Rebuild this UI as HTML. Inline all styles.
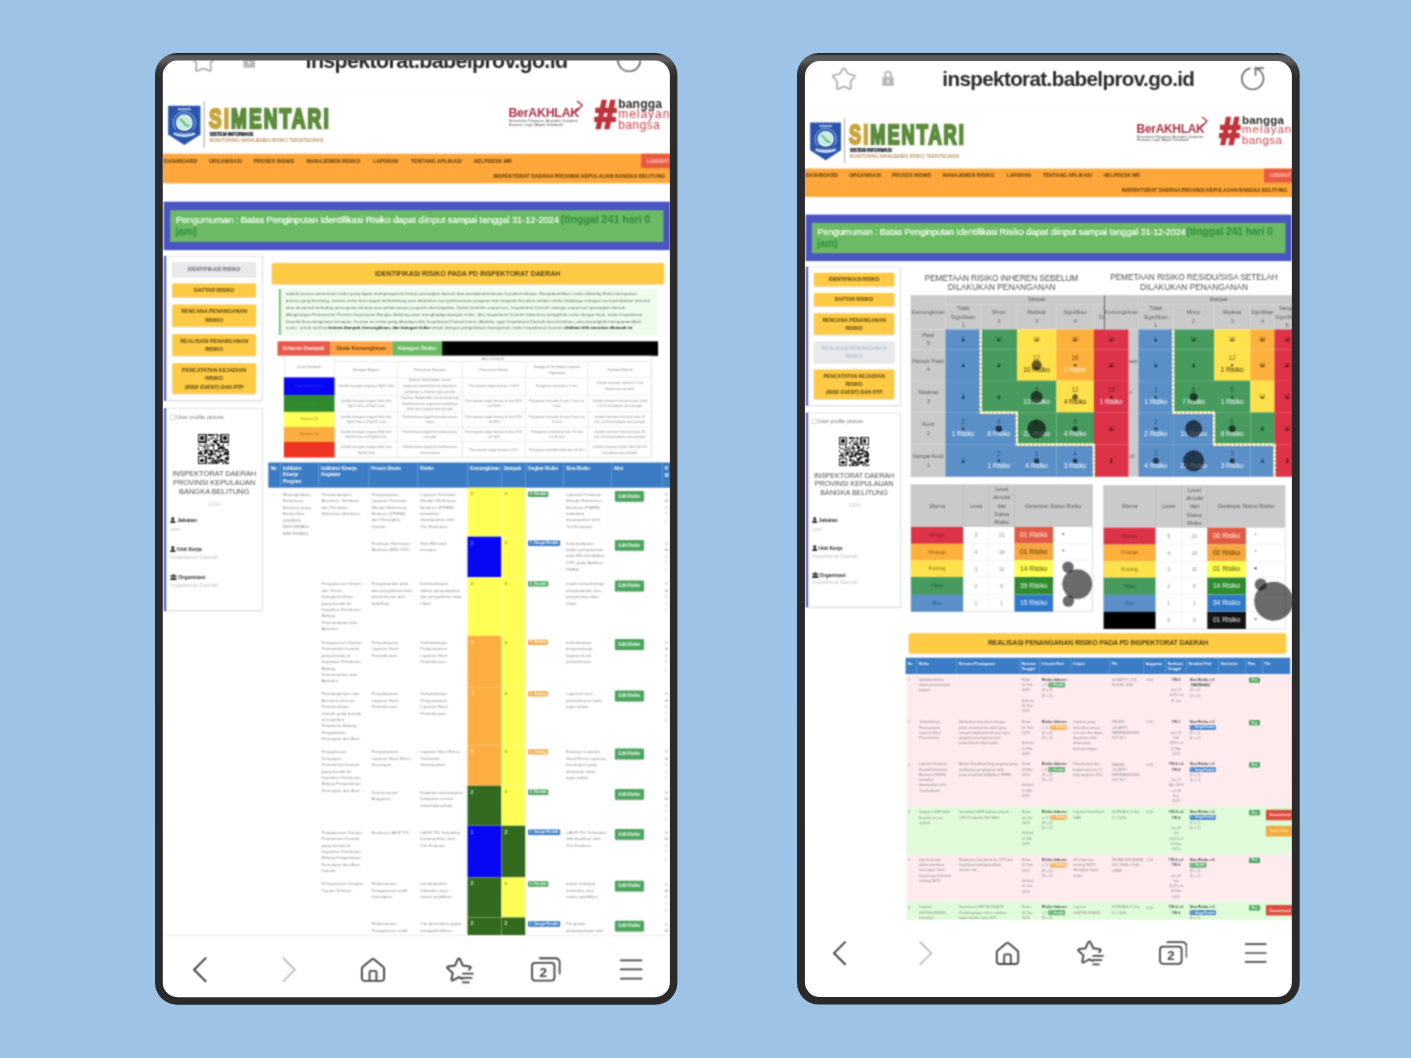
<!DOCTYPE html>
<html lang="id"><head><meta charset="utf-8"><title>SIMENTARI - Inspektorat Daerah Provinsi Kepulauan Bangka Belitung</title>
<style>
html,body{margin:0;padding:0;}
body{width:1411px;height:1058px;overflow:hidden;background:#9dc3e6;position:relative;font-family:"Liberation Sans",sans-serif;}
div,svg{position:absolute;box-sizing:content-box;}
.sc{background:#fff;overflow:hidden;}
.web{overflow:hidden;}
.fx{filter:url(#soft);background:#fff;overflow:hidden;}
</style></head>
<body>
<svg width="0" height="0" style="left:0;top:0"><filter id="soft" x="0" y="0" width="100%" height="100%" color-interpolation-filters="sRGB"><feConvolveMatrix order="3" kernelMatrix="1 2 1 2 4 2 1 2 1" divisor="16" edgeMode="duplicate" preserveAlpha="true"/></filter></svg>
<div class="sc" style="left:163px;top:60px;width:508px;height:938px;"><div class="fx" style="left:0;top:0;width:508px;height:938px;"><div class="web" style="left:0;top:0;width:508px;height:875.2px;"><svg style="left:4.97px;top:45.34px;width:32.71px;height:39.93px;" viewBox="0 0 31.4 38.3" preserveAspectRatio="none"><path d="M0.1 0.6 H31.2 V28.2 L15.7 38.3 L0.1 28.2 Z" fill="#2b55ad"/><circle cx="15.7" cy="17" r="10.6" fill="none" stroke="#9cc3ea" stroke-width="0.9"/><circle cx="15.7" cy="17" r="7.4" fill="#c3eedd" stroke="#e9f6ff" stroke-width="1.4"/><path d="M11.6 13.6 q3 1.4 4 4.2 q1.6 2.2 4.4 2.4" fill="none" stroke="#4fae7c" stroke-width="1.5" stroke-linecap="round"/><rect x="9.4" y="3.4" width="12.6" height="1.2" fill="#e6eefb"/><path d="M5.6 27.4 q10 4.4 20.2 0" fill="none" stroke="#e6eefb" stroke-width="2.2"/><path d="M8 24 q7.6 3 15.4 0" fill="none" stroke="#16306e" stroke-width="1.2"/></svg>
<svg style="left:39px;top:40px;width:4px;height:49px;" viewBox="39 40 4 49"><rect x="40.8" y="41.38" width="0.63" height="46.29" fill="#6a6e78"/></svg>
<div style="left:45.95px;top:42.95px;height:31.25px;line-height:31.25px;font-size:28.3px;font-weight:bold;white-space:nowrap;transform-origin:0 50%;transform:scaleX(0.67);-webkit-text-stroke:2.6px currentColor;color:#5e8c3c;letter-spacing:3.13px"><span style="color:#c9a53c">SI</span>MENTARI</div>
<div style="left:46.53px;top:71px;width:47.75px;height:7px;line-height:7px;font-size:4.79px;color:#22262e;white-space:nowrap;text-align:left;font-weight:bold;letter-spacing:-0.14px;text-shadow:0 0 0.4px #22262e;">SISTEM INFORMASI</div>
<div style="left:46.53px;top:77px;width:118.17px;height:7px;line-height:7px;font-size:4.69px;color:#a8702f;white-space:nowrap;text-align:left;">MONITORING MANAJEMEN RISIKO TERINTEGRASI</div>
<div style="left:345.39px;top:46px;width:74.63px;height:15px;line-height:15px;font-size:12.4px;color:#a93248;white-space:nowrap;text-align:left;font-weight:bold;letter-spacing:-0.26px;">BerAKHLAK</div>
<svg style="left:411.75px;top:39.71px;width:8.65px;height:12.51px;" viewBox="0 0 9 13" preserveAspectRatio="none"><path d="M1.4 12 L7.6 5.4 L2.6 1.4" fill="none" stroke="#a93248" stroke-width="1.5" stroke-linecap="round" stroke-linejoin="round"/></svg>
<div style="left:345.81px;top:59px;width:74.21px;height:5px;line-height:5px;font-size:3.13px;color:#444;white-space:nowrap;text-align:left;letter-spacing:0.13px;">Berorientasi Pelayanan, Akuntabel, Kompeten,</div>
<div style="left:345.81px;top:63px;width:58.17px;height:5px;line-height:5px;font-size:3.13px;color:#444;white-space:nowrap;text-align:left;letter-spacing:0.1px;">Harmonis, Loyal, Adaptif, Kolaboratif</div>
<div style="left:431.23px;top:32px;width:25.44px;height:46px;line-height:46px;font-size:38.54px;color:#bf343c;white-space:nowrap;text-align:left;font-weight:bold;font-style:italic;-webkit-text-stroke:2.4px #bf343c;">#</div>
<div style="left:455.19px;top:37px;width:47.96px;height:15px;line-height:15px;font-size:12.08px;color:#2b2b2b;white-space:nowrap;text-align:left;font-weight:bold;letter-spacing:0.17px;">bangga</div>
<div style="left:455.19px;top:47px;width:59.84px;height:15px;line-height:15px;font-size:12.08px;color:#c9454c;white-space:nowrap;text-align:left;letter-spacing:0.93px;">melayani</div>
<div style="left:455.19px;top:58px;width:45.88px;height:15px;line-height:15px;font-size:12.08px;color:#c9454c;white-space:nowrap;text-align:left;letter-spacing:0.37px;">bangsa</div>
<svg style="left:-7px;top:92px;width:522px;height:33px;" viewBox="-7 92 522 33"><rect x="-5.24" y="93.71" width="518.77" height="29.61" fill="#ffa73a"/></svg>
<div style="left:0.8px;top:98px;width:37.33px;height:7px;line-height:7px;font-size:5.21px;color:#5c3b0d;white-space:nowrap;text-align:left;font-weight:bold;letter-spacing:-0.06px;">DASHBOARD</div>
<div style="left:46.01px;top:98px;width:37.02px;height:7px;line-height:7px;font-size:5.21px;color:#5c3b0d;white-space:nowrap;text-align:left;font-weight:bold;">ORGANISASI</div>
<div style="left:90.59px;top:98px;width:44.63px;height:7px;line-height:7px;font-size:5.21px;color:#5c3b0d;white-space:nowrap;text-align:left;font-weight:bold;letter-spacing:0.01px;">PROSES BISNIS</div>
<div style="left:143.41px;top:98px;width:57.86px;height:7px;line-height:7px;font-size:5.21px;color:#5c3b0d;white-space:nowrap;text-align:left;font-weight:bold;letter-spacing:0.06px;">MANAJEMEN RISIKO</div>
<div style="left:210.18px;top:98px;width:29.1px;height:7px;line-height:7px;font-size:5.21px;color:#5c3b0d;white-space:nowrap;text-align:left;font-weight:bold;letter-spacing:-0.09px;">LAPORAN</div>
<div style="left:247.79px;top:98px;width:54.94px;height:7px;line-height:7px;font-size:5.21px;color:#5c3b0d;white-space:nowrap;text-align:left;font-weight:bold;letter-spacing:0.04px;">TENTANG APLIKASI</div>
<div style="left:310.81px;top:98px;width:42.13px;height:7px;line-height:7px;font-size:5.21px;color:#5c3b0d;white-space:nowrap;text-align:left;font-weight:bold;letter-spacing:0.02px;">HELPDESK MR</div>
<svg style="left:477px;top:92px;width:38px;height:18px;" viewBox="477 92 38 18"><rect x="478.11" y="93.71" width="35.42" height="14.49" fill="#ea5a41"/></svg>
<div style="left:482.05px;top:98px;width:25.88px;height:7px;line-height:7px;font-size:5.1px;color:#ffd9cf;white-space:nowrap;text-align:center;font-weight:bold;letter-spacing:0.01px;">LOGOUT</div>
<div style="left:330.19px;top:113px;width:176.4px;height:7px;line-height:7px;font-size:5.21px;color:#5c3b0d;white-space:nowrap;text-align:left;font-weight:bold;letter-spacing:-0.02px;">INSPEKTORAT DAERAH PROVINSI KEPULAUAN BANGKA BELITUNG</div>
<svg style="left:-1px;top:140px;width:509px;height:52px;" viewBox="-1 140 509 52"><rect x="0.7" y="141.67" width="506.16" height="48.48" fill="#4b55c1"/><rect x="7.15" y="150.22" width="493.24" height="31.69" fill="#6cb966"/></svg>
<div style="left:13.09px;top:154px;width:386.93px;height:13px;line-height:13px;font-size:9.38px;color:#f3fdee;white-space:nowrap;text-align:left;letter-spacing:-0.12px;text-shadow:0 0 0.5px #f3fdee;">Pengumuman : Batas Penginputan Identifikasi Risiko dapat diinput sampai tanggal 31-12-2024</div>
<div style="left:397.48px;top:153px;width:93.9px;height:13px;line-height:13px;font-size:10.63px;color:#2f9038;white-space:nowrap;text-align:left;font-weight:bold;letter-spacing:-0.02px;">(tinggal 241 hari 0</div>
<div style="left:12.47px;top:165px;width:25.25px;height:13px;line-height:13px;font-size:10.63px;color:#2f9038;white-space:nowrap;text-align:left;font-weight:bold;letter-spacing:-0.15px;">jam)</div>
<svg style="left:-1px;top:194px;width:103px;height:149px;" viewBox="-1 194 103 149"><rect x="0.46" y="195.96" width="99.64" height="145.9" fill="rgba(0,0,0,.10)" rx="0.55" opacity="0.7"/><rect x="1.01" y="195.98" width="98.54" height="144.8" fill="#d6d6de"/><rect x="1.01" y="195.98" width="2.29" height="144.8" fill="#5256c4"/><rect x="3.3" y="196.61" width="95.63" height="143.55" fill="#fff"/><rect x="8.9" y="202.53" width="84.42" height="14.95" fill="rgba(0,0,0,.18)" rx="1.48" opacity="0.7"/><rect x="9.34" y="202.34" width="83.54" height="14.07" fill="#e9e9ec" rx="1.04"/></svg>
<div style="left:22.79px;top:206px;width:56.61px;height:7px;line-height:7px;font-size:5.21px;color:#6b6e74;white-space:nowrap;text-align:center;font-weight:bold;letter-spacing:-0.05px;">IDENTIFIKASI RISIKO</div>
<svg style="left:7px;top:222px;width:88px;height:18px;" viewBox="7 222 88 18"><rect x="8.9" y="223.59" width="84.42" height="14.74" fill="rgba(0,0,0,.18)" rx="1.48" opacity="0.7"/><rect x="9.34" y="223.4" width="83.54" height="13.87" fill="#ffcb45" rx="1.04"/></svg>
<div style="left:29px;top:227px;width:44.21px;height:7px;line-height:7px;font-size:5.21px;color:#57440f;white-space:nowrap;text-align:center;font-weight:bold;letter-spacing:-0.02px;">DAFTAR RISIKO</div>
<svg style="left:7px;top:243px;width:88px;height:26px;" viewBox="7 243 88 26"><rect x="8.9" y="244.65" width="84.42" height="22.98" fill="rgba(0,0,0,.18)" rx="1.48" opacity="0.7"/><rect x="9.34" y="244.46" width="83.54" height="22.1" fill="#ffcb45" rx="1.04"/></svg>
<div style="left:16.08px;top:248px;width:70.15px;height:7px;line-height:7px;font-size:5.21px;color:#57440f;white-space:nowrap;text-align:center;font-weight:bold;letter-spacing:0.08px;">RENCANA PENANGANAN</div>
<div style="left:40.15px;top:257px;width:21.92px;height:7px;line-height:7px;font-size:5.21px;color:#57440f;white-space:nowrap;text-align:center;font-weight:bold;">RISIKO</div>
<svg style="left:7px;top:272px;width:88px;height:26px;" viewBox="7 272 88 26"><rect x="8.9" y="274.15" width="84.42" height="22.66" fill="rgba(0,0,0,.18)" rx="1.48" opacity="0.7"/><rect x="9.34" y="273.96" width="83.54" height="21.79" fill="#ffcb45" rx="1.04"/></svg>
<div style="left:15.29px;top:278px;width:71.71px;height:7px;line-height:7px;font-size:5.21px;color:#57440f;white-space:nowrap;text-align:center;font-weight:bold;letter-spacing:0.06px;">REALISASI PENANGANAN</div>
<div style="left:40.15px;top:286px;width:21.92px;height:7px;line-height:7px;font-size:5.21px;color:#57440f;white-space:nowrap;text-align:center;font-weight:bold;">RISIKO</div>
<svg style="left:7px;top:302px;width:88px;height:34px;" viewBox="7 302 88 34"><rect x="8.9" y="303.34" width="84.42" height="31.52" fill="rgba(0,0,0,.18)" rx="1.48" opacity="0.7"/><rect x="9.34" y="303.15" width="83.54" height="30.65" fill="#ffcb45" rx="1.04"/></svg>
<div style="left:17.13px;top:307px;width:68.06px;height:7px;line-height:7px;font-size:5.21px;color:#57440f;white-space:nowrap;text-align:center;font-weight:bold;letter-spacing:0.09px;">PENCATATAN KEJADIAN</div>
<div style="left:40.15px;top:315px;width:21.92px;height:7px;line-height:7px;font-size:5.21px;color:#57440f;white-space:nowrap;text-align:center;font-weight:bold;">RISIKO</div>
<div style="left:19.68px;top:324px;width:62.86px;height:7px;line-height:7px;font-size:5.21px;color:#57440f;white-space:nowrap;text-align:center;font-weight:bold;font-style:italic;letter-spacing:-0.02px;">(RISK EVENT) DAN RTP</div>
<svg style="left:-1px;top:347px;width:103px;height:207px;" viewBox="-1 347 103 207"><rect x="0.46" y="348.16" width="99.64" height="203.86" fill="rgba(0,0,0,.10)" rx="0.55" opacity="0.7"/><rect x="1.01" y="348.19" width="98.54" height="202.77" fill="#d6d6de"/><rect x="1.01" y="348.19" width="2.29" height="202.77" fill="#5256c4"/><rect x="3.3" y="348.81" width="95.63" height="201.52" fill="#fff"/><rect x="7.26" y="354.55" width="4.79" height="5.21" fill="#b9b9b9"/><rect x="7.78" y="355.07" width="3.75" height="4.17" fill="#fff"/></svg>
<div style="left:12.88px;top:353px;width:51.92px;height:8px;line-height:8px;font-size:5.83px;color:#7c7c7c;white-space:nowrap;text-align:left;letter-spacing:-0.05px;">User profile picture</div>
<svg style="left:35.28px;top:373.73px;width:31.04px;height:30.65px;shape-rendering:crispEdges;" viewBox="0 0 25 25" preserveAspectRatio="none"><path d="M0 0h7v1h-7zM8 0h5v1h-5zM14 0h2v1h-2zM18 0h7v1h-7zM0 1h1v1h-1zM6 1h1v1h-1zM8 1h3v1h-3zM12 1h2v1h-2zM15 1h2v1h-2zM18 1h1v1h-1zM24 1h1v1h-1zM0 2h1v1h-1zM2 2h3v1h-3zM6 2h1v1h-1zM11 2h1v1h-1zM15 2h1v1h-1zM18 2h1v1h-1zM20 2h3v1h-3zM24 2h1v1h-1zM0 3h1v1h-1zM2 3h3v1h-3zM6 3h1v1h-1zM9 3h3v1h-3zM13 3h2v1h-2zM18 3h1v1h-1zM20 3h3v1h-3zM24 3h1v1h-1zM0 4h1v1h-1zM2 4h3v1h-3zM6 4h1v1h-1zM8 4h1v1h-1zM15 4h1v1h-1zM18 4h1v1h-1zM20 4h3v1h-3zM24 4h1v1h-1zM0 5h1v1h-1zM6 5h1v1h-1zM8 5h2v1h-2zM12 5h5v1h-5zM18 5h1v1h-1zM24 5h1v1h-1zM0 6h7v1h-7zM12 6h3v1h-3zM18 6h7v1h-7zM10 7h1v1h-1zM14 7h3v1h-3zM0 8h1v1h-1zM5 8h2v1h-2zM8 8h1v1h-1zM11 8h2v1h-2zM15 8h3v1h-3zM20 8h1v1h-1zM24 8h1v1h-1zM1 9h2v1h-2zM7 9h1v1h-1zM10 9h4v1h-4zM15 9h3v1h-3zM19 9h2v1h-2zM23 9h1v1h-1zM3 10h4v1h-4zM8 10h2v1h-2zM12 10h1v1h-1zM16 10h1v1h-1zM18 10h2v1h-2zM0 11h1v1h-1zM5 11h1v1h-1zM7 11h1v1h-1zM12 11h1v1h-1zM16 11h6v1h-6zM0 12h1v1h-1zM3 12h1v1h-1zM6 12h1v1h-1zM8 12h2v1h-2zM12 12h2v1h-2zM15 12h3v1h-3zM19 12h1v1h-1zM21 12h3v1h-3zM1 13h1v1h-1zM5 13h3v1h-3zM9 13h3v1h-3zM14 13h2v1h-2zM19 13h2v1h-2zM22 13h2v1h-2zM2 14h1v1h-1zM4 14h1v1h-1zM6 14h2v1h-2zM10 14h2v1h-2zM13 14h7v1h-7zM21 14h1v1h-1zM23 14h2v1h-2zM0 15h3v1h-3zM5 15h2v1h-2zM8 15h1v1h-1zM10 15h2v1h-2zM13 15h1v1h-1zM17 15h1v1h-1zM21 15h4v1h-4zM0 16h1v1h-1zM2 16h3v1h-3zM8 16h7v1h-7zM18 16h1v1h-1zM20 16h5v1h-5zM8 17h3v1h-3zM17 17h2v1h-2zM20 17h1v1h-1zM23 17h1v1h-1zM0 18h7v1h-7zM14 18h5v1h-5zM24 18h1v1h-1zM0 19h1v1h-1zM6 19h1v1h-1zM8 19h3v1h-3zM12 19h1v1h-1zM15 19h3v1h-3zM22 19h3v1h-3zM0 20h1v1h-1zM2 20h3v1h-3zM6 20h1v1h-1zM9 20h1v1h-1zM11 20h3v1h-3zM15 20h1v1h-1zM18 20h2v1h-2zM22 20h3v1h-3zM0 21h1v1h-1zM2 21h3v1h-3zM6 21h1v1h-1zM11 21h1v1h-1zM13 21h9v1h-9zM23 21h1v1h-1zM0 22h1v1h-1zM2 22h3v1h-3zM6 22h1v1h-1zM10 22h5v1h-5zM16 22h1v1h-1zM18 22h2v1h-2zM21 22h2v1h-2zM0 23h1v1h-1zM6 23h1v1h-1zM8 23h1v1h-1zM11 23h2v1h-2zM14 23h4v1h-4zM20 23h1v1h-1zM22 23h1v1h-1zM24 23h1v1h-1zM0 24h7v1h-7zM8 24h8v1h-8zM19 24h2v1h-2zM22 24h3v1h-3z" fill="#1c1c1c"/></svg>
<div style="left:7.19px;top:409px;width:87.75px;height:10px;line-height:10px;font-size:7.5px;color:#505050;white-space:nowrap;text-align:center;letter-spacing:-0.09px;">INSPEKTORAT DAERAH</div>
<div style="left:8.04px;top:418px;width:86.09px;height:10px;line-height:10px;font-size:7.5px;color:#505050;white-space:nowrap;text-align:center;letter-spacing:-0.07px;">PROVINSI KEPULAUAN</div>
<div style="left:13.9px;top:427px;width:74.42px;height:10px;line-height:10px;font-size:7.5px;color:#505050;white-space:nowrap;text-align:center;">BANGKA BELITUNG</div>
<div style="left:43.34px;top:441px;width:16.08px;height:7px;line-height:7px;font-size:5.21px;color:#c4c4c4;white-space:nowrap;text-align:center;letter-spacing:0.12px;">1234</div>
<svg style="left:7.26px;top:457.02px;width:5.63px;height:6.25px;" viewBox="0 0 10 11" preserveAspectRatio="none"><circle cx="5" cy="3" r="2.8" fill="#333"/><path d="M0.2 11 a4.8 5.2 0 0 1 9.6 0 Z" fill="#333"/></svg>
<div style="left:14.13px;top:456px;width:23.79px;height:8px;line-height:8px;font-size:5.42px;color:#2f2f2f;white-space:nowrap;text-align:left;font-weight:bold;letter-spacing:-0.1px;">Jabatan</div>
<div style="left:7.26px;top:465px;width:14.83px;height:8px;line-height:8px;font-size:5.42px;color:#c2c2c2;white-space:nowrap;text-align:left;letter-spacing:0.07px;">user</div>
<svg style="left:7.26px;top:486.11px;width:5.63px;height:6.25px;" viewBox="0 0 10 11" preserveAspectRatio="none"><circle cx="5" cy="3" r="2.8" fill="#333"/><path d="M0.2 11 a4.8 5.2 0 0 1 9.6 0 Z" fill="#333"/></svg>
<div style="left:13.72px;top:485px;width:29px;height:8px;line-height:8px;font-size:5.42px;color:#2f2f2f;white-space:nowrap;text-align:left;font-weight:bold;letter-spacing:-0.06px;">Unit Kerja</div>
<div style="left:7.26px;top:493px;width:51.71px;height:8px;line-height:8px;font-size:5.42px;color:#c2c2c2;white-space:nowrap;text-align:left;letter-spacing:0.09px;">Inspektorat Daerah</div>
<svg style="left:7.26px;top:514.15px;width:6.88px;height:6.25px;" viewBox="0 0 12 11" preserveAspectRatio="none"><circle cx="6" cy="3" r="2.6" fill="#333"/><circle cx="2.2" cy="4" r="1.8" fill="#333"/><circle cx="9.8" cy="4" r="1.8" fill="#333"/><path d="M0 11 a6 5 0 0 1 12 0 Z" fill="#333"/></svg>
<div style="left:15.18px;top:513px;width:31.29px;height:8px;line-height:8px;font-size:5.42px;color:#2f2f2f;white-space:nowrap;text-align:left;font-weight:bold;letter-spacing:-0.07px;">Organisasi</div>
<div style="left:7.26px;top:521px;width:51.71px;height:8px;line-height:8px;font-size:5.42px;color:#c2c2c2;white-space:nowrap;text-align:left;letter-spacing:0.09px;">Inspektorat Daerah</div>
<svg style="left:107px;top:201px;width:396px;height:26px;" viewBox="107 201 396 26"><rect x="108.38" y="203.08" width="393.14" height="22.14" fill="rgba(0,0,0,.15)" rx="2.42" opacity="0.7"/><rect x="108.8" y="202.9" width="392.3" height="21.3" fill="#ffcb45" rx="2"/></svg>
<div style="left:212px;top:209px;width:189.2px;height:10px;line-height:10px;font-size:7px;color:#5b4a12;white-space:nowrap;text-align:left;font-weight:bold;letter-spacing:-0.06px;">IDENTIFIKASI RISIKO PADA PD INSPEKTORAT DAERAH</div>
<svg style="left:115px;top:228px;width:381px;height:48px;" viewBox="115 228 381 48"><rect x="116" y="229" width="378.4" height="46" fill="#eefcec"/><rect x="116" y="229" width="1.6" height="46" fill="#5fb561"/></svg>
<div style="left:122.7px;top:231px;width:355.8px;height:6px;line-height:6px;font-size:4.4px;color:#5d6660;white-space:nowrap;text-align:left;letter-spacing:0.07px;">adalah proses penentuan risiko yang dapat mempengaruhi kinerja perangkat daerah dan pendokumentasian karakteristiknya. Mengidentifikasi risiko (Identify Risk) merupakan</div>
<div style="left:122.7px;top:238px;width:368.3px;height:6px;line-height:6px;font-size:4.4px;color:#5d6660;white-space:nowrap;text-align:left;letter-spacing:0.06px;">proses yang berulang, karena risiko baru dapat berkembang atau diketahui saat pelaksanaan program dan kegiatan berjalan melalui siklus hidupnya sebagai hasil perubahan internal</div>
<div style="left:122.7px;top:245px;width:343.7px;height:6px;line-height:6px;font-size:4.4px;color:#5d6660;white-space:nowrap;text-align:left;letter-spacing:0.06px;">atau eksternal terhadap pencapaian kinerja atas pelaksanaan program dan kegiatan. Dalam konteks organisasi, Inspektorat Daerah sebagai organisasi perangkat daerah</div>
<div style="left:122.7px;top:252px;width:361.5px;height:6px;line-height:6px;font-size:4.4px;color:#5d6660;white-space:nowrap;text-align:left;letter-spacing:0.06px;">dilingkungan Pemerintah Provinsi Kepulauan Bangka Belitung akan menghadapi banyak risiko. Jika Inspektorat Daerah tidak bisa mengelola risiko dengan baik, maka Inspektorat</div>
<div style="left:122.7px;top:259px;width:360.5px;height:6px;line-height:6px;font-size:4.4px;color:#5d6660;white-space:nowrap;text-align:left;letter-spacing:0.05px;">Daerah bisa mengalami kerugian. Karena itu risiko yang dihadapi oleh Inspektorat Daerah harus dikelola, agar Inspektorat Daerah bisa bertahan, atau barangkali mengoptimalkan</div>
<div style="left:122.7px;top:265px;width:46.4px;height:6px;line-height:6px;font-size:4.4px;color:#5d6660;white-space:nowrap;text-align:left;letter-spacing:0.17px;">risiko. untuk melihat</div>
<div style="left:165.6px;top:265px;width:105.4px;height:6px;line-height:6px;font-size:4.4px;color:#1d2420;white-space:nowrap;text-align:left;font-weight:bold;letter-spacing:-0.07px;">kriteria dampak, kemungkinan, dan kategori risiko</div>
<div style="left:268.2px;top:265px;width:135.6px;height:6px;line-height:6px;font-size:4.4px;color:#5d6660;white-space:nowrap;text-align:left;letter-spacing:0.07px;">terkait dengan pengelolaan manajemen risiko Inspektorat Daerah</div>
<div style="left:400.8px;top:265px;width:72.8px;height:6px;line-height:6px;font-size:4.4px;color:#1d2420;white-space:nowrap;text-align:left;font-weight:bold;letter-spacing:-0.07px;">silahkan klik menubar dibawah ini</div>
<svg style="left:113px;top:280px;width:384px;height:18px;" viewBox="113 280 384 18"><rect x="278.58" y="281.48" width="216.84" height="15.24" fill="rgba(0,0,0,.25)" rx="0.42" opacity="0.7"/><rect x="279" y="281.3" width="216" height="14.4" fill="#000"/><rect x="114.5" y="281.3" width="52.8" height="14.4" fill="#e8584b"/><rect x="167.2" y="281.3" width="62.2" height="14.4" fill="#ffa440"/><rect x="229.3" y="281.3" width="49.9" height="14.4" fill="#6cb966"/></svg>
<div style="left:118.01px;top:284px;width:45.6px;height:8px;line-height:8px;font-size:5.4px;color:#fff1ee;white-space:nowrap;text-align:center;font-weight:bold;letter-spacing:0.01px;">Kriteria Dampak</div>
<div style="left:171.26px;top:284px;width:54px;height:8px;line-height:8px;font-size:5.4px;color:#6b4713;white-space:nowrap;text-align:center;font-weight:bold;letter-spacing:-0.08px;">Skala Kemungkinan</div>
<div style="left:232.87px;top:284px;width:42.6px;height:8px;line-height:8px;font-size:5.4px;color:#f0fbe9;white-space:nowrap;text-align:center;font-weight:bold;letter-spacing:-0.07px;">Kategori Risiko</div>
<svg style="left:119px;top:294px;width:371px;height:105px;" viewBox="119 294 371 105"><rect x="120.9" y="295.7" width="367.8" height="101.8" fill="#d2d2d2"/><rect x="121.5" y="296.3" width="366.6" height="100.6" fill="#fff"/><rect x="171.2" y="295.7" width="0.6" height="101.8" fill="#dcdcdc"/><rect x="234.4" y="301.8" width="0.6" height="95.7" fill="#dcdcdc"/><rect x="298.9" y="301.8" width="0.6" height="95.7" fill="#dcdcdc"/><rect x="362.2" y="301.8" width="0.6" height="95.7" fill="#dcdcdc"/><rect x="424.6" y="301.8" width="0.6" height="95.7" fill="#dcdcdc"/><rect x="171.5" y="301.5" width="317.2" height="0.6" fill="#e2e2e2"/><rect x="120.9" y="317.1" width="367.8" height="0.6" fill="#e2e2e2"/><rect x="120.9" y="334.8" width="367.8" height="0.6" fill="#e2e2e2"/><rect x="120.9" y="351.6" width="367.8" height="0.6" fill="#e2e2e2"/><rect x="120.9" y="366.7" width="367.8" height="0.6" fill="#e2e2e2"/><rect x="120.9" y="381.6" width="367.8" height="0.6" fill="#e2e2e2"/><rect x="120.9" y="317.4" width="50.6" height="17.7" fill="#0707f3"/></svg>
<div style="left:129.71px;top:324px;width:32.98px;height:5px;line-height:5px;font-size:3.4px;color:#3030ff;white-space:nowrap;text-align:center;">Tidak Signifikan (1)</div>
<svg style="left:119px;top:334px;width:54px;height:19px;" viewBox="119 334 54 19"><rect x="120.9" y="335.1" width="50.6" height="16.8" fill="#2e8a2c"/></svg>
<div style="left:137.4px;top:342px;width:17.6px;height:5px;line-height:5px;font-size:3.4px;color:#3f9a3f;white-space:nowrap;text-align:center;">Minor (2)</div>
<svg style="left:119px;top:350px;width:54px;height:18px;" viewBox="119 350 54 18"><rect x="120.9" y="351.9" width="50.6" height="15.1" fill="#ffff55"/></svg>
<div style="left:135.41px;top:357px;width:21.57px;height:5px;line-height:5px;font-size:3.4px;color:#9a9a20;white-space:nowrap;text-align:center;">Moderat (3)</div>
<svg style="left:119px;top:366px;width:54px;height:17px;" viewBox="119 366 54 17"><rect x="120.9" y="367" width="50.6" height="14.9" fill="#fdae41"/></svg>
<div style="left:134.28px;top:372px;width:23.84px;height:5px;line-height:5px;font-size:3.4px;color:#b07420;white-space:nowrap;text-align:center;">Signifikan (4)</div>
<svg style="left:119px;top:380px;width:54px;height:19px;" viewBox="119 380 54 19"><rect x="120.9" y="381.9" width="50.6" height="15.6" fill="#f2331f"/></svg>
<div style="left:128.42px;top:388px;width:35.56px;height:5px;line-height:5px;font-size:3.4px;color:#c84a30;white-space:nowrap;text-align:center;">Sangat Signifikan (5)</div>
<div style="left:132.27px;top:305px;width:28px;height:5px;line-height:5px;font-size:3.5px;color:#8a8a8a;white-space:nowrap;text-align:center;letter-spacing:0.14px;">Level Dampak</div>
<div style="left:316.8px;top:297px;width:26.5px;height:5px;line-height:5px;font-size:3.5px;color:#8a8a8a;white-space:nowrap;text-align:center;letter-spacing:0.1px;">Area Dampak</div>
<div style="left:187.87px;top:308px;width:30.46px;height:5px;line-height:5px;font-size:3.5px;color:#8a8a8a;white-space:nowrap;text-align:center;">Kerugian Negara</div>
<div style="left:248.99px;top:308px;width:35.91px;height:5px;line-height:5px;font-size:3.5px;color:#8a8a8a;white-space:nowrap;text-align:center;">Penurunan Reputasi</div>
<div style="left:314.35px;top:308px;width:32.99px;height:5px;line-height:5px;font-size:3.5px;color:#8a8a8a;white-space:nowrap;text-align:center;">Penurunan Kinerja</div>
<div style="left:368.57px;top:305px;width:50.25px;height:5px;line-height:5px;font-size:3.5px;color:#8a8a8a;white-space:nowrap;text-align:center;">Gangguan Terhadap Layanan</div>
<div style="left:383.34px;top:311px;width:20.73px;height:5px;line-height:5px;font-size:3.5px;color:#8a8a8a;white-space:nowrap;text-align:center;">Organisasi</div>
<div style="left:441.93px;top:308px;width:29.74px;height:5px;line-height:5px;font-size:3.5px;color:#8a8a8a;white-space:nowrap;text-align:center;">Tuntutan Hukum</div>
<div style="left:173.23px;top:324px;width:59.73px;height:5px;line-height:5px;font-size:3.4px;color:#8f8f8f;white-space:nowrap;text-align:center;">Jumlah kerugian negara ≤ Rp10 Juta</div>
<div style="left:243.59px;top:318px;width:46.72px;height:5px;line-height:5px;font-size:3.4px;color:#8f8f8f;white-space:nowrap;text-align:center;">Keluhan Stakeholder secara</div>
<div style="left:238.11px;top:324px;width:57.68px;height:5px;line-height:5px;font-size:3.4px;color:#8f8f8f;white-space:nowrap;text-align:center;">langsung lisan/tertulis ke organisasi</div>
<div style="left:239.45px;top:330px;width:55.01px;height:5px;line-height:5px;font-size:3.4px;color:#8f8f8f;white-space:nowrap;text-align:center;">jumlahnya ≤ 3 dalam satu periode</div>
<div style="left:303.34px;top:324px;width:55.01px;height:5px;line-height:5px;font-size:3.4px;color:#8f8f8f;white-space:nowrap;text-align:center;">Pencapaian target kinerja ≥ 100%</div>
<div style="left:370.82px;top:324px;width:45.75px;height:5px;line-height:5px;font-size:3.4px;color:#8f8f8f;white-space:nowrap;text-align:center;">Pelayanan tertunda ≤ 1 hari</div>
<div style="left:431.28px;top:321px;width:51.04px;height:5px;line-height:5px;font-size:3.4px;color:#8f8f8f;white-space:nowrap;text-align:center;">Jumlah tuntutan hukum ≤ 5 kali</div>
<div style="left:440.34px;top:327px;width:32.92px;height:5px;line-height:5px;font-size:3.4px;color:#8f8f8f;white-space:nowrap;text-align:center;">dalam satu periode</div>
<div style="left:175.49px;top:339px;width:55.22px;height:5px;line-height:5px;font-size:3.4px;color:#8f8f8f;white-space:nowrap;text-align:center;">Jumlah kerugian negara lebih dari</div>
<div style="left:182.39px;top:344px;width:41.42px;height:5px;line-height:5px;font-size:3.4px;color:#8f8f8f;white-space:nowrap;text-align:center;">Rp10 Juta s.d Rp50 Juta</div>
<div style="left:236.22px;top:336px;width:61.46px;height:5px;line-height:5px;font-size:3.4px;color:#8f8f8f;white-space:nowrap;text-align:center;">Keluhan Stakeholder secara langsung</div>
<div style="left:237.26px;top:342px;width:59.37px;height:5px;line-height:5px;font-size:3.4px;color:#8f8f8f;white-space:nowrap;text-align:center;">lisan/tertulis ke organisasi jumlahnya</div>
<div style="left:241.7px;top:347px;width:50.5px;height:5px;line-height:5px;font-size:3.4px;color:#8f8f8f;white-space:nowrap;text-align:center;">lebih dari 3 dalam satu periode</div>
<div style="left:300.21px;top:339px;width:61.27px;height:5px;line-height:5px;font-size:3.4px;color:#8f8f8f;white-space:nowrap;text-align:center;">Pencapaian target kinerja di atas 80%</div>
<div style="left:321.76px;top:344px;width:18.18px;height:5px;line-height:5px;font-size:3.4px;color:#8f8f8f;white-space:nowrap;text-align:center;">s.d 100%</div>
<div style="left:364.01px;top:339px;width:59.38px;height:5px;line-height:5px;font-size:3.4px;color:#8f8f8f;white-space:nowrap;text-align:center;">Pelayanan tertunda di atas 1 hari s.d</div>
<div style="left:387.45px;top:344px;width:12.51px;height:5px;line-height:5px;font-size:3.4px;color:#8f8f8f;white-space:nowrap;text-align:center;">5 hari</div>
<div style="left:427.21px;top:339px;width:59.19px;height:5px;line-height:5px;font-size:3.4px;color:#8f8f8f;white-space:nowrap;text-align:center;">Jumlah tuntutan hukum di atas 5 kali</div>
<div style="left:432.21px;top:344px;width:49.17px;height:5px;line-height:5px;font-size:3.4px;color:#8f8f8f;white-space:nowrap;text-align:center;">s.d 15 kali dalam satu periode</div>
<div style="left:175.49px;top:355px;width:55.22px;height:5px;line-height:5px;font-size:3.4px;color:#8f8f8f;white-space:nowrap;text-align:center;">Jumlah kerugian negara lebih dari</div>
<div style="left:181.44px;top:360px;width:43.31px;height:5px;line-height:5px;font-size:3.4px;color:#8f8f8f;white-space:nowrap;text-align:center;">Rp50 Juta s.d Rp100 Juta</div>
<div style="left:237.36px;top:355px;width:59.19px;height:5px;line-height:5px;font-size:3.4px;color:#8f8f8f;white-space:nowrap;text-align:center;">Pemberitaan negatif di media massa</div>
<div style="left:261.45px;top:360px;width:10.99px;height:5px;line-height:5px;font-size:3.4px;color:#8f8f8f;white-space:nowrap;text-align:center;">lokal</div>
<div style="left:300.21px;top:355px;width:61.27px;height:5px;line-height:5px;font-size:3.4px;color:#8f8f8f;white-space:nowrap;text-align:center;">Pencapaian target kinerja di atas 50%</div>
<div style="left:322.71px;top:360px;width:16.29px;height:5px;line-height:5px;font-size:3.4px;color:#8f8f8f;white-space:nowrap;text-align:center;">s.d 80%</div>
<div style="left:364.01px;top:355px;width:59.38px;height:5px;line-height:5px;font-size:3.4px;color:#8f8f8f;white-space:nowrap;text-align:center;">Pelayanan tertunda di atas 5 hari s.d</div>
<div style="left:386.5px;top:360px;width:14.4px;height:5px;line-height:5px;font-size:3.4px;color:#8f8f8f;white-space:nowrap;text-align:center;">15 hari</div>
<div style="left:429.28px;top:355px;width:55.03px;height:5px;line-height:5px;font-size:3.4px;color:#8f8f8f;white-space:nowrap;text-align:center;">Jumlah tuntutan hukum di atas 15</div>
<div style="left:429.19px;top:360px;width:55.22px;height:5px;line-height:5px;font-size:3.4px;color:#8f8f8f;white-space:nowrap;text-align:center;">kali s.d 30 kali dalam satu periode</div>
<div style="left:175.49px;top:370px;width:55.22px;height:5px;line-height:5px;font-size:3.4px;color:#8f8f8f;white-space:nowrap;text-align:center;">Jumlah kerugian negara lebih dari</div>
<div style="left:180.5px;top:375px;width:45.21px;height:5px;line-height:5px;font-size:3.4px;color:#8f8f8f;white-space:nowrap;text-align:center;">Rp100 Juta s.d Rp500 Juta</div>
<div style="left:237.36px;top:370px;width:59.19px;height:5px;line-height:5px;font-size:3.4px;color:#8f8f8f;white-space:nowrap;text-align:center;">Pemberitaan negatif di media massa</div>
<div style="left:258.62px;top:375px;width:16.67px;height:5px;line-height:5px;font-size:3.4px;color:#8f8f8f;white-space:nowrap;text-align:center;">nasional</div>
<div style="left:300.21px;top:370px;width:61.27px;height:5px;line-height:5px;font-size:3.4px;color:#8f8f8f;white-space:nowrap;text-align:center;">Pencapaian target kinerja di atas 25%</div>
<div style="left:322.71px;top:375px;width:16.29px;height:5px;line-height:5px;font-size:3.4px;color:#8f8f8f;white-space:nowrap;text-align:center;">s.d 50%</div>
<div style="left:365.8px;top:370px;width:55.79px;height:5px;line-height:5px;font-size:3.4px;color:#8f8f8f;white-space:nowrap;text-align:center;">Pelayanan tertunda di atas 15 hari</div>
<div style="left:383.76px;top:375px;width:19.88px;height:5px;line-height:5px;font-size:3.4px;color:#8f8f8f;white-space:nowrap;text-align:center;">s.d 30 hari</div>
<div style="left:429.28px;top:370px;width:55.03px;height:5px;line-height:5px;font-size:3.4px;color:#8f8f8f;white-space:nowrap;text-align:center;">Jumlah tuntutan hukum di atas 30</div>
<div style="left:429.19px;top:375px;width:55.22px;height:5px;line-height:5px;font-size:3.4px;color:#8f8f8f;white-space:nowrap;text-align:center;">kali s.d 50 kali dalam satu periode</div>
<div style="left:175.49px;top:385px;width:55.22px;height:5px;line-height:5px;font-size:3.4px;color:#8f8f8f;white-space:nowrap;text-align:center;">Jumlah kerugian negara lebih dari</div>
<div style="left:192.4px;top:391px;width:21.39px;height:5px;line-height:5px;font-size:3.4px;color:#8f8f8f;white-space:nowrap;text-align:center;">Rp500 Juta</div>
<div style="left:237.36px;top:385px;width:59.19px;height:5px;line-height:5px;font-size:3.4px;color:#8f8f8f;white-space:nowrap;text-align:center;">Pemberitaan negatif di media massa</div>
<div style="left:255.31px;top:391px;width:23.28px;height:5px;line-height:5px;font-size:3.4px;color:#8f8f8f;white-space:nowrap;text-align:center;">internasional</div>
<div style="left:304.29px;top:388px;width:53.12px;height:5px;line-height:5px;font-size:3.4px;color:#8f8f8f;white-space:nowrap;text-align:center;">Pencapaian target kinerja ≤ 25%</div>
<div style="left:363.91px;top:388px;width:59.57px;height:5px;line-height:5px;font-size:3.4px;color:#8f8f8f;white-space:nowrap;text-align:center;">Pelayanan tertunda lebih dari 30 hari</div>
<div style="left:427.39px;top:385px;width:58.81px;height:5px;line-height:5px;font-size:3.4px;color:#8f8f8f;white-space:nowrap;text-align:center;">Jumlah tuntutan hukum lebih dari 50</div>
<div style="left:437.32px;top:391px;width:38.97px;height:5px;line-height:5px;font-size:3.4px;color:#8f8f8f;white-space:nowrap;text-align:center;">kali dalam satu periode</div>
<svg style="left:104px;top:401px;width:406px;height:28px;" viewBox="104 401 406 28"><rect x="105.3" y="402.5" width="403.7" height="25.2" fill="#3b7cc4"/><rect x="116.95" y="402.5" width="0.7" height="25.2" fill="#6aa3df"/><rect x="155.55" y="402.5" width="0.7" height="25.2" fill="#6aa3df"/><rect x="205.55" y="402.5" width="0.7" height="25.2" fill="#6aa3df"/><rect x="254.45" y="402.5" width="0.7" height="25.2" fill="#6aa3df"/><rect x="304.15" y="402.5" width="0.7" height="25.2" fill="#6aa3df"/><rect x="338.05" y="402.5" width="0.7" height="25.2" fill="#6aa3df"/><rect x="361.85" y="402.5" width="0.7" height="25.2" fill="#6aa3df"/><rect x="400.15" y="402.5" width="0.7" height="25.2" fill="#6aa3df"/><rect x="447.95" y="402.5" width="0.7" height="25.2" fill="#6aa3df"/><rect x="498.95" y="402.5" width="0.7" height="25.2" fill="#6aa3df"/></svg>
<div style="left:107.7px;top:406px;width:10px;height:6px;line-height:6px;font-size:4.5px;color:#ffffff;white-space:nowrap;text-align:left;font-weight:bold;">No</div>
<div style="left:119.7px;top:406px;width:23px;height:6px;line-height:6px;font-size:4.5px;color:#ffffff;white-space:nowrap;text-align:left;font-weight:bold;">Indikator</div>
<div style="left:119.7px;top:412px;width:19.26px;height:6px;line-height:6px;font-size:4.5px;color:#ffffff;white-space:nowrap;text-align:left;font-weight:bold;">Kinerja</div>
<div style="left:119.7px;top:419px;width:22.51px;height:6px;line-height:6px;font-size:4.5px;color:#ffffff;white-space:nowrap;text-align:left;font-weight:bold;">Program</div>
<div style="left:158.3px;top:406px;width:39.51px;height:6px;line-height:6px;font-size:4.5px;color:#ffffff;white-space:nowrap;text-align:left;font-weight:bold;">Indikator Kinerja</div>
<div style="left:158.3px;top:412px;width:23px;height:6px;line-height:6px;font-size:4.5px;color:#ffffff;white-space:nowrap;text-align:left;font-weight:bold;">Kegiatan</div>
<div style="left:208.3px;top:406px;width:33.76px;height:6px;line-height:6px;font-size:4.5px;color:#ffffff;white-space:nowrap;text-align:left;font-weight:bold;">Proses Bisnis</div>
<div style="left:257.2px;top:406px;width:17.5px;height:6px;line-height:6px;font-size:4.5px;color:#ffffff;white-space:nowrap;text-align:left;font-weight:bold;">Risiko</div>
<div style="left:306.9px;top:406px;width:33.75px;height:6px;line-height:6px;font-size:4.5px;color:#ffffff;white-space:nowrap;text-align:left;font-weight:bold;">Kemungkinan</div>
<div style="left:340.8px;top:406px;width:21.51px;height:6px;line-height:6px;font-size:4.5px;color:#ffffff;white-space:nowrap;text-align:left;font-weight:bold;">Dampak</div>
<div style="left:364.6px;top:406px;width:34.67px;height:6px;line-height:6px;font-size:4.5px;color:#ffffff;white-space:nowrap;text-align:left;font-weight:bold;">Tingkat Risiko</div>
<div style="left:402.9px;top:406px;width:28.01px;height:6px;line-height:6px;font-size:4.5px;color:#ffffff;white-space:nowrap;text-align:left;font-weight:bold;">Sisa Risiko</div>
<div style="left:450.7px;top:406px;width:13.51px;height:6px;line-height:6px;font-size:4.5px;color:#ffffff;white-space:nowrap;text-align:left;font-weight:bold;">Aksi</div>
<div style="left:501.7px;top:406px;width:7.25px;height:6px;line-height:6px;font-size:4.5px;color:#ffffff;white-space:nowrap;text-align:left;font-weight:bold;">R</div>
<div style="left:501.7px;top:413px;width:7.75px;height:6px;line-height:6px;font-size:4.5px;color:#ffffff;white-space:nowrap;text-align:left;font-weight:bold;">M</div>
<svg style="left:303px;top:426px;width:61px;height:52px;" viewBox="303 426 61 52"><rect x="304.5" y="427.7" width="33.9" height="48.9" fill="#ffff55"/><rect x="338.4" y="427.7" width="23.8" height="48.9" fill="#ffff55"/><rect x="304.5" y="427.4" width="57.7" height="0.6" fill="rgba(255,255,255,.16)"/><rect x="338.1" y="427.7" width="0.6" height="48.9" fill="rgba(255,255,255,.16)"/></svg>
<div style="left:307.5px;top:431px;width:6.45px;height:6px;line-height:6px;font-size:4.4px;color:#85850e;white-space:nowrap;text-align:left;font-weight:bold;">3</div>
<div style="left:341.4px;top:431px;width:6.45px;height:6px;line-height:6px;font-size:4.4px;color:#85850e;white-space:nowrap;text-align:left;font-weight:bold;">3</div>
<div style="left:108.9px;top:432px;width:6.34px;height:6px;line-height:6px;font-size:4.2px;color:#c5c5c5;white-space:nowrap;text-align:left;">1</div>
<div style="left:119.8px;top:432px;width:31.4px;height:6px;line-height:6px;font-size:4.4px;color:#8e8e8e;white-space:nowrap;text-align:left;">Meningkatkan</div>
<div style="left:119.8px;top:438px;width:24.05px;height:6px;line-height:6px;font-size:4.4px;color:#8e8e8e;white-space:nowrap;text-align:left;">Reformasi</div>
<div style="left:119.8px;top:445px;width:31.88px;height:6px;line-height:6px;font-size:4.4px;color:#8e8e8e;white-space:nowrap;text-align:left;">Birokrasi yang</div>
<div style="left:119.8px;top:451px;width:25.77px;height:6px;line-height:6px;font-size:4.4px;color:#8e8e8e;white-space:nowrap;text-align:left;">Berkualitas</div>
<div style="left:119.8px;top:458px;width:21.85px;height:6px;line-height:6px;font-size:4.4px;color:#8e8e8e;white-space:nowrap;text-align:left;">(INDEKS</div>
<div style="left:119.8px;top:464px;width:30.16px;height:6px;line-height:6px;font-size:4.4px;color:#8e8e8e;white-space:nowrap;text-align:left;">REFORMASI</div>
<div style="left:119.8px;top:471px;width:29.43px;height:6px;line-height:6px;font-size:4.4px;color:#8e8e8e;white-space:nowrap;text-align:left;">BIROKRASI)</div>
<div style="left:158.4px;top:432px;width:34.82px;height:6px;line-height:6px;font-size:4.4px;color:#8e8e8e;white-space:nowrap;text-align:left;">Pendampingan,</div>
<div style="left:158.4px;top:438px;width:41.66px;height:6px;line-height:6px;font-size:4.4px;color:#8e8e8e;white-space:nowrap;text-align:left;">Asistensi, Verifikasi</div>
<div style="left:158.4px;top:445px;width:30.67px;height:6px;line-height:6px;font-size:4.4px;color:#8e8e8e;white-space:nowrap;text-align:left;">dan Penilaian</div>
<div style="left:158.4px;top:451px;width:42.39px;height:6px;line-height:6px;font-size:4.4px;color:#8e8e8e;white-space:nowrap;text-align:left;">Reformasi Birokrasi</div>
<div style="left:208.4px;top:432px;width:30.91px;height:6px;line-height:6px;font-size:4.4px;color:#8e8e8e;white-space:nowrap;text-align:left;">Penyampaian</div>
<div style="left:208.4px;top:438px;width:39.47px;height:6px;line-height:6px;font-size:4.4px;color:#8e8e8e;white-space:nowrap;text-align:left;">Laporan Penilaian</div>
<div style="left:208.4px;top:445px;width:39.7px;height:6px;line-height:6px;font-size:4.4px;color:#8e8e8e;white-space:nowrap;text-align:left;">Mandiri Reformasi</div>
<div style="left:208.4px;top:451px;width:37.98px;height:6px;line-height:6px;font-size:4.4px;color:#8e8e8e;white-space:nowrap;text-align:left;">Birokrasi (PMRB)</div>
<div style="left:208.4px;top:457px;width:32.62px;height:6px;line-height:6px;font-size:4.4px;color:#8e8e8e;white-space:nowrap;text-align:left;">dari Perangkat</div>
<div style="left:208.4px;top:464px;width:18.43px;height:6px;line-height:6px;font-size:4.4px;color:#8e8e8e;white-space:nowrap;text-align:left;">Daerah</div>
<div style="left:257.3px;top:432px;width:39.47px;height:6px;line-height:6px;font-size:4.4px;color:#8e8e8e;white-space:nowrap;text-align:left;">Laporan Penilaian</div>
<div style="left:257.3px;top:438px;width:39.7px;height:6px;line-height:6px;font-size:4.4px;color:#8e8e8e;white-space:nowrap;text-align:left;">Mandiri Reformasi</div>
<div style="left:257.3px;top:445px;width:37.98px;height:6px;line-height:6px;font-size:4.4px;color:#8e8e8e;white-space:nowrap;text-align:left;">Birokrasi (PMRB)</div>
<div style="left:257.3px;top:451px;width:22.34px;height:6px;line-height:6px;font-size:4.4px;color:#8e8e8e;white-space:nowrap;text-align:left;">terlambat</div>
<div style="left:257.3px;top:457px;width:38.25px;height:6px;line-height:6px;font-size:4.4px;color:#8e8e8e;white-space:nowrap;text-align:left;">disampaikan oleh</div>
<div style="left:257.3px;top:464px;width:30.98px;height:6px;line-height:6px;font-size:4.4px;color:#8e8e8e;white-space:nowrap;text-align:left;">Tim Evaluator</div>
<div style="left:403px;top:432px;width:39.47px;height:6px;line-height:6px;font-size:4.4px;color:#8e8e8e;white-space:nowrap;text-align:left;">Laporan Penilaian</div>
<div style="left:403px;top:438px;width:39.7px;height:6px;line-height:6px;font-size:4.4px;color:#8e8e8e;white-space:nowrap;text-align:left;">Mandiri Reformasi</div>
<div style="left:403px;top:445px;width:37.98px;height:6px;line-height:6px;font-size:4.4px;color:#8e8e8e;white-space:nowrap;text-align:left;">Birokrasi (PMRB)</div>
<div style="left:403px;top:451px;width:22.34px;height:6px;line-height:6px;font-size:4.4px;color:#8e8e8e;white-space:nowrap;text-align:left;">terlambat</div>
<div style="left:403px;top:457px;width:38.25px;height:6px;line-height:6px;font-size:4.4px;color:#8e8e8e;white-space:nowrap;text-align:left;">disampaikan oleh</div>
<div style="left:403px;top:464px;width:30.98px;height:6px;line-height:6px;font-size:4.4px;color:#8e8e8e;white-space:nowrap;text-align:left;">Tim Evaluator</div>
<svg style="left:364px;top:430px;width:23px;height:8px;" viewBox="364 430 23 8"><rect x="365" y="431.6" width="20.4" height="5.4" fill="#4ea560" rx="1"/></svg>
<div style="left:364.75px;top:432px;width:20.8px;height:5px;line-height:5px;font-size:3.5px;color:#fff;white-space:nowrap;text-align:center;font-weight:bold;letter-spacing:-0.11px;">2 - Rendah</div>
<svg style="left:450px;top:430px;width:33px;height:14px;" viewBox="450 430 33 14"><rect x="451.62" y="431.12" width="29.66" height="11.36" fill="rgba(0,0,0,.15)" rx="1.48" opacity="0.7"/><rect x="451.9" y="431" width="29.1" height="10.8" fill="#4ea560" rx="1.2"/></svg>
<div style="left:453.62px;top:434px;width:25.6px;height:6px;line-height:6px;font-size:4.5px;color:#e9f8ea;white-space:nowrap;text-align:center;font-weight:bold;letter-spacing:-0.15px;">Edit Risiko</div>
<div style="left:501.8px;top:432px;width:7.03px;height:6px;line-height:6px;font-size:4.2px;color:#a5a5a5;white-space:nowrap;text-align:left;">N</div>
<div style="left:501.8px;top:438px;width:7.73px;height:6px;line-height:6px;font-size:4.2px;color:#a5a5a5;white-space:nowrap;text-align:left;">Ai</div>
<div style="left:501.8px;top:445px;width:6.34px;height:6px;line-height:6px;font-size:4.2px;color:#a5a5a5;white-space:nowrap;text-align:left;">3</div>
<div style="left:501.8px;top:451px;width:6.57px;height:6px;line-height:6px;font-size:4.2px;color:#a5a5a5;white-space:nowrap;text-align:left;">T</div>
<div style="left:501.8px;top:458px;width:6.57px;height:6px;line-height:6px;font-size:4.2px;color:#a5a5a5;white-space:nowrap;text-align:left;">(,</div>
<svg style="left:303px;top:475px;width:61px;height:44px;" viewBox="303 475 61 44"><rect x="304.5" y="476.6" width="33.9" height="40.7" fill="#0707f3"/><rect x="338.4" y="476.6" width="23.8" height="40.7" fill="#ffff55"/><rect x="304.5" y="476.3" width="57.7" height="0.6" fill="rgba(255,255,255,.16)"/><rect x="338.1" y="476.6" width="0.6" height="40.7" fill="rgba(255,255,255,.16)"/></svg>
<div style="left:307.5px;top:480px;width:6.78px;height:7px;line-height:7px;font-size:5px;color:#a9a9ff;white-space:nowrap;text-align:left;font-weight:bold;">1</div>
<div style="left:341.4px;top:480px;width:6.45px;height:6px;line-height:6px;font-size:4.4px;color:#85850e;white-space:nowrap;text-align:left;font-weight:bold;">3</div>
<div style="left:208.4px;top:481px;width:43.38px;height:6px;line-height:6px;font-size:4.4px;color:#8e8e8e;white-space:nowrap;text-align:left;">Penilaian Reformasi</div>
<div style="left:208.4px;top:487px;width:42.14px;height:6px;line-height:6px;font-size:4.4px;color:#8e8e8e;white-space:nowrap;text-align:left;">Birokrasi (RB) OPD</div>
<div style="left:257.3px;top:481px;width:30.41px;height:6px;line-height:6px;font-size:4.4px;color:#8e8e8e;white-space:nowrap;text-align:left;">Nilai RB tidak</div>
<div style="left:257.3px;top:487px;width:19.65px;height:6px;line-height:6px;font-size:4.4px;color:#8e8e8e;white-space:nowrap;text-align:left;">tercapai</div>
<div style="left:403px;top:481px;width:31.88px;height:6px;line-height:6px;font-size:4.4px;color:#8e8e8e;white-space:nowrap;text-align:left;">keterlambatan</div>
<div style="left:403px;top:487px;width:41.43px;height:6px;line-height:6px;font-size:4.4px;color:#8e8e8e;white-space:nowrap;text-align:left;">dalam penginputan</div>
<div style="left:403px;top:493px;width:42.89px;height:6px;line-height:6px;font-size:4.4px;color:#8e8e8e;white-space:nowrap;text-align:left;">data RB oleh Admin</div>
<div style="left:403px;top:500px;width:40.69px;height:6px;line-height:6px;font-size:4.4px;color:#8e8e8e;white-space:nowrap;text-align:left;">OPD pada Aplikasi</div>
<div style="left:403px;top:507px;width:16.71px;height:6px;line-height:6px;font-size:4.4px;color:#8e8e8e;white-space:nowrap;text-align:left;">PMRB</div>
<svg style="left:364px;top:479px;width:35px;height:8px;" viewBox="364 479 35 8"><rect x="365" y="480.5" width="32.2" height="5.4" fill="#3b7cc4" rx="1"/></svg>
<div style="left:364.74px;top:481px;width:32.6px;height:5px;line-height:5px;font-size:3.5px;color:#fff;white-space:nowrap;text-align:center;font-weight:bold;letter-spacing:-0.11px;">1 - Sangat Rendah</div>
<svg style="left:450px;top:478px;width:33px;height:15px;" viewBox="450 478 33 15"><rect x="451.62" y="480.02" width="29.66" height="11.36" fill="rgba(0,0,0,.15)" rx="1.48" opacity="0.7"/><rect x="451.9" y="479.9" width="29.1" height="10.8" fill="#4ea560" rx="1.2"/></svg>
<div style="left:453.62px;top:483px;width:25.6px;height:6px;line-height:6px;font-size:4.5px;color:#e9f8ea;white-space:nowrap;text-align:center;font-weight:bold;letter-spacing:-0.15px;">Edit Risiko</div>
<div style="left:501.8px;top:481px;width:7.03px;height:6px;line-height:6px;font-size:4.2px;color:#a5a5a5;white-space:nowrap;text-align:left;">N</div>
<div style="left:501.8px;top:487px;width:7.73px;height:6px;line-height:6px;font-size:4.2px;color:#a5a5a5;white-space:nowrap;text-align:left;">Ai</div>
<div style="left:501.8px;top:494px;width:6.34px;height:6px;line-height:6px;font-size:4.2px;color:#a5a5a5;white-space:nowrap;text-align:left;">3</div>
<div style="left:501.8px;top:500px;width:6.57px;height:6px;line-height:6px;font-size:4.2px;color:#a5a5a5;white-space:nowrap;text-align:left;">T</div>
<div style="left:501.8px;top:507px;width:6.57px;height:6px;line-height:6px;font-size:4.2px;color:#a5a5a5;white-space:nowrap;text-align:left;">(,</div>
<svg style="left:303px;top:516px;width:61px;height:61px;" viewBox="303 516 61 61"><rect x="304.5" y="517.3" width="33.9" height="58.5" fill="#ffff55"/><rect x="338.4" y="517.3" width="23.8" height="58.5" fill="#ffff55"/><rect x="304.5" y="517" width="57.7" height="0.6" fill="rgba(255,255,255,.16)"/><rect x="338.1" y="517.3" width="0.6" height="58.5" fill="rgba(255,255,255,.16)"/></svg>
<div style="left:307.5px;top:521px;width:6.45px;height:6px;line-height:6px;font-size:4.4px;color:#85850e;white-space:nowrap;text-align:left;font-weight:bold;">3</div>
<div style="left:341.4px;top:521px;width:6.45px;height:6px;line-height:6px;font-size:4.4px;color:#85850e;white-space:nowrap;text-align:left;font-weight:bold;">3</div>
<div style="left:158.4px;top:521px;width:43.62px;height:6px;line-height:6px;font-size:4.4px;color:#8e8e8e;white-space:nowrap;text-align:left;">Pengawasan Umum</div>
<div style="left:158.4px;top:528px;width:24.96px;height:6px;line-height:6px;font-size:4.4px;color:#8e8e8e;white-space:nowrap;text-align:left;">dan Teknis</div>
<div style="left:158.4px;top:534px;width:35.56px;height:6px;line-height:6px;font-size:4.4px;color:#8e8e8e;white-space:nowrap;text-align:left;">Kabupaten/Kota</div>
<div style="left:158.4px;top:541px;width:33.11px;height:6px;line-height:6px;font-size:4.4px;color:#8e8e8e;white-space:nowrap;text-align:left;">yang berada di</div>
<div style="left:158.4px;top:547px;width:43.38px;height:6px;line-height:6px;font-size:4.4px;color:#8e8e8e;white-space:nowrap;text-align:left;">Inspektur Pembantu</div>
<div style="left:158.4px;top:553px;width:17.7px;height:6px;line-height:6px;font-size:4.4px;color:#8e8e8e;white-space:nowrap;text-align:left;">Bidang</div>
<div style="left:158.4px;top:560px;width:39.96px;height:6px;line-height:6px;font-size:4.4px;color:#8e8e8e;white-space:nowrap;text-align:left;">Pemerintahan dan</div>
<div style="left:158.4px;top:566px;width:20.88px;height:6px;line-height:6px;font-size:4.4px;color:#8e8e8e;white-space:nowrap;text-align:left;">Aparatur</div>
<div style="left:208.4px;top:521px;width:40.94px;height:6px;line-height:6px;font-size:4.4px;color:#8e8e8e;white-space:nowrap;text-align:left;">Pengumpulan data</div>
<div style="left:208.4px;top:528px;width:45.35px;height:6px;line-height:6px;font-size:4.4px;color:#8e8e8e;white-space:nowrap;text-align:left;">dan pengolahan data</div>
<div style="left:208.4px;top:534px;width:37.75px;height:6px;line-height:6px;font-size:4.4px;color:#8e8e8e;white-space:nowrap;text-align:left;">pemeriksaan dari</div>
<div style="left:208.4px;top:541px;width:22.1px;height:6px;line-height:6px;font-size:4.4px;color:#8e8e8e;white-space:nowrap;text-align:left;">Kab/Kota</div>
<div style="left:257.3px;top:521px;width:31.88px;height:6px;line-height:6px;font-size:4.4px;color:#8e8e8e;white-space:nowrap;text-align:left;">keterlambatan</div>
<div style="left:257.3px;top:528px;width:43.87px;height:6px;line-height:6px;font-size:4.4px;color:#8e8e8e;white-space:nowrap;text-align:left;">dalam pengumpulan</div>
<div style="left:257.3px;top:534px;width:45.35px;height:6px;line-height:6px;font-size:4.4px;color:#8e8e8e;white-space:nowrap;text-align:left;">dan pengolahan data</div>
<div style="left:257.3px;top:541px;width:14.51px;height:6px;line-height:6px;font-size:4.4px;color:#8e8e8e;white-space:nowrap;text-align:left;">Obrik</div>
<div style="left:403px;top:521px;width:42.4px;height:6px;line-height:6px;font-size:4.4px;color:#8e8e8e;white-space:nowrap;text-align:left;">masih terlambatnya</div>
<div style="left:403px;top:528px;width:39.23px;height:6px;line-height:6px;font-size:4.4px;color:#8e8e8e;white-space:nowrap;text-align:left;">pengumpulan dan</div>
<div style="left:403px;top:534px;width:36.79px;height:6px;line-height:6px;font-size:4.4px;color:#8e8e8e;white-space:nowrap;text-align:left;">pengolahan data</div>
<div style="left:403px;top:541px;width:14.51px;height:6px;line-height:6px;font-size:4.4px;color:#8e8e8e;white-space:nowrap;text-align:left;">Obrik</div>
<svg style="left:364px;top:520px;width:23px;height:8px;" viewBox="364 520 23 8"><rect x="365" y="521.2" width="20.4" height="5.4" fill="#4ea560" rx="1"/></svg>
<div style="left:364.75px;top:522px;width:20.8px;height:5px;line-height:5px;font-size:3.5px;color:#fff;white-space:nowrap;text-align:center;font-weight:bold;letter-spacing:-0.11px;">2 - Rendah</div>
<svg style="left:450px;top:519px;width:33px;height:15px;" viewBox="450 519 33 15"><rect x="451.62" y="520.72" width="29.66" height="11.36" fill="rgba(0,0,0,.15)" rx="1.48" opacity="0.7"/><rect x="451.9" y="520.6" width="29.1" height="10.8" fill="#4ea560" rx="1.2"/></svg>
<div style="left:453.62px;top:523px;width:25.6px;height:6px;line-height:6px;font-size:4.5px;color:#e9f8ea;white-space:nowrap;text-align:center;font-weight:bold;letter-spacing:-0.15px;">Edit Risiko</div>
<div style="left:501.8px;top:521px;width:7.03px;height:6px;line-height:6px;font-size:4.2px;color:#a5a5a5;white-space:nowrap;text-align:left;">N</div>
<div style="left:501.8px;top:528px;width:7.73px;height:6px;line-height:6px;font-size:4.2px;color:#a5a5a5;white-space:nowrap;text-align:left;">Ai</div>
<div style="left:501.8px;top:534px;width:6.34px;height:6px;line-height:6px;font-size:4.2px;color:#a5a5a5;white-space:nowrap;text-align:left;">3</div>
<div style="left:501.8px;top:541px;width:6.57px;height:6px;line-height:6px;font-size:4.2px;color:#a5a5a5;white-space:nowrap;text-align:left;">T</div>
<div style="left:501.8px;top:547px;width:6.57px;height:6px;line-height:6px;font-size:4.2px;color:#a5a5a5;white-space:nowrap;text-align:left;">(,</div>
<svg style="left:303px;top:574px;width:61px;height:55px;" viewBox="303 574 61 55"><rect x="304.5" y="575.8" width="33.9" height="51.5" fill="#fdae41"/><rect x="338.4" y="575.8" width="23.8" height="51.5" fill="#ffff55"/><rect x="304.5" y="575.5" width="57.7" height="0.6" fill="rgba(255,255,255,.16)"/><rect x="338.1" y="575.8" width="0.6" height="51.5" fill="rgba(255,255,255,.16)"/></svg>
<div style="left:307.5px;top:579px;width:6.78px;height:7px;line-height:7px;font-size:5px;color:#ffe3b0;white-space:nowrap;text-align:left;font-weight:bold;">4</div>
<div style="left:341.4px;top:580px;width:6.45px;height:6px;line-height:6px;font-size:4.4px;color:#85850e;white-space:nowrap;text-align:left;font-weight:bold;">3</div>
<div style="left:158.4px;top:580px;width:44.36px;height:6px;line-height:6px;font-size:4.4px;color:#8e8e8e;white-space:nowrap;text-align:left;">Pengawasan Kinerja</div>
<div style="left:158.4px;top:586px;width:42.16px;height:6px;line-height:6px;font-size:4.4px;color:#8e8e8e;white-space:nowrap;text-align:left;">Pemerintah Daerah</div>
<div style="left:158.4px;top:593px;width:33.11px;height:6px;line-height:6px;font-size:4.4px;color:#8e8e8e;white-space:nowrap;text-align:left;">yang berada di</div>
<div style="left:158.4px;top:599px;width:43.38px;height:6px;line-height:6px;font-size:4.4px;color:#8e8e8e;white-space:nowrap;text-align:left;">Inspektur Pembantu</div>
<div style="left:158.4px;top:606px;width:17.7px;height:6px;line-height:6px;font-size:4.4px;color:#8e8e8e;white-space:nowrap;text-align:left;">Bidang</div>
<div style="left:158.4px;top:612px;width:39.96px;height:6px;line-height:6px;font-size:4.4px;color:#8e8e8e;white-space:nowrap;text-align:left;">Pemerintahan dan</div>
<div style="left:158.4px;top:618px;width:20.88px;height:6px;line-height:6px;font-size:4.4px;color:#8e8e8e;white-space:nowrap;text-align:left;">Aparatur</div>
<div style="left:208.4px;top:580px;width:30.91px;height:6px;line-height:6px;font-size:4.4px;color:#8e8e8e;white-space:nowrap;text-align:left;">Penyampaian</div>
<div style="left:208.4px;top:586px;width:31.15px;height:6px;line-height:6px;font-size:4.4px;color:#8e8e8e;white-space:nowrap;text-align:left;">Laporan Hasil</div>
<div style="left:208.4px;top:593px;width:29.68px;height:6px;line-height:6px;font-size:4.4px;color:#8e8e8e;white-space:nowrap;text-align:left;">Pemeriksaan</div>
<div style="left:257.3px;top:580px;width:30.41px;height:6px;line-height:6px;font-size:4.4px;color:#8e8e8e;white-space:nowrap;text-align:left;">Terlambatnya</div>
<div style="left:257.3px;top:586px;width:30.91px;height:6px;line-height:6px;font-size:4.4px;color:#8e8e8e;white-space:nowrap;text-align:left;">Penyampaian</div>
<div style="left:257.3px;top:593px;width:31.15px;height:6px;line-height:6px;font-size:4.4px;color:#8e8e8e;white-space:nowrap;text-align:left;">Laporan Hasil</div>
<div style="left:257.3px;top:599px;width:29.68px;height:6px;line-height:6px;font-size:4.4px;color:#8e8e8e;white-space:nowrap;text-align:left;">Pemeriksaan</div>
<div style="left:403px;top:580px;width:29.44px;height:6px;line-height:6px;font-size:4.4px;color:#8e8e8e;white-space:nowrap;text-align:left;">terlambatnya</div>
<div style="left:403px;top:586px;width:30.42px;height:6px;line-height:6px;font-size:4.4px;color:#8e8e8e;white-space:nowrap;text-align:left;">penyampaian</div>
<div style="left:403px;top:593px;width:28.95px;height:6px;line-height:6px;font-size:4.4px;color:#8e8e8e;white-space:nowrap;text-align:left;">laporan hasil</div>
<div style="left:403px;top:599px;width:29.19px;height:6px;line-height:6px;font-size:4.4px;color:#8e8e8e;white-space:nowrap;text-align:left;">pemeriksaan</div>
<svg style="left:364px;top:578px;width:22px;height:9px;" viewBox="364 578 22 9"><rect x="365" y="579.7" width="19.8" height="5.4" fill="#f6a843" rx="1"/></svg>
<div style="left:364.73px;top:580px;width:20.2px;height:5px;line-height:5px;font-size:3.5px;color:#fff;white-space:nowrap;text-align:center;font-weight:bold;letter-spacing:-0.15px;">3 - Sedang</div>
<svg style="left:450px;top:578px;width:33px;height:14px;" viewBox="450 578 33 14"><rect x="451.62" y="579.22" width="29.66" height="11.36" fill="rgba(0,0,0,.15)" rx="1.48" opacity="0.7"/><rect x="451.9" y="579.1" width="29.1" height="10.8" fill="#4ea560" rx="1.2"/></svg>
<div style="left:453.62px;top:582px;width:25.6px;height:6px;line-height:6px;font-size:4.5px;color:#e9f8ea;white-space:nowrap;text-align:center;font-weight:bold;letter-spacing:-0.15px;">Edit Risiko</div>
<div style="left:501.8px;top:580px;width:7.03px;height:6px;line-height:6px;font-size:4.2px;color:#a5a5a5;white-space:nowrap;text-align:left;">N</div>
<div style="left:501.8px;top:586px;width:7.73px;height:6px;line-height:6px;font-size:4.2px;color:#a5a5a5;white-space:nowrap;text-align:left;">Ai</div>
<div style="left:501.8px;top:593px;width:6.34px;height:6px;line-height:6px;font-size:4.2px;color:#a5a5a5;white-space:nowrap;text-align:left;">3</div>
<div style="left:501.8px;top:599px;width:6.57px;height:6px;line-height:6px;font-size:4.2px;color:#a5a5a5;white-space:nowrap;text-align:left;">T</div>
<div style="left:501.8px;top:606px;width:6.57px;height:6px;line-height:6px;font-size:4.2px;color:#a5a5a5;white-space:nowrap;text-align:left;">(,</div>
<svg style="left:303px;top:626px;width:61px;height:61px;" viewBox="303 626 61 61"><rect x="304.5" y="627.3" width="33.9" height="58" fill="#fdae41"/><rect x="338.4" y="627.3" width="23.8" height="58" fill="#ffff55"/><rect x="304.5" y="627" width="57.7" height="0.6" fill="rgba(255,255,255,.16)"/><rect x="338.1" y="627.3" width="0.6" height="58" fill="rgba(255,255,255,.16)"/></svg>
<div style="left:307.5px;top:630px;width:6.78px;height:7px;line-height:7px;font-size:5px;color:#ffe3b0;white-space:nowrap;text-align:left;font-weight:bold;">4</div>
<div style="left:341.4px;top:631px;width:6.45px;height:6px;line-height:6px;font-size:4.4px;color:#85850e;white-space:nowrap;text-align:left;font-weight:bold;">3</div>
<div style="left:158.4px;top:631px;width:42.17px;height:6px;line-height:6px;font-size:4.4px;color:#8e8e8e;white-space:nowrap;text-align:left;">Pendampingan dan</div>
<div style="left:158.4px;top:638px;width:37.01px;height:6px;line-height:6px;font-size:4.4px;color:#8e8e8e;white-space:nowrap;text-align:left;">Asistensi Urusan</div>
<div style="left:158.4px;top:644px;width:31.4px;height:6px;line-height:6px;font-size:4.4px;color:#8e8e8e;white-space:nowrap;text-align:left;">Pemerintahan</div>
<div style="left:158.4px;top:651px;width:44.12px;height:6px;line-height:6px;font-size:4.4px;color:#8e8e8e;white-space:nowrap;text-align:left;">Daerah yang berada</div>
<div style="left:158.4px;top:657px;width:26.75px;height:6px;line-height:6px;font-size:4.4px;color:#8e8e8e;white-space:nowrap;text-align:left;">di Inspektur</div>
<div style="left:158.4px;top:663px;width:38.98px;height:6px;line-height:6px;font-size:4.4px;color:#8e8e8e;white-space:nowrap;text-align:left;">Pembantu Bidang</div>
<div style="left:158.4px;top:670px;width:28.47px;height:6px;line-height:6px;font-size:4.4px;color:#8e8e8e;white-space:nowrap;text-align:left;">Pengelolaan</div>
<div style="left:158.4px;top:676px;width:42.41px;height:6px;line-height:6px;font-size:4.4px;color:#8e8e8e;white-space:nowrap;text-align:left;">Keuangan dan Aset</div>
<div style="left:208.4px;top:631px;width:30.91px;height:6px;line-height:6px;font-size:4.4px;color:#8e8e8e;white-space:nowrap;text-align:left;">Penyampaian</div>
<div style="left:208.4px;top:638px;width:31.15px;height:6px;line-height:6px;font-size:4.4px;color:#8e8e8e;white-space:nowrap;text-align:left;">Laporan Hasil</div>
<div style="left:208.4px;top:644px;width:29.68px;height:6px;line-height:6px;font-size:4.4px;color:#8e8e8e;white-space:nowrap;text-align:left;">Pemeriksaan</div>
<div style="left:257.3px;top:631px;width:30.41px;height:6px;line-height:6px;font-size:4.4px;color:#8e8e8e;white-space:nowrap;text-align:left;">Terlambatnya</div>
<div style="left:257.3px;top:638px;width:30.91px;height:6px;line-height:6px;font-size:4.4px;color:#8e8e8e;white-space:nowrap;text-align:left;">Penyampaian</div>
<div style="left:257.3px;top:644px;width:31.15px;height:6px;line-height:6px;font-size:4.4px;color:#8e8e8e;white-space:nowrap;text-align:left;">Laporan Hasil</div>
<div style="left:257.3px;top:651px;width:29.68px;height:6px;line-height:6px;font-size:4.4px;color:#8e8e8e;white-space:nowrap;text-align:left;">Pemeriksaan</div>
<div style="left:403px;top:631px;width:30.42px;height:6px;line-height:6px;font-size:4.4px;color:#8e8e8e;white-space:nowrap;text-align:left;">Laporan hasil</div>
<div style="left:403px;top:638px;width:39.71px;height:6px;line-height:6px;font-size:4.4px;color:#8e8e8e;white-space:nowrap;text-align:left;">pemeriksaan tidak</div>
<div style="left:403px;top:644px;width:26.5px;height:6px;line-height:6px;font-size:4.4px;color:#8e8e8e;white-space:nowrap;text-align:left;">tepat waktu</div>
<svg style="left:364px;top:630px;width:22px;height:8px;" viewBox="364 630 22 8"><rect x="365" y="631.2" width="19.8" height="5.4" fill="#f6a843" rx="1"/></svg>
<div style="left:364.73px;top:632px;width:20.2px;height:5px;line-height:5px;font-size:3.5px;color:#fff;white-space:nowrap;text-align:center;font-weight:bold;letter-spacing:-0.15px;">3 - Sedang</div>
<svg style="left:450px;top:629px;width:33px;height:15px;" viewBox="450 629 33 15"><rect x="451.62" y="630.72" width="29.66" height="11.36" fill="rgba(0,0,0,.15)" rx="1.48" opacity="0.7"/><rect x="451.9" y="630.6" width="29.1" height="10.8" fill="#4ea560" rx="1.2"/></svg>
<div style="left:453.62px;top:633px;width:25.6px;height:6px;line-height:6px;font-size:4.5px;color:#e9f8ea;white-space:nowrap;text-align:center;font-weight:bold;letter-spacing:-0.15px;">Edit Risiko</div>
<div style="left:501.8px;top:631px;width:7.03px;height:6px;line-height:6px;font-size:4.2px;color:#a5a5a5;white-space:nowrap;text-align:left;">N</div>
<div style="left:501.8px;top:638px;width:7.73px;height:6px;line-height:6px;font-size:4.2px;color:#a5a5a5;white-space:nowrap;text-align:left;">Ai</div>
<div style="left:501.8px;top:644px;width:6.34px;height:6px;line-height:6px;font-size:4.2px;color:#a5a5a5;white-space:nowrap;text-align:left;">3</div>
<div style="left:501.8px;top:651px;width:6.57px;height:6px;line-height:6px;font-size:4.2px;color:#a5a5a5;white-space:nowrap;text-align:left;">T</div>
<div style="left:501.8px;top:657px;width:6.57px;height:6px;line-height:6px;font-size:4.2px;color:#a5a5a5;white-space:nowrap;text-align:left;">(,</div>
<svg style="left:303px;top:684px;width:61px;height:43px;" viewBox="303 684 61 43"><rect x="304.5" y="685.3" width="33.9" height="40.4" fill="#fdae41"/><rect x="338.4" y="685.3" width="23.8" height="40.4" fill="#ffff55"/><rect x="304.5" y="685" width="57.7" height="0.6" fill="rgba(255,255,255,.16)"/><rect x="338.1" y="685.3" width="0.6" height="40.4" fill="rgba(255,255,255,.16)"/></svg>
<div style="left:307.5px;top:688px;width:6.78px;height:7px;line-height:7px;font-size:5px;color:#ffe3b0;white-space:nowrap;text-align:left;font-weight:bold;">4</div>
<div style="left:341.4px;top:689px;width:6.45px;height:6px;line-height:6px;font-size:4.4px;color:#85850e;white-space:nowrap;text-align:left;font-weight:bold;">3</div>
<div style="left:158.4px;top:689px;width:29.44px;height:6px;line-height:6px;font-size:4.4px;color:#8e8e8e;white-space:nowrap;text-align:left;">Pengawasan</div>
<div style="left:158.4px;top:696px;width:24.07px;height:6px;line-height:6px;font-size:4.4px;color:#8e8e8e;white-space:nowrap;text-align:left;">Keuangan</div>
<div style="left:158.4px;top:702px;width:42.16px;height:6px;line-height:6px;font-size:4.4px;color:#8e8e8e;white-space:nowrap;text-align:left;">Pemerintah Daerah</div>
<div style="left:158.4px;top:709px;width:33.11px;height:6px;line-height:6px;font-size:4.4px;color:#8e8e8e;white-space:nowrap;text-align:left;">yang berada di</div>
<div style="left:158.4px;top:715px;width:43.38px;height:6px;line-height:6px;font-size:4.4px;color:#8e8e8e;white-space:nowrap;text-align:left;">Inspektur Pembantu</div>
<div style="left:158.4px;top:721px;width:43.39px;height:6px;line-height:6px;font-size:4.4px;color:#8e8e8e;white-space:nowrap;text-align:left;">Bidang Pengelolaan</div>
<div style="left:158.4px;top:728px;width:42.41px;height:6px;line-height:6px;font-size:4.4px;color:#8e8e8e;white-space:nowrap;text-align:left;">Keuangan dan Aset</div>
<div style="left:208.4px;top:689px;width:30.91px;height:6px;line-height:6px;font-size:4.4px;color:#8e8e8e;white-space:nowrap;text-align:left;">Penyampaian</div>
<div style="left:208.4px;top:696px;width:43.62px;height:6px;line-height:6px;font-size:4.4px;color:#8e8e8e;white-space:nowrap;text-align:left;">Laporan Hasil Reviu</div>
<div style="left:208.4px;top:702px;width:24.07px;height:6px;line-height:6px;font-size:4.4px;color:#8e8e8e;white-space:nowrap;text-align:left;">Keuangan</div>
<div style="left:257.3px;top:689px;width:43.62px;height:6px;line-height:6px;font-size:4.4px;color:#8e8e8e;white-space:nowrap;text-align:left;">Laporan Hasil Reviu</div>
<div style="left:257.3px;top:696px;width:23.32px;height:6px;line-height:6px;font-size:4.4px;color:#8e8e8e;white-space:nowrap;text-align:left;">Terlambat</div>
<div style="left:257.3px;top:702px;width:28.7px;height:6px;line-height:6px;font-size:4.4px;color:#8e8e8e;white-space:nowrap;text-align:left;">disampaikan</div>
<div style="left:403px;top:689px;width:38px;height:6px;line-height:6px;font-size:4.4px;color:#8e8e8e;white-space:nowrap;text-align:left;">Evaluasi Laporan</div>
<div style="left:403px;top:696px;width:43.62px;height:6px;line-height:6px;font-size:4.4px;color:#8e8e8e;white-space:nowrap;text-align:left;">Hasil Reviu Laporan</div>
<div style="left:403px;top:702px;width:34.83px;height:6px;line-height:6px;font-size:4.4px;color:#8e8e8e;white-space:nowrap;text-align:left;">Keuangan yang</div>
<div style="left:403px;top:709px;width:33.11px;height:6px;line-height:6px;font-size:4.4px;color:#8e8e8e;white-space:nowrap;text-align:left;">dilakukan tidak</div>
<div style="left:403px;top:715px;width:26.5px;height:6px;line-height:6px;font-size:4.4px;color:#8e8e8e;white-space:nowrap;text-align:left;">tepat waktu</div>
<svg style="left:364px;top:688px;width:22px;height:8px;" viewBox="364 688 22 8"><rect x="365" y="689.2" width="19.8" height="5.4" fill="#f6a843" rx="1"/></svg>
<div style="left:364.73px;top:690px;width:20.2px;height:5px;line-height:5px;font-size:3.5px;color:#fff;white-space:nowrap;text-align:center;font-weight:bold;letter-spacing:-0.15px;">3 - Sedang</div>
<svg style="left:450px;top:687px;width:33px;height:15px;" viewBox="450 687 33 15"><rect x="451.62" y="688.72" width="29.66" height="11.36" fill="rgba(0,0,0,.15)" rx="1.48" opacity="0.7"/><rect x="451.9" y="688.6" width="29.1" height="10.8" fill="#4ea560" rx="1.2"/></svg>
<div style="left:453.62px;top:691px;width:25.6px;height:6px;line-height:6px;font-size:4.5px;color:#e9f8ea;white-space:nowrap;text-align:center;font-weight:bold;letter-spacing:-0.15px;">Edit Risiko</div>
<div style="left:501.8px;top:689px;width:7.03px;height:6px;line-height:6px;font-size:4.2px;color:#a5a5a5;white-space:nowrap;text-align:left;">N</div>
<div style="left:501.8px;top:696px;width:7.73px;height:6px;line-height:6px;font-size:4.2px;color:#a5a5a5;white-space:nowrap;text-align:left;">Ai</div>
<div style="left:501.8px;top:702px;width:6.34px;height:6px;line-height:6px;font-size:4.2px;color:#a5a5a5;white-space:nowrap;text-align:left;">3</div>
<div style="left:501.8px;top:709px;width:6.57px;height:6px;line-height:6px;font-size:4.2px;color:#a5a5a5;white-space:nowrap;text-align:left;">T</div>
<div style="left:501.8px;top:715px;width:6.57px;height:6px;line-height:6px;font-size:4.2px;color:#a5a5a5;white-space:nowrap;text-align:left;">(,</div>
<svg style="left:303px;top:724px;width:61px;height:43px;" viewBox="303 724 61 43"><rect x="304.5" y="725.7" width="33.9" height="40" fill="#326a1f"/><rect x="338.4" y="725.7" width="23.8" height="40" fill="#ffff55"/><rect x="304.5" y="725.4" width="57.7" height="0.6" fill="rgba(255,255,255,.16)"/><rect x="338.1" y="725.7" width="0.6" height="40" fill="rgba(255,255,255,.16)"/></svg>
<div style="left:307.5px;top:729px;width:6.78px;height:7px;line-height:7px;font-size:5px;color:#e0f5d2;white-space:nowrap;text-align:left;font-weight:bold;">2</div>
<div style="left:341.4px;top:729px;width:6.45px;height:6px;line-height:6px;font-size:4.4px;color:#85850e;white-space:nowrap;text-align:left;font-weight:bold;">3</div>
<div style="left:208.4px;top:730px;width:30.18px;height:6px;line-height:6px;font-size:4.4px;color:#8e8e8e;white-space:nowrap;text-align:left;">Perencanaan</div>
<div style="left:208.4px;top:736px;width:23.08px;height:6px;line-height:6px;font-size:4.4px;color:#8e8e8e;white-space:nowrap;text-align:left;">Anggaran</div>
<div style="left:257.3px;top:730px;width:46.81px;height:6px;line-height:6px;font-size:4.4px;color:#8e8e8e;white-space:nowrap;text-align:left;">Kegiatan menetapkan</div>
<div style="left:257.3px;top:736px;width:37.02px;height:6px;line-height:6px;font-size:4.4px;color:#8e8e8e;white-space:nowrap;text-align:left;">kebijakan secara</div>
<div style="left:257.3px;top:743px;width:36.04px;height:6px;line-height:6px;font-size:4.4px;color:#8e8e8e;white-space:nowrap;text-align:left;">terkendali pokok</div>
<svg style="left:364px;top:728px;width:23px;height:8px;" viewBox="364 728 23 8"><rect x="365" y="729.6" width="20.4" height="5.4" fill="#4ea560" rx="1"/></svg>
<div style="left:364.75px;top:730px;width:20.8px;height:5px;line-height:5px;font-size:3.5px;color:#fff;white-space:nowrap;text-align:center;font-weight:bold;letter-spacing:-0.11px;">2 - Rendah</div>
<svg style="left:450px;top:728px;width:33px;height:14px;" viewBox="450 728 33 14"><rect x="451.62" y="729.12" width="29.66" height="11.36" fill="rgba(0,0,0,.15)" rx="1.48" opacity="0.7"/><rect x="451.9" y="729" width="29.1" height="10.8" fill="#4ea560" rx="1.2"/></svg>
<div style="left:453.62px;top:732px;width:25.6px;height:6px;line-height:6px;font-size:4.5px;color:#e9f8ea;white-space:nowrap;text-align:center;font-weight:bold;letter-spacing:-0.15px;">Edit Risiko</div>
<div style="left:501.8px;top:730px;width:7.03px;height:6px;line-height:6px;font-size:4.2px;color:#a5a5a5;white-space:nowrap;text-align:left;">N</div>
<div style="left:501.8px;top:736px;width:7.73px;height:6px;line-height:6px;font-size:4.2px;color:#a5a5a5;white-space:nowrap;text-align:left;">Ai</div>
<div style="left:501.8px;top:743px;width:6.34px;height:6px;line-height:6px;font-size:4.2px;color:#a5a5a5;white-space:nowrap;text-align:left;">3</div>
<div style="left:501.8px;top:749px;width:6.57px;height:6px;line-height:6px;font-size:4.2px;color:#a5a5a5;white-space:nowrap;text-align:left;">T</div>
<div style="left:501.8px;top:756px;width:6.57px;height:6px;line-height:6px;font-size:4.2px;color:#a5a5a5;white-space:nowrap;text-align:left;">(,</div>
<svg style="left:303px;top:764px;width:61px;height:55px;" viewBox="303 764 61 55"><rect x="304.5" y="765.7" width="33.9" height="51.7" fill="#0707f3"/><rect x="338.4" y="765.7" width="23.8" height="51.7" fill="#326a1f"/><rect x="304.5" y="765.4" width="57.7" height="0.6" fill="rgba(255,255,255,.16)"/><rect x="338.1" y="765.7" width="0.6" height="51.7" fill="rgba(255,255,255,.16)"/></svg>
<div style="left:307.5px;top:769px;width:6.78px;height:7px;line-height:7px;font-size:5px;color:#a9a9ff;white-space:nowrap;text-align:left;font-weight:bold;">1</div>
<div style="left:341.4px;top:769px;width:6.78px;height:7px;line-height:7px;font-size:5px;color:#e0f5d2;white-space:nowrap;text-align:left;font-weight:bold;">2</div>
<div style="left:158.4px;top:770px;width:44.36px;height:6px;line-height:6px;font-size:4.4px;color:#8e8e8e;white-space:nowrap;text-align:left;">Pengawasan Kinerja</div>
<div style="left:158.4px;top:776px;width:42.16px;height:6px;line-height:6px;font-size:4.4px;color:#8e8e8e;white-space:nowrap;text-align:left;">Pemerintah Daerah</div>
<div style="left:158.4px;top:783px;width:33.11px;height:6px;line-height:6px;font-size:4.4px;color:#8e8e8e;white-space:nowrap;text-align:left;">yang berada di</div>
<div style="left:158.4px;top:789px;width:43.38px;height:6px;line-height:6px;font-size:4.4px;color:#8e8e8e;white-space:nowrap;text-align:left;">Inspektur Pembantu</div>
<div style="left:158.4px;top:795px;width:43.39px;height:6px;line-height:6px;font-size:4.4px;color:#8e8e8e;white-space:nowrap;text-align:left;">Bidang Pengelolaan</div>
<div style="left:158.4px;top:802px;width:42.41px;height:6px;line-height:6px;font-size:4.4px;color:#8e8e8e;white-space:nowrap;text-align:left;">Keuangan dan Aset</div>
<div style="left:158.4px;top:808px;width:18.43px;height:6px;line-height:6px;font-size:4.4px;color:#8e8e8e;white-space:nowrap;text-align:left;">Daerah</div>
<div style="left:208.4px;top:770px;width:41.58px;height:6px;line-height:6px;font-size:4.4px;color:#8e8e8e;white-space:nowrap;text-align:left;">Evaluasi LAKIP PD</div>
<div style="left:257.3px;top:770px;width:44.19px;height:6px;line-height:6px;font-size:4.4px;color:#8e8e8e;white-space:nowrap;text-align:left;">LAKIP PD Terlambat</div>
<div style="left:257.3px;top:776px;width:38.98px;height:6px;line-height:6px;font-size:4.4px;color:#8e8e8e;white-space:nowrap;text-align:left;">Dikumpulkan oleh</div>
<div style="left:257.3px;top:783px;width:29.02px;height:6px;line-height:6px;font-size:4.4px;color:#8e8e8e;white-space:nowrap;text-align:left;">Tim Evaluasi</div>
<div style="left:403px;top:770px;width:44.19px;height:6px;line-height:6px;font-size:4.4px;color:#8e8e8e;white-space:nowrap;text-align:left;">LAKIP PD Terlambat</div>
<div style="left:403px;top:776px;width:38.98px;height:6px;line-height:6px;font-size:4.4px;color:#8e8e8e;white-space:nowrap;text-align:left;">Dikumpulkan oleh</div>
<div style="left:403px;top:783px;width:29.02px;height:6px;line-height:6px;font-size:4.4px;color:#8e8e8e;white-space:nowrap;text-align:left;">Tim Evaluasi</div>
<svg style="left:364px;top:768px;width:35px;height:8px;" viewBox="364 768 35 8"><rect x="365" y="769.6" width="32.2" height="5.4" fill="#3b7cc4" rx="1"/></svg>
<div style="left:364.74px;top:770px;width:32.6px;height:5px;line-height:5px;font-size:3.5px;color:#fff;white-space:nowrap;text-align:center;font-weight:bold;letter-spacing:-0.11px;">1 - Sangat Rendah</div>
<svg style="left:450px;top:768px;width:33px;height:14px;" viewBox="450 768 33 14"><rect x="451.62" y="769.12" width="29.66" height="11.36" fill="rgba(0,0,0,.15)" rx="1.48" opacity="0.7"/><rect x="451.9" y="769" width="29.1" height="10.8" fill="#4ea560" rx="1.2"/></svg>
<div style="left:453.62px;top:772px;width:25.6px;height:6px;line-height:6px;font-size:4.5px;color:#e9f8ea;white-space:nowrap;text-align:center;font-weight:bold;letter-spacing:-0.15px;">Edit Risiko</div>
<div style="left:501.8px;top:770px;width:7.03px;height:6px;line-height:6px;font-size:4.2px;color:#a5a5a5;white-space:nowrap;text-align:left;">N</div>
<div style="left:501.8px;top:776px;width:7.73px;height:6px;line-height:6px;font-size:4.2px;color:#a5a5a5;white-space:nowrap;text-align:left;">Ai</div>
<div style="left:501.8px;top:783px;width:6.34px;height:6px;line-height:6px;font-size:4.2px;color:#a5a5a5;white-space:nowrap;text-align:left;">3</div>
<div style="left:501.8px;top:789px;width:6.57px;height:6px;line-height:6px;font-size:4.2px;color:#a5a5a5;white-space:nowrap;text-align:left;">T</div>
<div style="left:501.8px;top:796px;width:6.57px;height:6px;line-height:6px;font-size:4.2px;color:#a5a5a5;white-space:nowrap;text-align:left;">(,</div>
<svg style="left:303px;top:816px;width:61px;height:43px;" viewBox="303 816 61 43"><rect x="304.5" y="817.4" width="33.9" height="40" fill="#326a1f"/><rect x="338.4" y="817.4" width="23.8" height="40" fill="#ffff55"/><rect x="304.5" y="817.1" width="57.7" height="0.6" fill="rgba(255,255,255,.16)"/><rect x="338.1" y="817.4" width="0.6" height="40" fill="rgba(255,255,255,.16)"/></svg>
<div style="left:307.5px;top:820px;width:6.78px;height:7px;line-height:7px;font-size:5px;color:#e0f5d2;white-space:nowrap;text-align:left;font-weight:bold;">2</div>
<div style="left:341.4px;top:821px;width:6.45px;height:6px;line-height:6px;font-size:4.4px;color:#85850e;white-space:nowrap;text-align:left;font-weight:bold;">3</div>
<div style="left:158.4px;top:821px;width:46.08px;height:6px;line-height:6px;font-size:4.4px;color:#8e8e8e;white-space:nowrap;text-align:left;">Pengawasan Dengan</div>
<div style="left:158.4px;top:828px;width:34.33px;height:6px;line-height:6px;font-size:4.4px;color:#8e8e8e;white-space:nowrap;text-align:left;">Tujuan Tertentu</div>
<div style="left:208.4px;top:821px;width:29.44px;height:6px;line-height:6px;font-size:4.4px;color:#8e8e8e;white-space:nowrap;text-align:left;">Pelaksanaan</div>
<div style="left:208.4px;top:828px;width:40.21px;height:6px;line-height:6px;font-size:4.4px;color:#8e8e8e;white-space:nowrap;text-align:left;">Pengawasan audit</div>
<div style="left:208.4px;top:834px;width:24.54px;height:6px;line-height:6px;font-size:4.4px;color:#8e8e8e;white-space:nowrap;text-align:left;">investigasi</div>
<div style="left:257.3px;top:821px;width:30.67px;height:6px;line-height:6px;font-size:4.4px;color:#8e8e8e;white-space:nowrap;text-align:left;">mendapatkan</div>
<div style="left:257.3px;top:828px;width:32.13px;height:6px;line-height:6px;font-size:4.4px;color:#8e8e8e;white-space:nowrap;text-align:left;">intimidasi atau</div>
<div style="left:257.3px;top:834px;width:35.79px;height:6px;line-height:6px;font-size:4.4px;color:#8e8e8e;white-space:nowrap;text-align:left;">rawan gratifikasi</div>
<div style="left:403px;top:821px;width:33.11px;height:6px;line-height:6px;font-size:4.4px;color:#8e8e8e;white-space:nowrap;text-align:left;">masih terdapat</div>
<div style="left:403px;top:828px;width:32.13px;height:6px;line-height:6px;font-size:4.4px;color:#8e8e8e;white-space:nowrap;text-align:left;">intimidasi atau</div>
<div style="left:403px;top:834px;width:35.79px;height:6px;line-height:6px;font-size:4.4px;color:#8e8e8e;white-space:nowrap;text-align:left;">rawan gratifikasi</div>
<svg style="left:364px;top:820px;width:23px;height:8px;" viewBox="364 820 23 8"><rect x="365" y="821.3" width="20.4" height="5.4" fill="#4ea560" rx="1"/></svg>
<div style="left:364.75px;top:822px;width:20.8px;height:5px;line-height:5px;font-size:3.5px;color:#fff;white-space:nowrap;text-align:center;font-weight:bold;letter-spacing:-0.11px;">2 - Rendah</div>
<svg style="left:450px;top:819px;width:33px;height:15px;" viewBox="450 819 33 15"><rect x="451.62" y="820.82" width="29.66" height="11.36" fill="rgba(0,0,0,.15)" rx="1.48" opacity="0.7"/><rect x="451.9" y="820.7" width="29.1" height="10.8" fill="#4ea560" rx="1.2"/></svg>
<div style="left:453.62px;top:823px;width:25.6px;height:6px;line-height:6px;font-size:4.5px;color:#e9f8ea;white-space:nowrap;text-align:center;font-weight:bold;letter-spacing:-0.15px;">Edit Risiko</div>
<div style="left:501.8px;top:822px;width:7.03px;height:6px;line-height:6px;font-size:4.2px;color:#a5a5a5;white-space:nowrap;text-align:left;">N</div>
<div style="left:501.8px;top:828px;width:7.73px;height:6px;line-height:6px;font-size:4.2px;color:#a5a5a5;white-space:nowrap;text-align:left;">Ai</div>
<div style="left:501.8px;top:834px;width:6.34px;height:6px;line-height:6px;font-size:4.2px;color:#a5a5a5;white-space:nowrap;text-align:left;">3</div>
<div style="left:501.8px;top:841px;width:6.57px;height:6px;line-height:6px;font-size:4.2px;color:#a5a5a5;white-space:nowrap;text-align:left;">T</div>
<div style="left:501.8px;top:847px;width:6.57px;height:6px;line-height:6px;font-size:4.2px;color:#a5a5a5;white-space:nowrap;text-align:left;">(,</div>
<svg style="left:303px;top:856px;width:61px;height:42px;" viewBox="303 856 61 42"><rect x="304.5" y="857.4" width="33.9" height="39.6" fill="#326a1f"/><rect x="338.4" y="857.4" width="23.8" height="39.6" fill="#326a1f"/><rect x="304.5" y="857.1" width="57.7" height="0.6" fill="rgba(255,255,255,.16)"/><rect x="338.1" y="857.4" width="0.6" height="39.6" fill="rgba(255,255,255,.16)"/></svg>
<div style="left:307.5px;top:860px;width:6.78px;height:7px;line-height:7px;font-size:5px;color:#e0f5d2;white-space:nowrap;text-align:left;font-weight:bold;">2</div>
<div style="left:341.4px;top:860px;width:6.78px;height:7px;line-height:7px;font-size:5px;color:#e0f5d2;white-space:nowrap;text-align:left;font-weight:bold;">2</div>
<div style="left:208.4px;top:861px;width:29.44px;height:6px;line-height:6px;font-size:4.4px;color:#8e8e8e;white-space:nowrap;text-align:left;">Pelaksanaan</div>
<div style="left:208.4px;top:868px;width:40.21px;height:6px;line-height:6px;font-size:4.4px;color:#8e8e8e;white-space:nowrap;text-align:left;">Pengawasan audit</div>
<div style="left:257.3px;top:861px;width:44.68px;height:6px;line-height:6px;font-size:4.4px;color:#8e8e8e;white-space:nowrap;text-align:left;">Tim pemeriksa gagal</div>
<div style="left:257.3px;top:868px;width:35.55px;height:6px;line-height:6px;font-size:4.4px;color:#8e8e8e;white-space:nowrap;text-align:left;">mengidentifikasi</div>
<div style="left:403px;top:861px;width:23.57px;height:6px;line-height:6px;font-size:4.4px;color:#8e8e8e;white-space:nowrap;text-align:left;">Pengujian</div>
<div style="left:403px;top:868px;width:41.43px;height:6px;line-height:6px;font-size:4.4px;color:#8e8e8e;white-space:nowrap;text-align:left;">penyimpangan dari</div>
<svg style="left:364px;top:860px;width:35px;height:8px;" viewBox="364 860 35 8"><rect x="365" y="861.3" width="32.2" height="5.4" fill="#3b7cc4" rx="1"/></svg>
<div style="left:364.74px;top:862px;width:32.6px;height:5px;line-height:5px;font-size:3.5px;color:#fff;white-space:nowrap;text-align:center;font-weight:bold;letter-spacing:-0.11px;">1 - Sangat Rendah</div>
<svg style="left:450px;top:859px;width:33px;height:15px;" viewBox="450 859 33 15"><rect x="451.62" y="860.82" width="29.66" height="11.36" fill="rgba(0,0,0,.15)" rx="1.48" opacity="0.7"/><rect x="451.9" y="860.7" width="29.1" height="10.8" fill="#4ea560" rx="1.2"/></svg>
<div style="left:453.62px;top:863px;width:25.6px;height:6px;line-height:6px;font-size:4.5px;color:#e9f8ea;white-space:nowrap;text-align:center;font-weight:bold;letter-spacing:-0.15px;">Edit Risiko</div>
<div style="left:501.8px;top:862px;width:7.03px;height:6px;line-height:6px;font-size:4.2px;color:#a5a5a5;white-space:nowrap;text-align:left;">N</div>
<div style="left:501.8px;top:868px;width:7.73px;height:6px;line-height:6px;font-size:4.2px;color:#a5a5a5;white-space:nowrap;text-align:left;">Ai</div>
<div style="left:501.8px;top:874px;width:6.34px;height:6px;line-height:6px;font-size:4.2px;color:#a5a5a5;white-space:nowrap;text-align:left;">3</div>
<div style="left:501.8px;top:881px;width:6.57px;height:6px;line-height:6px;font-size:4.2px;color:#a5a5a5;white-space:nowrap;text-align:left;">T</div>
<div style="left:501.8px;top:887px;width:6.57px;height:6px;line-height:6px;font-size:4.2px;color:#a5a5a5;white-space:nowrap;text-align:left;">(,</div></div><div style="left:0;top:875.2px;width:508px;height:62.8px;background:#fff;border-top:0.6px solid #ececec;"></div><svg style="left:25.81px;top:-14.04px;width:28.91px;height:28.91px;" viewBox="0 0 27.8 27.8" preserveAspectRatio="none"><path d="M12.53 4.23 Q13.90 1.80 15.27 4.23 L17.21 7.66 Q17.93 8.95 19.38 9.24 L23.24 10.02 Q25.98 10.58 24.09 12.63 L21.42 15.53 Q20.42 16.62 20.59 18.09 L21.04 22.00 Q21.36 24.77 18.83 23.61 L15.24 21.97 Q13.90 21.36 12.56 21.97 L8.97 23.61 Q6.44 24.77 6.76 22.00 L7.21 18.09 Q7.38 16.62 6.38 15.53 L3.71 12.63 Q1.82 10.58 4.56 10.02 L8.42 9.24 Q9.87 8.95 10.59 7.66 Z" fill="none" stroke="#ababab" stroke-width="1.7" stroke-linejoin="round"/></svg>
<svg style="left:79.89px;top:-8.64px;width:12.58px;height:16.95px;" viewBox="0 0 12.1 16.3" preserveAspectRatio="none"><path d="M3.1 7.6 V4.6 a2.95 2.95 0 0 1 5.9 0 V7.6" fill="none" stroke="#b9b9b9" stroke-width="1.9"/><rect x="0.3" y="6.8" width="11.5" height="9.3" rx="1.6" fill="#b9b9b9"/><rect x="5.3" y="9.6" width="1.5" height="3.6" rx="0.7" fill="#fff"/></svg>
<div style="left:142.6px;top:-12px;width:266.08px;height:27px;line-height:27px;font-size:21.42px;color:#2a2a2a;white-space:nowrap;text-align:left;font-weight:bold;letter-spacing:-0.64px;">inspektorat.babelprov.go.id</div>
<svg style="left:453.56px;top:-12.07px;width:24.86px;height:24.02px;" viewBox="0 0 23.9 23.1" preserveAspectRatio="none"><path d="M8.7 1.3 A10.8 10.8 0 1 0 14.5 1.25" fill="none" stroke="#707070" stroke-width="1.75" stroke-linecap="round"/><path d="M22.3 1.05 H14.5 V8.1" fill="none" stroke="#707070" stroke-width="1.75" stroke-linecap="round" stroke-linejoin="miter"/></svg>
<svg style="left:-2px;top:32px;width:511px;height:4px;" viewBox="-2 32 511 4"><rect x="-0.19" y="33.59" width="507.52" height="0.62" fill="#f6f6f6"/></svg><svg style="left:28.6px;top:895.89px;width:15.9px;height:27.43px;" viewBox="0 0 15.3 26.4" preserveAspectRatio="none"><path d="M13.6 1.6 L2 13.2 L13.6 24.8" fill="none" stroke="#3d3d3d" stroke-width="1.9" stroke-linejoin="miter"/></svg>
<svg style="left:117.65px;top:895.89px;width:15.9px;height:27.43px;" viewBox="0 0 15.3 26.4" preserveAspectRatio="none"><path d="M1.7 1.6 L13.3 13.2 L1.7 24.8" fill="none" stroke="#b3b3b3" stroke-width="1.5"/></svg>
<svg style="left:197.23px;top:896.92px;width:25.97px;height:25.56px;" viewBox="0 0 25 24.6" preserveAspectRatio="none"><path d="M1.8 11.2 Q1.8 10.2 2.7 9.5 L11.3 2.3 Q12.5 1.4 13.7 2.3 L22.3 9.5 Q23.2 10.2 23.2 11.2 V20.4 a2.6 2.6 0 0 1 -2.6 2.6 H4.4 a2.6 2.6 0 0 1 -2.6 -2.6 Z" fill="none" stroke="#474747" stroke-width="1.9" stroke-linejoin="round"/><path d="M9.2 23 V14.6 a1.2 1.2 0 0 1 1.2 -1.2 H14.6 a1.2 1.2 0 0 1 1.2 1.2 V23" fill="none" stroke="#474747" stroke-width="1.8"/></svg>
<svg style="left:281.91px;top:895.68px;width:29.51px;height:27.85px;" viewBox="0 0 28.4 26.8" preserveAspectRatio="none"><path d="M16.6 21.9 L13.4 20.3 Q8.4 23.2 7.6 23.4 Q6.0 24.0 6.3 22.2 L7.5 16.4 L2.6 12.0 Q1.3 10.6 3.2 10.1 L9.6 9.2 L12.3 3.2 Q13.4 1.5 14.5 3.2 L17.2 9.2 L23.6 10.1 Q25.6 10.5 24.3 12.0 L23.2 13.0" fill="none" stroke="#474747" stroke-width="1.9" stroke-linejoin="round" stroke-linecap="round"/><path d="M17.2 16.9 H26.9 M17.2 21.1 H25.6 M17.2 25.3 H23.0" fill="none" stroke="#474747" stroke-width="1.7" stroke-linecap="round"/></svg>
<svg style="left:367.73px;top:897.34px;width:29.92px;height:24.73px;" viewBox="0 0 28.8 23.8" preserveAspectRatio="none"><rect x="1" y="5.6" width="21.6" height="17.2" rx="3" fill="none" stroke="#474747" stroke-width="1.8"/><path d="M8.4 1.2 H23.6 a4 4 0 0 1 4 4 V16" fill="none" stroke="#474747" stroke-width="1.7" stroke-linecap="round"/><text x="11.8" y="19.4" font-size="13.2" font-weight="bold" fill="#474747" text-anchor="middle" font-family="Liberation Sans, sans-serif">2</text></svg>
<svg style="left:455.42px;top:897.13px;width:26.39px;height:24.94px;" viewBox="0 0 25.4 24" preserveAspectRatio="none"><path d="M2.6 3.2 H22.8 M2.6 12 H22.8 M2.6 20.8 H22.8" fill="none" stroke="#474747" stroke-width="1.7" stroke-linecap="round"/></svg></div></div>
<svg style="left:153.3px;top:51px;width:526.4px;height:955.7px;" viewBox="153.3 51 526.4 955.7"><defs><linearGradient id="fg1" gradientUnits="userSpaceOnUse" x1="0" y1="53" x2="0" y2="1004.7"><stop offset="0" stop-color="#1b1f23"/><stop offset="0.0014" stop-color="#2a2d30"/><stop offset="0.0030" stop-color="#59595b"/><stop offset="0.0078" stop-color="#5d5c5d"/><stop offset="0.015" stop-color="#3a3a3c"/><stop offset="0.026" stop-color="#2c2c2e"/><stop offset="1" stop-color="#2a2a2b"/></linearGradient></defs><path d="M177.3 53H655.7A22 22 0 0 1 677.7 75V982.7A22 22 0 0 1 655.7 1004.7H177.3A22 22 0 0 1 155.3 982.7V75A22 22 0 0 1 177.3 53Z M178 60.6H655.2A15 15 0 0 1 670.2 75.6V982.2A15 15 0 0 1 655.2 997.2H178A15 15 0 0 1 163 982.2V75.6A15 15 0 0 1 178 60.6Z" fill="url(#fg1)" fill-rule="evenodd"/></svg>
<div class="sc" style="left:805px;top:61px;width:488px;height:937px;"><div class="fx" style="left:0;top:0;width:488px;height:937px;"><div class="web" style="left:0;top:0;width:488px;height:859.4px;"><svg style="left:4.8px;top:61.2px;width:31.4px;height:38.3px;" viewBox="0 0 31.4 38.3" preserveAspectRatio="none"><path d="M0.1 0.6 H31.2 V28.2 L15.7 38.3 L0.1 28.2 Z" fill="#2b55ad"/><circle cx="15.7" cy="17" r="10.6" fill="none" stroke="#9cc3ea" stroke-width="0.9"/><circle cx="15.7" cy="17" r="7.4" fill="#c3eedd" stroke="#e9f6ff" stroke-width="1.4"/><path d="M11.6 13.6 q3 1.4 4 4.2 q1.6 2.2 4.4 2.4" fill="none" stroke="#4fae7c" stroke-width="1.5" stroke-linecap="round"/><rect x="9.4" y="3.4" width="12.6" height="1.2" fill="#e6eefb"/><path d="M5.6 27.4 q10 4.4 20.2 0" fill="none" stroke="#e6eefb" stroke-width="2.2"/><path d="M8 24 q7.6 3 15.4 0" fill="none" stroke="#16306e" stroke-width="1.2"/></svg>
<svg style="left:38px;top:56px;width:3px;height:47px;" viewBox="38 56 3 47"><rect x="39.2" y="57.4" width="0.6" height="44.4" fill="#6a6e78"/></svg>
<div style="left:44.14px;top:58.9px;height:30px;line-height:30px;font-size:27.16px;font-weight:bold;white-space:nowrap;transform-origin:0 50%;transform:scaleX(0.67);-webkit-text-stroke:2.5px currentColor;color:#5e8c3c;letter-spacing:3px"><span style="color:#c9a53c">SI</span>MENTARI</div>
<div style="left:44.7px;top:87px;width:46px;height:6px;line-height:6px;font-size:4.6px;color:#22262e;white-space:nowrap;text-align:left;font-weight:bold;letter-spacing:-0.14px;text-shadow:0 0 0.4px #22262e;">SISTEM INFORMASI</div>
<div style="left:44.7px;top:93px;width:113.6px;height:6px;line-height:6px;font-size:4.5px;color:#a8702f;white-space:nowrap;text-align:left;">MONITORING MANAJEMEN RISIKO TERINTEGRASI</div>
<div style="left:331.6px;top:61px;width:71.8px;height:14px;line-height:14px;font-size:11.9px;color:#a93248;white-space:nowrap;text-align:left;font-weight:bold;letter-spacing:-0.25px;">BerAKHLAK</div>
<svg style="left:395.3px;top:54.9px;width:8.3px;height:12px;" viewBox="0 0 9 13" preserveAspectRatio="none"><path d="M1.4 12 L7.6 5.4 L2.6 1.4" fill="none" stroke="#a93248" stroke-width="1.5" stroke-linecap="round" stroke-linejoin="round"/></svg>
<div style="left:332px;top:74px;width:71.4px;height:4px;line-height:4px;font-size:3px;color:#444;white-space:nowrap;text-align:left;letter-spacing:0.12px;">Berorientasi Pelayanan, Akuntabel, Kompeten,</div>
<div style="left:332px;top:77px;width:56px;height:4px;line-height:4px;font-size:3px;color:#444;white-space:nowrap;text-align:left;letter-spacing:0.09px;">Harmonis, Loyal, Adaptif, Kolaboratif</div>
<div style="left:414px;top:49px;width:24.58px;height:44px;line-height:44px;font-size:37px;color:#bf343c;white-space:nowrap;text-align:left;font-weight:bold;font-style:italic;-webkit-text-stroke:2.4px #bf343c;">#</div>
<div style="left:437px;top:52px;width:46.2px;height:14px;line-height:14px;font-size:11.6px;color:#2b2b2b;white-space:nowrap;text-align:left;font-weight:bold;letter-spacing:0.16px;">bangga</div>
<div style="left:437px;top:61px;width:57.6px;height:14px;line-height:14px;font-size:11.6px;color:#c9454c;white-space:nowrap;text-align:left;letter-spacing:0.9px;">melayani</div>
<div style="left:437px;top:72px;width:44.2px;height:14px;line-height:14px;font-size:11.6px;color:#c9454c;white-space:nowrap;text-align:left;letter-spacing:0.36px;">bangsa</div>
<svg style="left:-6px;top:106px;width:500px;height:31px;" viewBox="-6 106 500 31"><rect x="-5" y="107.6" width="498" height="28.4" fill="#ffa73a"/></svg>
<div style="left:0.8px;top:111px;width:36px;height:7px;line-height:7px;font-size:5px;color:#5c3b0d;white-space:nowrap;text-align:left;font-weight:bold;letter-spacing:-0.06px;">DASHBOARD</div>
<div style="left:44.2px;top:111px;width:35.7px;height:7px;line-height:7px;font-size:5px;color:#5c3b0d;white-space:nowrap;text-align:left;font-weight:bold;">ORGANISASI</div>
<div style="left:87px;top:111px;width:43px;height:7px;line-height:7px;font-size:5px;color:#5c3b0d;white-space:nowrap;text-align:left;font-weight:bold;letter-spacing:0.01px;">PROSES BISNIS</div>
<div style="left:137.7px;top:111px;width:55.7px;height:7px;line-height:7px;font-size:5px;color:#5c3b0d;white-space:nowrap;text-align:left;font-weight:bold;letter-spacing:0.05px;">MANAJEMEN RISIKO</div>
<div style="left:201.8px;top:111px;width:28.1px;height:7px;line-height:7px;font-size:5px;color:#5c3b0d;white-space:nowrap;text-align:left;font-weight:bold;letter-spacing:-0.09px;">LAPORAN</div>
<div style="left:237.9px;top:111px;width:52.9px;height:7px;line-height:7px;font-size:5px;color:#5c3b0d;white-space:nowrap;text-align:left;font-weight:bold;letter-spacing:0.04px;">TENTANG APLIKASI</div>
<div style="left:298.4px;top:111px;width:40.6px;height:7px;line-height:7px;font-size:5px;color:#5c3b0d;white-space:nowrap;text-align:left;font-weight:bold;letter-spacing:0.02px;">HELPDESK MR</div>
<svg style="left:458px;top:106px;width:36px;height:17px;" viewBox="458 106 36 17"><rect x="459" y="107.6" width="34" height="13.9" fill="#ea5a41"/></svg>
<div style="left:462.7px;top:111px;width:25px;height:7px;line-height:7px;font-size:4.9px;color:#ffd9cf;white-space:nowrap;text-align:center;font-weight:bold;letter-spacing:0.01px;">LOGOUT</div>
<div style="left:317px;top:126px;width:169.5px;height:7px;line-height:7px;font-size:5px;color:#5c3b0d;white-space:nowrap;text-align:left;font-weight:bold;letter-spacing:-0.02px;">INSPEKTORAT DAERAH PROVINSI KEPULAUAN BANGKA BELITUNG</div>
<svg style="left:-1px;top:152px;width:489px;height:50px;" viewBox="-1 152 489 50"><rect x="0.7" y="153.6" width="485.9" height="46.5" fill="#4b55c1"/><rect x="6.9" y="161.8" width="473.5" height="30.4" fill="#6cb966"/></svg>
<div style="left:12.6px;top:165px;width:371.6px;height:12px;line-height:12px;font-size:9px;color:#f3fdee;white-space:nowrap;text-align:left;letter-spacing:-0.11px;text-shadow:0 0 0.5px #f3fdee;">Pengumuman : Batas Penginputan Identifikasi Risiko dapat diinput sampai tanggal 31-12-2024</div>
<div style="left:381.6px;top:165px;width:90.3px;height:12px;line-height:12px;font-size:10.2px;color:#2f9038;white-space:nowrap;text-align:left;font-weight:bold;letter-spacing:-0.02px;">(tinggal 241 hari 0</div>
<div style="left:12px;top:177px;width:24.4px;height:12px;line-height:12px;font-size:10.2px;color:#2f9038;white-space:nowrap;text-align:left;font-weight:bold;letter-spacing:-0.14px;">jam)</div>
<svg style="left:-1px;top:204px;width:99px;height:143px;" viewBox="-1 204 99 143"><rect x="0.48" y="205.67" width="95.65" height="139.95" fill="rgba(0,0,0,.10)" rx="0.52" opacity="0.7"/><rect x="1" y="205.7" width="94.6" height="138.9" fill="#d6d6de"/><rect x="1" y="205.7" width="2.2" height="138.9" fill="#5256c4"/><rect x="3.2" y="206.3" width="91.8" height="137.7" fill="#fff"/><rect x="8.58" y="211.98" width="81.04" height="14.34" fill="rgba(0,0,0,.18)" rx="1.42" opacity="0.7"/><rect x="9" y="211.8" width="80.2" height="13.5" fill="#ffcb45" rx="1"/></svg>
<div style="left:21.83px;top:215px;width:54.5px;height:7px;line-height:7px;font-size:5px;color:#57440f;white-space:nowrap;text-align:center;font-weight:bold;letter-spacing:-0.05px;">IDENTIFIKASI RISIKO</div>
<svg style="left:7px;top:231px;width:84px;height:17px;" viewBox="7 231 84 17"><rect x="8.58" y="232.18" width="81.04" height="14.14" fill="rgba(0,0,0,.18)" rx="1.42" opacity="0.7"/><rect x="9" y="232" width="80.2" height="13.3" fill="#ffcb45" rx="1"/></svg>
<div style="left:27.79px;top:235px;width:42.6px;height:7px;line-height:7px;font-size:5px;color:#57440f;white-space:nowrap;text-align:center;font-weight:bold;letter-spacing:-0.01px;">DAFTAR RISIKO</div>
<svg style="left:7px;top:251px;width:84px;height:25px;" viewBox="7 251 84 25"><rect x="8.58" y="252.38" width="81.04" height="22.04" fill="rgba(0,0,0,.18)" rx="1.42" opacity="0.7"/><rect x="9" y="252.2" width="80.2" height="21.2" fill="#ffcb45" rx="1"/></svg>
<div style="left:15.39px;top:256px;width:67.5px;height:7px;line-height:7px;font-size:5px;color:#57440f;white-space:nowrap;text-align:center;font-weight:bold;letter-spacing:0.08px;">RENCANA PENANGANAN</div>
<div style="left:38.5px;top:264px;width:21.2px;height:7px;line-height:7px;font-size:5px;color:#57440f;white-space:nowrap;text-align:center;font-weight:bold;">RISIKO</div>
<svg style="left:7px;top:279px;width:84px;height:25px;" viewBox="7 279 84 25"><rect x="8.58" y="280.68" width="81.04" height="21.74" fill="rgba(0,0,0,.18)" rx="1.42" opacity="0.7"/><rect x="9" y="280.5" width="80.2" height="20.9" fill="#e9e9ec" rx="1"/></svg>
<div style="left:14.63px;top:284px;width:69px;height:7px;line-height:7px;font-size:5px;color:#b4c6dc;white-space:nowrap;text-align:center;font-weight:bold;letter-spacing:0.06px;">REALISASI PENANGANAN</div>
<div style="left:38.5px;top:292px;width:21.2px;height:7px;line-height:7px;font-size:5px;color:#b4c6dc;white-space:nowrap;text-align:center;font-weight:bold;">RISIKO</div>
<svg style="left:7px;top:307px;width:84px;height:33px;" viewBox="7 307 84 33"><rect x="8.58" y="308.68" width="81.04" height="30.24" fill="rgba(0,0,0,.18)" rx="1.42" opacity="0.7"/><rect x="9" y="308.5" width="80.2" height="29.4" fill="#ffcb45" rx="1"/></svg>
<div style="left:16.39px;top:312px;width:65.5px;height:7px;line-height:7px;font-size:5px;color:#57440f;white-space:nowrap;text-align:center;font-weight:bold;letter-spacing:0.08px;">PENCATATAN KEJADIAN</div>
<div style="left:38.5px;top:320px;width:21.2px;height:7px;line-height:7px;font-size:5px;color:#57440f;white-space:nowrap;text-align:center;font-weight:bold;">RISIKO</div>
<div style="left:18.84px;top:328px;width:60.5px;height:7px;line-height:7px;font-size:5px;color:#57440f;white-space:nowrap;text-align:center;font-weight:bold;font-style:italic;letter-spacing:-0.02px;">(RISK EVENT) DAN RTP</div>
<svg style="left:-1px;top:350px;width:99px;height:199px;" viewBox="-1 350 99 199"><rect x="0.48" y="351.68" width="95.65" height="195.55" fill="rgba(0,0,0,.10)" rx="0.52" opacity="0.7"/><rect x="1" y="351.7" width="94.6" height="194.5" fill="#d6d6de"/><rect x="1" y="351.7" width="2.2" height="194.5" fill="#5256c4"/><rect x="3.2" y="352.3" width="91.8" height="193.3" fill="#fff"/><rect x="7" y="357.8" width="4.6" height="5" fill="#b9b9b9"/><rect x="7.5" y="358.3" width="3.6" height="4" fill="#fff"/></svg>
<div style="left:12.4px;top:356px;width:50px;height:8px;line-height:8px;font-size:5.6px;color:#7c7c7c;white-space:nowrap;text-align:left;letter-spacing:-0.05px;">User profile picture</div>
<svg style="left:33.9px;top:376.2px;width:29.8px;height:29.4px;shape-rendering:crispEdges;" viewBox="0 0 25 25" preserveAspectRatio="none"><path d="M0 0h7v1h-7zM8 0h5v1h-5zM14 0h2v1h-2zM18 0h7v1h-7zM0 1h1v1h-1zM6 1h1v1h-1zM8 1h3v1h-3zM12 1h2v1h-2zM15 1h2v1h-2zM18 1h1v1h-1zM24 1h1v1h-1zM0 2h1v1h-1zM2 2h3v1h-3zM6 2h1v1h-1zM11 2h1v1h-1zM15 2h1v1h-1zM18 2h1v1h-1zM20 2h3v1h-3zM24 2h1v1h-1zM0 3h1v1h-1zM2 3h3v1h-3zM6 3h1v1h-1zM9 3h3v1h-3zM13 3h2v1h-2zM18 3h1v1h-1zM20 3h3v1h-3zM24 3h1v1h-1zM0 4h1v1h-1zM2 4h3v1h-3zM6 4h1v1h-1zM8 4h1v1h-1zM15 4h1v1h-1zM18 4h1v1h-1zM20 4h3v1h-3zM24 4h1v1h-1zM0 5h1v1h-1zM6 5h1v1h-1zM8 5h2v1h-2zM12 5h5v1h-5zM18 5h1v1h-1zM24 5h1v1h-1zM0 6h7v1h-7zM12 6h3v1h-3zM18 6h7v1h-7zM10 7h1v1h-1zM14 7h3v1h-3zM0 8h1v1h-1zM5 8h2v1h-2zM8 8h1v1h-1zM11 8h2v1h-2zM15 8h3v1h-3zM20 8h1v1h-1zM24 8h1v1h-1zM1 9h2v1h-2zM7 9h1v1h-1zM10 9h4v1h-4zM15 9h3v1h-3zM19 9h2v1h-2zM23 9h1v1h-1zM3 10h4v1h-4zM8 10h2v1h-2zM12 10h1v1h-1zM16 10h1v1h-1zM18 10h2v1h-2zM0 11h1v1h-1zM5 11h1v1h-1zM7 11h1v1h-1zM12 11h1v1h-1zM16 11h6v1h-6zM0 12h1v1h-1zM3 12h1v1h-1zM6 12h1v1h-1zM8 12h2v1h-2zM12 12h2v1h-2zM15 12h3v1h-3zM19 12h1v1h-1zM21 12h3v1h-3zM1 13h1v1h-1zM5 13h3v1h-3zM9 13h3v1h-3zM14 13h2v1h-2zM19 13h2v1h-2zM22 13h2v1h-2zM2 14h1v1h-1zM4 14h1v1h-1zM6 14h2v1h-2zM10 14h2v1h-2zM13 14h7v1h-7zM21 14h1v1h-1zM23 14h2v1h-2zM0 15h3v1h-3zM5 15h2v1h-2zM8 15h1v1h-1zM10 15h2v1h-2zM13 15h1v1h-1zM17 15h1v1h-1zM21 15h4v1h-4zM0 16h1v1h-1zM2 16h3v1h-3zM8 16h7v1h-7zM18 16h1v1h-1zM20 16h5v1h-5zM8 17h3v1h-3zM17 17h2v1h-2zM20 17h1v1h-1zM23 17h1v1h-1zM0 18h7v1h-7zM14 18h5v1h-5zM24 18h1v1h-1zM0 19h1v1h-1zM6 19h1v1h-1zM8 19h3v1h-3zM12 19h1v1h-1zM15 19h3v1h-3zM22 19h3v1h-3zM0 20h1v1h-1zM2 20h3v1h-3zM6 20h1v1h-1zM9 20h1v1h-1zM11 20h3v1h-3zM15 20h1v1h-1zM18 20h2v1h-2zM22 20h3v1h-3zM0 21h1v1h-1zM2 21h3v1h-3zM6 21h1v1h-1zM11 21h1v1h-1zM13 21h9v1h-9zM23 21h1v1h-1zM0 22h1v1h-1zM2 22h3v1h-3zM6 22h1v1h-1zM10 22h5v1h-5zM16 22h1v1h-1zM18 22h2v1h-2zM21 22h2v1h-2zM0 23h1v1h-1zM6 23h1v1h-1zM8 23h1v1h-1zM11 23h2v1h-2zM14 23h4v1h-4zM20 23h1v1h-1zM22 23h1v1h-1zM24 23h1v1h-1zM0 24h7v1h-7zM8 24h8v1h-8zM19 24h2v1h-2zM22 24h3v1h-3z" fill="#1c1c1c"/></svg>
<div style="left:6.85px;top:410px;width:84.4px;height:10px;line-height:10px;font-size:7.2px;color:#505050;white-space:nowrap;text-align:center;letter-spacing:-0.09px;">INSPEKTORAT DAERAH</div>
<div style="left:7.67px;top:418px;width:82.8px;height:10px;line-height:10px;font-size:7.2px;color:#505050;white-space:nowrap;text-align:center;letter-spacing:-0.07px;">PROVINSI KEPULAUAN</div>
<div style="left:13.3px;top:427px;width:71.6px;height:10px;line-height:10px;font-size:7.2px;color:#505050;white-space:nowrap;text-align:center;">BANGKA BELITUNG</div>
<div style="left:41.56px;top:441px;width:15.6px;height:7px;line-height:7px;font-size:5px;color:#c4c4c4;white-space:nowrap;text-align:center;letter-spacing:0.12px;">1234</div>
<svg style="left:7px;top:456.1px;width:5.4px;height:6px;" viewBox="0 0 10 11" preserveAspectRatio="none"><circle cx="5" cy="3" r="2.8" fill="#333"/><path d="M0.2 11 a4.8 5.2 0 0 1 9.6 0 Z" fill="#333"/></svg>
<div style="left:13.6px;top:456px;width:23px;height:7px;line-height:7px;font-size:5.2px;color:#2f2f2f;white-space:nowrap;text-align:left;font-weight:bold;letter-spacing:-0.09px;">Jabatan</div>
<div style="left:7px;top:465px;width:14.4px;height:7px;line-height:7px;font-size:5.2px;color:#c2c2c2;white-space:nowrap;text-align:left;letter-spacing:0.07px;">user</div>
<svg style="left:7px;top:484px;width:5.4px;height:6px;" viewBox="0 0 10 11" preserveAspectRatio="none"><circle cx="5" cy="3" r="2.8" fill="#333"/><path d="M0.2 11 a4.8 5.2 0 0 1 9.6 0 Z" fill="#333"/></svg>
<div style="left:13.2px;top:484px;width:28px;height:7px;line-height:7px;font-size:5.2px;color:#2f2f2f;white-space:nowrap;text-align:left;font-weight:bold;letter-spacing:-0.06px;">Unit Kerja</div>
<div style="left:7px;top:492px;width:49.8px;height:7px;line-height:7px;font-size:5.2px;color:#c2c2c2;white-space:nowrap;text-align:left;letter-spacing:0.09px;">Inspektorat Daerah</div>
<svg style="left:7px;top:510.9px;width:6.6px;height:6px;" viewBox="0 0 12 11" preserveAspectRatio="none"><circle cx="6" cy="3" r="2.6" fill="#333"/><circle cx="2.2" cy="4" r="1.8" fill="#333"/><circle cx="9.8" cy="4" r="1.8" fill="#333"/><path d="M0 11 a6 5 0 0 1 12 0 Z" fill="#333"/></svg>
<div style="left:14.6px;top:511px;width:30.2px;height:7px;line-height:7px;font-size:5.2px;color:#2f2f2f;white-space:nowrap;text-align:left;font-weight:bold;letter-spacing:-0.07px;">Organisasi</div>
<div style="left:7px;top:518px;width:49.8px;height:7px;line-height:7px;font-size:5.2px;color:#c2c2c2;white-space:nowrap;text-align:left;letter-spacing:0.09px;">Inspektorat Daerah</div>
<div style="left:117.69px;top:212px;width:157.5px;height:10px;line-height:10px;font-size:8.3px;color:#4e4e4e;white-space:nowrap;text-align:center;letter-spacing:-0.12px;">PEMETAAN RISIKO INHEREN SEBELUM</div>
<div style="left:140.9px;top:221px;width:111.6px;height:10px;line-height:10px;font-size:8.3px;color:#4e4e4e;white-space:nowrap;text-align:center;letter-spacing:0.01px;">DILAKUKAN PENANGANAN</div>
<div style="left:303.17px;top:211px;width:171.6px;height:10px;line-height:10px;font-size:8.3px;color:#4e4e4e;white-space:nowrap;text-align:center;letter-spacing:-0.07px;">PEMETAAN RISIKO RESIDU/SISA SETELAH</div>
<div style="left:333.11px;top:221px;width:111.8px;height:10px;line-height:10px;font-size:8.3px;color:#4e4e4e;white-space:nowrap;text-align:center;letter-spacing:0.02px;">DILAKUKAN PENANGANAN</div>
<svg style="left:105px;top:233px;width:220px;height:184px;" viewBox="105 233 220 184"><rect x="106.1" y="234.2" width="217.5" height="34.2" fill="#cacaca"/><rect x="106.1" y="268.4" width="34.3" height="147.2" fill="#cacaca"/><rect x="140.4" y="243.2" width="183.2" height="0.6" fill="#d9d9d9"/><rect x="140.1" y="234.2" width="0.6" height="34.2" fill="#d9d9d9"/><rect x="175.5" y="243.5" width="0.6" height="24.9" fill="#d9d9d9"/><rect x="211.6" y="243.5" width="0.6" height="24.9" fill="#d9d9d9"/><rect x="251" y="243.5" width="0.6" height="24.9" fill="#d9d9d9"/><rect x="288.6" y="243.5" width="0.6" height="24.9" fill="#d9d9d9"/></svg>
<div style="left:221.15px;top:235px;width:21.6px;height:7px;line-height:7px;font-size:4.9px;color:#5c5c5c;white-space:nowrap;text-align:center;letter-spacing:-0.11px;">Dampak</div>
<div style="left:104.88px;top:248px;width:37.4px;height:7px;line-height:7px;font-size:5px;color:#5c5c5c;white-space:nowrap;text-align:center;letter-spacing:0.26px;">Kemungkinan</div>
<div style="left:149.89px;top:244px;width:16.4px;height:7px;line-height:7px;font-size:5.2px;color:#5c5c5c;white-space:nowrap;text-align:center;letter-spacing:-0.02px;">Tidak</div>
<div style="left:143.99px;top:253px;width:28.4px;height:7px;line-height:7px;font-size:5.2px;color:#5c5c5c;white-space:nowrap;text-align:center;letter-spacing:0.19px;">Signifikan</div>
<div style="left:154.65px;top:261px;width:6.6px;height:7px;line-height:7px;font-size:5.2px;color:#5c5c5c;white-space:nowrap;text-align:center;letter-spacing:-0.29px;">1</div>
<div style="left:185.03px;top:248px;width:17.8px;height:7px;line-height:7px;font-size:5.2px;color:#5c5c5c;white-space:nowrap;text-align:center;letter-spacing:0.16px;">Minor</div>
<div style="left:190.4px;top:257px;width:7px;height:7px;line-height:7px;font-size:5.2px;color:#5c5c5c;white-space:nowrap;text-align:center;letter-spacing:0.11px;">2</div>
<div style="left:220.35px;top:248px;width:22.4px;height:7px;line-height:7px;font-size:5.2px;color:#5c5c5c;white-space:nowrap;text-align:center;letter-spacing:-0.1px;">Moderat</div>
<div style="left:228.15px;top:257px;width:7px;height:7px;line-height:7px;font-size:5.2px;color:#5c5c5c;white-space:nowrap;text-align:center;letter-spacing:0.11px;">3</div>
<div style="left:256.62px;top:248px;width:27px;height:7px;line-height:7px;font-size:5.2px;color:#5c5c5c;white-space:nowrap;text-align:center;letter-spacing:0.05px;">Signifikan</div>
<div style="left:266.65px;top:257px;width:7px;height:7px;line-height:7px;font-size:5.2px;color:#5c5c5c;white-space:nowrap;text-align:center;letter-spacing:0.11px;">4</div>
<div style="left:296.04px;top:244px;width:20.4px;height:7px;line-height:7px;font-size:5.2px;color:#5c5c5c;white-space:nowrap;text-align:center;letter-spacing:-0.01px;">Sangat</div>
<div style="left:292.14px;top:253px;width:28.4px;height:7px;line-height:7px;font-size:5.2px;color:#5c5c5c;white-space:nowrap;text-align:center;letter-spacing:0.19px;">Signifikan</div>
<div style="left:302.8px;top:261px;width:7px;height:7px;line-height:7px;font-size:5.2px;color:#5c5c5c;white-space:nowrap;text-align:center;letter-spacing:0.11px;">5</div>
<div style="left:115.15px;top:270px;width:16.2px;height:8px;line-height:8px;font-size:5.5px;color:#5c5c5c;white-space:nowrap;text-align:center;letter-spacing:-0.01px;">Pasti</div>
<div style="left:119.72px;top:278px;width:7px;height:8px;line-height:8px;font-size:5.5px;color:#5c5c5c;white-space:nowrap;text-align:center;letter-spacing:-0.06px;">5</div>
<div style="left:105.36px;top:296px;width:35.8px;height:8px;line-height:8px;font-size:5.5px;color:#5c5c5c;white-space:nowrap;text-align:center;letter-spacing:0.03px;">Hampir Pasti</div>
<div style="left:119.72px;top:304px;width:7px;height:8px;line-height:8px;font-size:5.5px;color:#5c5c5c;white-space:nowrap;text-align:center;letter-spacing:-0.06px;">4</div>
<svg style="left:105px;top:287px;width:37px;height:3px;" viewBox="105 287 37 3"><rect x="106.1" y="288" width="34.3" height="0.6" fill="#d9d9d9"/></svg>
<div style="left:111.41px;top:327px;width:23.6px;height:8px;line-height:8px;font-size:5.5px;color:#5c5c5c;white-space:nowrap;text-align:center;letter-spacing:-0.08px;">Moderat</div>
<div style="left:119.72px;top:336px;width:7px;height:8px;line-height:8px;font-size:5.5px;color:#5c5c5c;white-space:nowrap;text-align:center;letter-spacing:-0.06px;">3</div>
<svg style="left:105px;top:318px;width:37px;height:4px;" viewBox="105 318 37 4"><rect x="106.1" y="319.6" width="34.3" height="0.6" fill="#d9d9d9"/></svg>
<div style="left:115.34px;top:359px;width:15.8px;height:8px;line-height:8px;font-size:5.5px;color:#5c5c5c;white-space:nowrap;text-align:center;letter-spacing:-0.02px;">Kecil</div>
<div style="left:119.72px;top:368px;width:7px;height:8px;line-height:8px;font-size:5.5px;color:#5c5c5c;white-space:nowrap;text-align:center;letter-spacing:-0.06px;">2</div>
<svg style="left:105px;top:350px;width:37px;height:3px;" viewBox="105 350 37 3"><rect x="106.1" y="351.3" width="34.3" height="0.6" fill="#d9d9d9"/></svg>
<div style="left:105.94px;top:391px;width:34.6px;height:8px;line-height:8px;font-size:5.5px;color:#5c5c5c;white-space:nowrap;text-align:center;letter-spacing:-0.02px;">Sangat Kecil</div>
<div style="left:119.72px;top:400px;width:7px;height:8px;line-height:8px;font-size:5.5px;color:#5c5c5c;white-space:nowrap;text-align:center;letter-spacing:-0.06px;">1</div>
<svg style="left:105px;top:267px;width:220px;height:150px;" viewBox="105 267 220 150"><rect x="106.1" y="383.4" width="34.3" height="0.6" fill="#d9d9d9"/><rect x="140.4" y="268.4" width="35.6" height="20.1" fill="#5b8fc8"/><rect x="175.8" y="268.4" width="36.3" height="20.1" fill="#489b5f"/><rect x="211.9" y="268.4" width="39.6" height="20.1" fill="#ffe14c"/><rect x="251.3" y="268.4" width="37.8" height="20.1" fill="#fdb03c"/><rect x="288.9" y="268.4" width="34.9" height="20.1" fill="#dd3349"/><rect x="140.4" y="288.3" width="35.6" height="31.8" fill="#5b8fc8"/><rect x="175.8" y="288.3" width="36.3" height="31.8" fill="#489b5f"/><rect x="211.9" y="288.3" width="39.6" height="31.8" fill="#ffe14c"/><rect x="251.3" y="288.3" width="37.8" height="31.8" fill="#fdb03c"/><rect x="288.9" y="288.3" width="34.9" height="31.8" fill="#dd3349"/><rect x="140.4" y="319.9" width="35.6" height="31.9" fill="#5b8fc8"/><rect x="175.8" y="319.9" width="36.3" height="31.9" fill="#489b5f"/><rect x="211.9" y="319.9" width="39.6" height="31.9" fill="#489b5f"/><rect x="251.3" y="319.9" width="37.8" height="31.9" fill="#ffe14c"/><rect x="288.9" y="319.9" width="34.9" height="31.9" fill="#dd3349"/><rect x="140.4" y="351.6" width="35.6" height="32.3" fill="#5b8fc8"/><rect x="175.8" y="351.6" width="36.3" height="32.3" fill="#5b8fc8"/><rect x="211.9" y="351.6" width="39.6" height="32.3" fill="#489b5f"/><rect x="251.3" y="351.6" width="37.8" height="32.3" fill="#489b5f"/><rect x="288.9" y="351.6" width="34.9" height="32.3" fill="#dd3349"/><rect x="140.4" y="383.7" width="35.6" height="32.1" fill="#5b8fc8"/><rect x="175.8" y="383.7" width="36.3" height="32.1" fill="#5b8fc8"/><rect x="211.9" y="383.7" width="39.6" height="32.1" fill="#5b8fc8"/><rect x="251.3" y="383.7" width="37.8" height="32.1" fill="#5b8fc8"/><rect x="288.9" y="383.7" width="34.9" height="32.1" fill="#dd3349"/><rect x="140.4" y="288" width="35.4" height="0.6" fill="#7aa6d6"/><rect x="175.8" y="288" width="36.1" height="0.6" fill="#6bb07d"/><rect x="211.9" y="288" width="39.4" height="0.6" fill="#ffe97a"/><rect x="251.3" y="288" width="37.6" height="0.6" fill="#fec266"/><rect x="288.9" y="288" width="34.7" height="0.6" fill="#e65a6c"/><rect x="140.4" y="319.6" width="35.4" height="0.6" fill="#7aa6d6"/><rect x="175.8" y="319.6" width="36.1" height="0.6" fill="#6bb07d"/><rect x="211.9" y="319.6" width="39.4" height="0.6" fill="#6bb07d"/><rect x="251.3" y="319.6" width="37.6" height="0.6" fill="#ffe97a"/><rect x="288.9" y="319.6" width="34.7" height="0.6" fill="#e65a6c"/><rect x="140.4" y="351.3" width="35.4" height="0.6" fill="#7aa6d6"/><rect x="175.8" y="351.3" width="36.1" height="0.6" fill="#7aa6d6"/><rect x="211.9" y="351.3" width="39.4" height="0.6" fill="#6bb07d"/><rect x="251.3" y="351.3" width="37.6" height="0.6" fill="#6bb07d"/><rect x="288.9" y="351.3" width="34.7" height="0.6" fill="#e65a6c"/><rect x="140.4" y="383.4" width="35.4" height="0.6" fill="#7aa6d6"/><rect x="175.8" y="383.4" width="36.1" height="0.6" fill="#7aa6d6"/><rect x="211.9" y="383.4" width="39.4" height="0.6" fill="#7aa6d6"/><rect x="251.3" y="383.4" width="37.6" height="0.6" fill="#7aa6d6"/><rect x="288.9" y="383.4" width="34.7" height="0.6" fill="#e65a6c"/><rect x="251.05" y="351.6" width="0.5" height="64" fill="#7fb8a0"/></svg>
<div style="left:154.43px;top:274px;width:7.34px;height:8px;line-height:8px;font-size:6px;color:#24487c;white-space:nowrap;text-align:center;opacity:.85;">5</div>
<svg style="left:155px;top:277px;width:6px;height:5px;" viewBox="155 277 6 5"><rect x="156.9" y="278.15" width="2.4" height="2.4" fill="rgba(0,0,0,.6)" rx="1.2"/></svg>
<div style="left:188.51px;top:274px;width:10.67px;height:8px;line-height:8px;font-size:6px;color:#184f28;white-space:nowrap;text-align:center;opacity:.85;">10</div>
<svg style="left:191px;top:277px;width:6px;height:5px;" viewBox="191 277 6 5"><rect x="192.65" y="278.15" width="2.4" height="2.4" fill="rgba(0,0,0,.6)" rx="1.2"/></svg>
<div style="left:226.26px;top:274px;width:10.67px;height:8px;line-height:8px;font-size:6px;color:#5c500c;white-space:nowrap;text-align:center;opacity:.85;">15</div>
<svg style="left:229px;top:277px;width:5px;height:5px;" viewBox="229 277 5 5"><rect x="230.4" y="278.15" width="2.4" height="2.4" fill="rgba(0,0,0,.6)" rx="1.2"/></svg>
<div style="left:264.76px;top:274px;width:10.67px;height:8px;line-height:8px;font-size:6px;color:#5e3b04;white-space:nowrap;text-align:center;opacity:.85;">20</div>
<svg style="left:267px;top:277px;width:6px;height:5px;" viewBox="267 277 6 5"><rect x="268.9" y="278.15" width="2.4" height="2.4" fill="rgba(0,0,0,.6)" rx="1.2"/></svg>
<div style="left:300.91px;top:274px;width:10.67px;height:8px;line-height:8px;font-size:6px;color:#6d0d1b;white-space:nowrap;text-align:center;opacity:.85;">25</div>
<svg style="left:304px;top:277px;width:5px;height:5px;" viewBox="304 277 5 5"><rect x="305.05" y="278.15" width="2.4" height="2.4" fill="rgba(0,0,0,.6)" rx="1.2"/></svg>
<div style="left:154.43px;top:300px;width:7.34px;height:8px;line-height:8px;font-size:6px;color:#24487c;white-space:nowrap;text-align:center;opacity:.85;">4</div>
<svg style="left:155px;top:302px;width:6px;height:6px;" viewBox="155 302 6 6"><rect x="156.9" y="303.9" width="2.4" height="2.4" fill="rgba(0,0,0,.6)" rx="1.2"/></svg>
<div style="left:190.18px;top:300px;width:7.34px;height:8px;line-height:8px;font-size:6px;color:#184f28;white-space:nowrap;text-align:center;opacity:.85;">8</div>
<svg style="left:191px;top:302px;width:6px;height:6px;" viewBox="191 302 6 6"><rect x="192.65" y="303.9" width="2.4" height="2.4" fill="rgba(0,0,0,.6)" rx="1.2"/></svg>
<div style="left:226.04px;top:292px;width:11.12px;height:9px;line-height:9px;font-size:6.4px;color:#5c500c;white-space:nowrap;text-align:center;opacity:.9;">12</div>
<div style="left:216.36px;top:304px;width:30.4px;height:9px;line-height:9px;font-size:6.6px;color:#3a3205;white-space:nowrap;text-align:center;letter-spacing:-0.08px;">10 Risiko</div>
<svg style="left:225px;top:298px;width:13px;height:13px;" viewBox="225 298 13 13"><rect x="226.6" y="299.3" width="10" height="10" fill="rgba(0,0,0,.62)" rx="5"/></svg>
<div style="left:264.54px;top:292px;width:11.12px;height:9px;line-height:9px;font-size:6.4px;color:#5e3b04;white-space:nowrap;text-align:center;opacity:.9;">16</div>
<div style="left:256.66px;top:304px;width:26.8px;height:9px;line-height:9px;font-size:6.6px;color:#fff4e0;white-space:nowrap;text-align:center;letter-spacing:-0.08px;">1 Risiko</div>
<svg style="left:267px;top:302px;width:6px;height:5px;" viewBox="267 302 6 5"><rect x="268.8" y="303" width="2.6" height="2.6" fill="rgba(0,0,0,.62)" rx="1.3"/></svg>
<div style="left:300.91px;top:300px;width:10.67px;height:8px;line-height:8px;font-size:6px;color:#6d0d1b;white-space:nowrap;text-align:center;opacity:.85;">20</div>
<svg style="left:304px;top:302px;width:5px;height:6px;" viewBox="304 302 5 6"><rect x="305.05" y="303.9" width="2.4" height="2.4" fill="rgba(0,0,0,.6)" rx="1.2"/></svg>
<div style="left:154.43px;top:331px;width:7.34px;height:8px;line-height:8px;font-size:6px;color:#24487c;white-space:nowrap;text-align:center;opacity:.85;">3</div>
<svg style="left:155px;top:334px;width:6px;height:5px;" viewBox="155 334 6 5"><rect x="156.9" y="335.55" width="2.4" height="2.4" fill="rgba(0,0,0,.6)" rx="1.2"/></svg>
<div style="left:190.18px;top:331px;width:7.34px;height:8px;line-height:8px;font-size:6px;color:#184f28;white-space:nowrap;text-align:center;opacity:.85;">6</div>
<svg style="left:191px;top:334px;width:6px;height:5px;" viewBox="191 334 6 5"><rect x="192.65" y="335.55" width="2.4" height="2.4" fill="rgba(0,0,0,.6)" rx="1.2"/></svg>
<div style="left:227.82px;top:324px;width:7.56px;height:9px;line-height:9px;font-size:6.4px;color:#184f28;white-space:nowrap;text-align:center;opacity:.9;">9</div>
<div style="left:216.36px;top:336px;width:30.4px;height:9px;line-height:9px;font-size:6.6px;color:#f4fbff;white-space:nowrap;text-align:center;letter-spacing:-0.08px;">13 Risiko</div>
<svg style="left:224px;top:328px;width:15px;height:15px;" viewBox="224 328 15 15"><rect x="225.6" y="329.95" width="12" height="12" fill="rgba(0,0,0,.62)" rx="6"/></svg>
<div style="left:264.54px;top:324px;width:11.12px;height:9px;line-height:9px;font-size:6.4px;color:#5c500c;white-space:nowrap;text-align:center;opacity:.9;">12</div>
<div style="left:256.66px;top:336px;width:26.8px;height:9px;line-height:9px;font-size:6.6px;color:#3a3205;white-space:nowrap;text-align:center;letter-spacing:-0.08px;">4 Risiko</div>
<svg style="left:266px;top:332px;width:8px;height:8px;" viewBox="266 332 8 8"><rect x="267.4" y="333.25" width="5.4" height="5.4" fill="rgba(0,0,0,.62)" rx="2.7"/></svg>
<div style="left:300.69px;top:324px;width:11.12px;height:9px;line-height:9px;font-size:6.4px;color:#6d0d1b;white-space:nowrap;text-align:center;opacity:.9;">15</div>
<div style="left:292.81px;top:336px;width:26.8px;height:9px;line-height:9px;font-size:6.6px;color:#f4fbff;white-space:nowrap;text-align:center;letter-spacing:-0.08px;">1 Risiko</div>
<svg style="left:303px;top:333px;width:6px;height:6px;" viewBox="303 333 6 6"><rect x="304.95" y="334.65" width="2.6" height="2.6" fill="rgba(0,0,0,.62)" rx="1.3"/></svg>
<div style="left:154.32px;top:356px;width:7.56px;height:9px;line-height:9px;font-size:6.4px;color:#24487c;white-space:nowrap;text-align:center;opacity:.9;">2</div>
<div style="left:144.66px;top:368px;width:26.8px;height:9px;line-height:9px;font-size:6.6px;color:#f4fbff;white-space:nowrap;text-align:center;letter-spacing:-0.08px;">1 Risiko</div>
<svg style="left:155px;top:365px;width:6px;height:6px;" viewBox="155 365 6 6"><rect x="156.8" y="366.55" width="2.6" height="2.6" fill="rgba(0,0,0,.62)" rx="1.3"/></svg>
<div style="left:190.07px;top:356px;width:7.56px;height:9px;line-height:9px;font-size:6.4px;color:#24487c;white-space:nowrap;text-align:center;opacity:.9;">4</div>
<div style="left:180.41px;top:368px;width:26.8px;height:9px;line-height:9px;font-size:6.6px;color:#f4fbff;white-space:nowrap;text-align:center;letter-spacing:-0.08px;">6 Risiko</div>
<svg style="left:189px;top:363px;width:10px;height:10px;" viewBox="189 363 10 10"><rect x="190.45" y="364.45" width="6.8" height="6.8" fill="rgba(0,0,0,.62)" rx="3.4"/></svg>
<div style="left:227.82px;top:356px;width:7.56px;height:9px;line-height:9px;font-size:6.4px;color:#184f28;white-space:nowrap;text-align:center;opacity:.9;">6</div>
<div style="left:216.36px;top:368px;width:30.4px;height:9px;line-height:9px;font-size:6.6px;color:#f4fbff;white-space:nowrap;text-align:center;letter-spacing:-0.08px;">22 Risiko</div>
<svg style="left:221px;top:357px;width:21px;height:22px;" viewBox="221 357 21 22"><rect x="222.3" y="358.55" width="18.6" height="18.6" fill="rgba(0,0,0,.62)" rx="9.3"/></svg>
<div style="left:266.32px;top:356px;width:7.56px;height:9px;line-height:9px;font-size:6.4px;color:#184f28;white-space:nowrap;text-align:center;opacity:.9;">8</div>
<div style="left:256.66px;top:368px;width:26.8px;height:9px;line-height:9px;font-size:6.6px;color:#f4fbff;white-space:nowrap;text-align:center;letter-spacing:-0.08px;">4 Risiko</div>
<svg style="left:266px;top:364px;width:8px;height:8px;" viewBox="266 364 8 8"><rect x="267.4" y="365.15" width="5.4" height="5.4" fill="rgba(0,0,0,.62)" rx="2.7"/></svg>
<div style="left:300.91px;top:363px;width:10.67px;height:8px;line-height:8px;font-size:6px;color:#6d0d1b;white-space:nowrap;text-align:center;opacity:.85;">10</div>
<svg style="left:304px;top:366px;width:5px;height:5px;" viewBox="304 366 5 5"><rect x="305.05" y="367.45" width="2.4" height="2.4" fill="rgba(0,0,0,.6)" rx="1.2"/></svg>
<div style="left:154.43px;top:395px;width:7.34px;height:8px;line-height:8px;font-size:6px;color:#24487c;white-space:nowrap;text-align:center;opacity:.85;">1</div>
<svg style="left:155px;top:398px;width:6px;height:5px;" viewBox="155 398 6 5"><rect x="156.9" y="399.45" width="2.4" height="2.4" fill="rgba(0,0,0,.6)" rx="1.2"/></svg>
<div style="left:190.07px;top:388px;width:7.56px;height:9px;line-height:9px;font-size:6.4px;color:#24487c;white-space:nowrap;text-align:center;opacity:.9;">2</div>
<div style="left:180.41px;top:400px;width:26.8px;height:9px;line-height:9px;font-size:6.6px;color:#f4fbff;white-space:nowrap;text-align:center;letter-spacing:-0.08px;">1 Risiko</div>
<svg style="left:191px;top:397px;width:6px;height:6px;" viewBox="191 397 6 6"><rect x="192.55" y="398.55" width="2.6" height="2.6" fill="rgba(0,0,0,.62)" rx="1.3"/></svg>
<div style="left:227.82px;top:388px;width:7.56px;height:9px;line-height:9px;font-size:6.4px;color:#24487c;white-space:nowrap;text-align:center;opacity:.9;">3</div>
<div style="left:218.16px;top:400px;width:26.8px;height:9px;line-height:9px;font-size:6.6px;color:#f4fbff;white-space:nowrap;text-align:center;letter-spacing:-0.08px;">4 Risiko</div>
<svg style="left:228px;top:396px;width:8px;height:8px;" viewBox="228 396 8 8"><rect x="229" y="397.25" width="5.2" height="5.2" fill="rgba(0,0,0,.62)" rx="2.6"/></svg>
<div style="left:266.32px;top:388px;width:7.56px;height:9px;line-height:9px;font-size:6.4px;color:#24487c;white-space:nowrap;text-align:center;opacity:.9;">4</div>
<div style="left:256.66px;top:400px;width:26.8px;height:9px;line-height:9px;font-size:6.6px;color:#f4fbff;white-space:nowrap;text-align:center;letter-spacing:-0.08px;">3 Risiko</div>
<svg style="left:266px;top:396px;width:8px;height:8px;" viewBox="266 396 8 8"><rect x="267.8" y="397.55" width="4.6" height="4.6" fill="rgba(0,0,0,.62)" rx="2.3"/></svg>
<div style="left:302.58px;top:395px;width:7.34px;height:8px;line-height:8px;font-size:6px;color:#6d0d1b;white-space:nowrap;text-align:center;opacity:.85;">5</div>
<svg style="left:104px;top:233px;width:392px;height:184px;" viewBox="104 233 392 184"><rect x="305.05" y="399.45" width="2.4" height="2.4" fill="rgba(0,0,0,.6)" rx="1.2"/><rect x="105.8" y="234" width="0.6" height="181.8" fill="#b5b5b5"/><rect x="106.1" y="415.3" width="34.3" height="0.6" fill="#b5b5b5"/><rect x="299.5" y="234.2" width="195.5" height="34.2" fill="#cacaca"/><rect x="323.6" y="268.4" width="9.8" height="147.2" fill="#cacaca"/><rect x="333.4" y="243.2" width="161.6" height="0.6" fill="#d9d9d9"/><rect x="333.1" y="234.2" width="0.6" height="34.2" fill="#d9d9d9"/><rect x="367.9" y="243.5" width="0.6" height="24.9" fill="#d9d9d9"/><rect x="408.7" y="243.5" width="0.6" height="24.9" fill="#d9d9d9"/><rect x="445" y="243.5" width="0.6" height="24.9" fill="#d9d9d9"/><rect x="469.2" y="243.5" width="0.6" height="24.9" fill="#d9d9d9"/><rect x="299.1" y="234.2" width="0.9" height="34.2" fill="#5d5d5d"/></svg>
<div style="left:402.75px;top:235px;width:21.6px;height:7px;line-height:7px;font-size:4.9px;color:#5c5c5c;white-space:nowrap;text-align:center;letter-spacing:-0.11px;">Dampak</div>
<div style="left:298.08px;top:248px;width:37.4px;height:7px;line-height:7px;font-size:5px;color:#5c5c5c;white-space:nowrap;text-align:center;letter-spacing:0.26px;">Kemungkinan</div>
<div style="left:342.59px;top:244px;width:16.4px;height:7px;line-height:7px;font-size:5.2px;color:#5c5c5c;white-space:nowrap;text-align:center;letter-spacing:-0.02px;">Tidak</div>
<div style="left:336.69px;top:253px;width:28.4px;height:7px;line-height:7px;font-size:5.2px;color:#5c5c5c;white-space:nowrap;text-align:center;letter-spacing:0.19px;">Signifikan</div>
<div style="left:347.35px;top:261px;width:6.6px;height:7px;line-height:7px;font-size:5.2px;color:#5c5c5c;white-space:nowrap;text-align:center;letter-spacing:-0.29px;">1</div>
<div style="left:379.78px;top:248px;width:17.8px;height:7px;line-height:7px;font-size:5.2px;color:#5c5c5c;white-space:nowrap;text-align:center;letter-spacing:0.16px;">Minor</div>
<div style="left:385.15px;top:257px;width:7px;height:7px;line-height:7px;font-size:5.2px;color:#5c5c5c;white-space:nowrap;text-align:center;letter-spacing:0.11px;">2</div>
<div style="left:415.9px;top:248px;width:22.4px;height:7px;line-height:7px;font-size:5.2px;color:#5c5c5c;white-space:nowrap;text-align:center;letter-spacing:-0.1px;">Moderat</div>
<div style="left:423.7px;top:257px;width:7px;height:7px;line-height:7px;font-size:5.2px;color:#5c5c5c;white-space:nowrap;text-align:center;letter-spacing:0.11px;">3</div>
<div style="left:443.92px;top:248px;width:27px;height:7px;line-height:7px;font-size:5.2px;color:#5c5c5c;white-space:nowrap;text-align:center;letter-spacing:0.05px;">Signifikan</div>
<div style="left:453.95px;top:257px;width:7px;height:7px;line-height:7px;font-size:5.2px;color:#5c5c5c;white-space:nowrap;text-align:center;letter-spacing:0.11px;">4</div>
<div style="left:472.04px;top:244px;width:20.4px;height:7px;line-height:7px;font-size:5.2px;color:#5c5c5c;white-space:nowrap;text-align:center;letter-spacing:-0.01px;">Sangat</div>
<div style="left:468.14px;top:253px;width:28.4px;height:7px;line-height:7px;font-size:5.2px;color:#5c5c5c;white-space:nowrap;text-align:center;letter-spacing:0.19px;">Signifikan</div>
<div style="left:478.8px;top:261px;width:7px;height:7px;line-height:7px;font-size:5.2px;color:#5c5c5c;white-space:nowrap;text-align:center;letter-spacing:0.11px;">5</div>
<svg style="left:332px;top:267px;width:165px;height:150px;" viewBox="332 267 165 150"><rect x="333.4" y="268.4" width="35" height="20.1" fill="#5b8fc8"/><rect x="368.2" y="268.4" width="41" height="20.1" fill="#489b5f"/><rect x="409" y="268.4" width="36.5" height="20.1" fill="#ffe14c"/><rect x="445.3" y="268.4" width="24.4" height="20.1" fill="#fdb03c"/><rect x="469.5" y="268.4" width="25.7" height="20.1" fill="#dd3349"/><rect x="333.4" y="288.3" width="35" height="31.8" fill="#5b8fc8"/><rect x="368.2" y="288.3" width="41" height="31.8" fill="#489b5f"/><rect x="409" y="288.3" width="36.5" height="31.8" fill="#ffe14c"/><rect x="445.3" y="288.3" width="24.4" height="31.8" fill="#fdb03c"/><rect x="469.5" y="288.3" width="25.7" height="31.8" fill="#dd3349"/><rect x="333.4" y="319.9" width="35" height="31.9" fill="#5b8fc8"/><rect x="368.2" y="319.9" width="41" height="31.9" fill="#489b5f"/><rect x="409" y="319.9" width="36.5" height="31.9" fill="#489b5f"/><rect x="445.3" y="319.9" width="24.4" height="31.9" fill="#ffe14c"/><rect x="469.5" y="319.9" width="25.7" height="31.9" fill="#dd3349"/><rect x="333.4" y="351.6" width="35" height="32.3" fill="#5b8fc8"/><rect x="368.2" y="351.6" width="41" height="32.3" fill="#5b8fc8"/><rect x="409" y="351.6" width="36.5" height="32.3" fill="#489b5f"/><rect x="445.3" y="351.6" width="24.4" height="32.3" fill="#489b5f"/><rect x="469.5" y="351.6" width="25.7" height="32.3" fill="#dd3349"/><rect x="333.4" y="383.7" width="35" height="32.1" fill="#5b8fc8"/><rect x="368.2" y="383.7" width="41" height="32.1" fill="#5b8fc8"/><rect x="409" y="383.7" width="36.5" height="32.1" fill="#5b8fc8"/><rect x="445.3" y="383.7" width="24.4" height="32.1" fill="#5b8fc8"/><rect x="469.5" y="383.7" width="25.7" height="32.1" fill="#dd3349"/><rect x="333.4" y="288" width="34.8" height="0.6" fill="#7aa6d6"/><rect x="368.2" y="288" width="40.8" height="0.6" fill="#6bb07d"/><rect x="409" y="288" width="36.3" height="0.6" fill="#ffe97a"/><rect x="445.3" y="288" width="24.2" height="0.6" fill="#fec266"/><rect x="469.5" y="288" width="25.5" height="0.6" fill="#e65a6c"/><rect x="333.4" y="319.6" width="34.8" height="0.6" fill="#7aa6d6"/><rect x="368.2" y="319.6" width="40.8" height="0.6" fill="#6bb07d"/><rect x="409" y="319.6" width="36.3" height="0.6" fill="#6bb07d"/><rect x="445.3" y="319.6" width="24.2" height="0.6" fill="#ffe97a"/><rect x="469.5" y="319.6" width="25.5" height="0.6" fill="#e65a6c"/><rect x="333.4" y="351.3" width="34.8" height="0.6" fill="#7aa6d6"/><rect x="368.2" y="351.3" width="40.8" height="0.6" fill="#7aa6d6"/><rect x="409" y="351.3" width="36.3" height="0.6" fill="#6bb07d"/><rect x="445.3" y="351.3" width="24.2" height="0.6" fill="#6bb07d"/><rect x="469.5" y="351.3" width="25.5" height="0.6" fill="#e65a6c"/><rect x="333.4" y="383.4" width="34.8" height="0.6" fill="#7aa6d6"/><rect x="368.2" y="383.4" width="40.8" height="0.6" fill="#7aa6d6"/><rect x="409" y="383.4" width="36.3" height="0.6" fill="#7aa6d6"/><rect x="445.3" y="383.4" width="24.2" height="0.6" fill="#7aa6d6"/><rect x="469.5" y="383.4" width="25.5" height="0.6" fill="#e65a6c"/><rect x="445.05" y="351.6" width="0.5" height="64" fill="#7fb8a0"/></svg>
<div style="left:347.13px;top:274px;width:7.34px;height:8px;line-height:8px;font-size:6px;color:#24487c;white-space:nowrap;text-align:center;opacity:.85;">5</div>
<svg style="left:348px;top:277px;width:6px;height:5px;" viewBox="348 277 6 5"><rect x="349.6" y="278.15" width="2.4" height="2.4" fill="rgba(0,0,0,.6)" rx="1.2"/></svg>
<div style="left:383.26px;top:274px;width:10.67px;height:8px;line-height:8px;font-size:6px;color:#184f28;white-space:nowrap;text-align:center;opacity:.85;">10</div>
<svg style="left:386px;top:277px;width:5px;height:5px;" viewBox="386 277 5 5"><rect x="387.4" y="278.15" width="2.4" height="2.4" fill="rgba(0,0,0,.6)" rx="1.2"/></svg>
<div style="left:421.81px;top:274px;width:10.67px;height:8px;line-height:8px;font-size:6px;color:#5c500c;white-space:nowrap;text-align:center;opacity:.85;">15</div>
<svg style="left:424px;top:277px;width:6px;height:5px;" viewBox="424 277 6 5"><rect x="425.95" y="278.15" width="2.4" height="2.4" fill="rgba(0,0,0,.6)" rx="1.2"/></svg>
<div style="left:452.06px;top:274px;width:10.67px;height:8px;line-height:8px;font-size:6px;color:#5e3b04;white-space:nowrap;text-align:center;opacity:.85;">20</div>
<svg style="left:455px;top:277px;width:5px;height:5px;" viewBox="455 277 5 5"><rect x="456.2" y="278.15" width="2.4" height="2.4" fill="rgba(0,0,0,.6)" rx="1.2"/></svg>
<div style="left:476.91px;top:274px;width:10.67px;height:8px;line-height:8px;font-size:6px;color:#6d0d1b;white-space:nowrap;text-align:center;opacity:.85;">25</div>
<svg style="left:480px;top:277px;width:5px;height:5px;" viewBox="480 277 5 5"><rect x="481.05" y="278.15" width="2.4" height="2.4" fill="rgba(0,0,0,.6)" rx="1.2"/></svg>
<div style="left:347.13px;top:300px;width:7.34px;height:8px;line-height:8px;font-size:6px;color:#24487c;white-space:nowrap;text-align:center;opacity:.85;">4</div>
<svg style="left:348px;top:302px;width:6px;height:6px;" viewBox="348 302 6 6"><rect x="349.6" y="303.9" width="2.4" height="2.4" fill="rgba(0,0,0,.6)" rx="1.2"/></svg>
<div style="left:384.93px;top:300px;width:7.34px;height:8px;line-height:8px;font-size:6px;color:#184f28;white-space:nowrap;text-align:center;opacity:.85;">8</div>
<svg style="left:386px;top:302px;width:5px;height:6px;" viewBox="386 302 5 6"><rect x="387.4" y="303.9" width="2.4" height="2.4" fill="rgba(0,0,0,.6)" rx="1.2"/></svg>
<div style="left:421.59px;top:292px;width:11.12px;height:9px;line-height:9px;font-size:6.4px;color:#5c500c;white-space:nowrap;text-align:center;opacity:.9;">12</div>
<div style="left:413.71px;top:304px;width:26.8px;height:9px;line-height:9px;font-size:6.6px;color:#3a3205;white-space:nowrap;text-align:center;letter-spacing:-0.08px;">1 Risiko</div>
<svg style="left:424px;top:302px;width:6px;height:5px;" viewBox="424 302 6 5"><rect x="425.95" y="303.1" width="2.4" height="2.4" fill="rgba(0,0,0,.62)" rx="1.2"/></svg>
<div style="left:452.06px;top:300px;width:10.67px;height:8px;line-height:8px;font-size:6px;color:#5e3b04;white-space:nowrap;text-align:center;opacity:.85;">16</div>
<svg style="left:455px;top:302px;width:5px;height:6px;" viewBox="455 302 5 6"><rect x="456.2" y="303.9" width="2.4" height="2.4" fill="rgba(0,0,0,.6)" rx="1.2"/></svg>
<div style="left:476.91px;top:300px;width:10.67px;height:8px;line-height:8px;font-size:6px;color:#6d0d1b;white-space:nowrap;text-align:center;opacity:.85;">20</div>
<svg style="left:480px;top:302px;width:5px;height:6px;" viewBox="480 302 5 6"><rect x="481.05" y="303.9" width="2.4" height="2.4" fill="rgba(0,0,0,.6)" rx="1.2"/></svg>
<div style="left:347.02px;top:324px;width:7.56px;height:9px;line-height:9px;font-size:6.4px;color:#24487c;white-space:nowrap;text-align:center;opacity:.9;">3</div>
<div style="left:337.36px;top:336px;width:26.8px;height:9px;line-height:9px;font-size:6.6px;color:#f4fbff;white-space:nowrap;text-align:center;letter-spacing:-0.08px;">1 Risiko</div>
<svg style="left:348px;top:333px;width:6px;height:6px;" viewBox="348 333 6 6"><rect x="349.6" y="334.75" width="2.4" height="2.4" fill="rgba(0,0,0,.62)" rx="1.2"/></svg>
<div style="left:384.82px;top:324px;width:7.56px;height:9px;line-height:9px;font-size:6.4px;color:#184f28;white-space:nowrap;text-align:center;opacity:.9;">6</div>
<div style="left:375.16px;top:336px;width:26.8px;height:9px;line-height:9px;font-size:6.6px;color:#f4fbff;white-space:nowrap;text-align:center;letter-spacing:-0.08px;">7 Risiko</div>
<svg style="left:383px;top:330px;width:11px;height:11px;" viewBox="383 330 11 11"><rect x="384.6" y="331.95" width="8" height="8" fill="rgba(0,0,0,.62)" rx="4"/></svg>
<div style="left:423.37px;top:324px;width:7.56px;height:9px;line-height:9px;font-size:6.4px;color:#184f28;white-space:nowrap;text-align:center;opacity:.9;">9</div>
<div style="left:413.71px;top:336px;width:26.8px;height:9px;line-height:9px;font-size:6.6px;color:#f4fbff;white-space:nowrap;text-align:center;letter-spacing:-0.08px;">1 Risiko</div>
<svg style="left:424px;top:333px;width:6px;height:6px;" viewBox="424 333 6 6"><rect x="425.95" y="334.75" width="2.4" height="2.4" fill="rgba(0,0,0,.62)" rx="1.2"/></svg>
<div style="left:452.06px;top:331px;width:10.67px;height:8px;line-height:8px;font-size:6px;color:#5c500c;white-space:nowrap;text-align:center;opacity:.85;">12</div>
<svg style="left:455px;top:334px;width:5px;height:5px;" viewBox="455 334 5 5"><rect x="456.2" y="335.55" width="2.4" height="2.4" fill="rgba(0,0,0,.6)" rx="1.2"/></svg>
<div style="left:476.91px;top:331px;width:10.67px;height:8px;line-height:8px;font-size:6px;color:#6d0d1b;white-space:nowrap;text-align:center;opacity:.85;">15</div>
<svg style="left:480px;top:334px;width:5px;height:5px;" viewBox="480 334 5 5"><rect x="481.05" y="335.55" width="2.4" height="2.4" fill="rgba(0,0,0,.6)" rx="1.2"/></svg>
<div style="left:347.02px;top:356px;width:7.56px;height:9px;line-height:9px;font-size:6.4px;color:#24487c;white-space:nowrap;text-align:center;opacity:.9;">2</div>
<div style="left:337.36px;top:368px;width:26.8px;height:9px;line-height:9px;font-size:6.6px;color:#f4fbff;white-space:nowrap;text-align:center;letter-spacing:-0.08px;">2 Risiko</div>
<svg style="left:348px;top:365px;width:6px;height:6px;" viewBox="348 365 6 6"><rect x="349.2" y="366.25" width="3.2" height="3.2" fill="rgba(0,0,0,.62)" rx="1.6"/></svg>
<div style="left:384.82px;top:356px;width:7.56px;height:9px;line-height:9px;font-size:6.4px;color:#24487c;white-space:nowrap;text-align:center;opacity:.9;">4</div>
<div style="left:373.36px;top:368px;width:30.4px;height:9px;line-height:9px;font-size:6.6px;color:#f4fbff;white-space:nowrap;text-align:center;letter-spacing:-0.08px;">19 Risiko</div>
<svg style="left:379px;top:358px;width:20px;height:20px;" viewBox="379 358 20 20"><rect x="380.1" y="359.35" width="17" height="17" fill="rgba(0,0,0,.62)" rx="8.5"/></svg>
<div style="left:423.37px;top:356px;width:7.56px;height:9px;line-height:9px;font-size:6.4px;color:#184f28;white-space:nowrap;text-align:center;opacity:.9;">6</div>
<div style="left:413.71px;top:368px;width:26.8px;height:9px;line-height:9px;font-size:6.6px;color:#f4fbff;white-space:nowrap;text-align:center;letter-spacing:-0.08px;">6 Risiko</div>
<svg style="left:422px;top:363px;width:10px;height:10px;" viewBox="422 363 10 10"><rect x="423.65" y="364.35" width="7" height="7" fill="rgba(0,0,0,.62)" rx="3.5"/></svg>
<div style="left:453.73px;top:363px;width:7.34px;height:8px;line-height:8px;font-size:6px;color:#184f28;white-space:nowrap;text-align:center;opacity:.85;">8</div>
<svg style="left:455px;top:366px;width:5px;height:5px;" viewBox="455 366 5 5"><rect x="456.2" y="367.45" width="2.4" height="2.4" fill="rgba(0,0,0,.6)" rx="1.2"/></svg>
<div style="left:476.91px;top:363px;width:10.67px;height:8px;line-height:8px;font-size:6px;color:#6d0d1b;white-space:nowrap;text-align:center;opacity:.85;">10</div>
<svg style="left:480px;top:366px;width:5px;height:5px;" viewBox="480 366 5 5"><rect x="481.05" y="367.45" width="2.4" height="2.4" fill="rgba(0,0,0,.6)" rx="1.2"/></svg>
<div style="left:347.02px;top:388px;width:7.56px;height:9px;line-height:9px;font-size:6.4px;color:#24487c;white-space:nowrap;text-align:center;opacity:.9;">1</div>
<div style="left:337.36px;top:400px;width:26.8px;height:9px;line-height:9px;font-size:6.6px;color:#f4fbff;white-space:nowrap;text-align:center;letter-spacing:-0.08px;">4 Risiko</div>
<svg style="left:346px;top:395px;width:9px;height:9px;" viewBox="346 395 9 9"><rect x="347.8" y="396.85" width="6" height="6" fill="rgba(0,0,0,.62)" rx="3"/></svg>
<div style="left:384.82px;top:388px;width:7.56px;height:9px;line-height:9px;font-size:6.4px;color:#24487c;white-space:nowrap;text-align:center;opacity:.9;">2</div>
<div style="left:373.36px;top:400px;width:30.4px;height:9px;line-height:9px;font-size:6.6px;color:#f4fbff;white-space:nowrap;text-align:center;letter-spacing:-0.08px;">25 Risiko</div>
<svg style="left:377px;top:388px;width:24px;height:24px;" viewBox="377 388 24 24"><rect x="378.1" y="389.35" width="21" height="21" fill="rgba(0,0,0,.62)" rx="10.5"/></svg>
<div style="left:423.37px;top:388px;width:7.56px;height:9px;line-height:9px;font-size:6.4px;color:#24487c;white-space:nowrap;text-align:center;opacity:.9;">3</div>
<div style="left:413.71px;top:400px;width:26.8px;height:9px;line-height:9px;font-size:6.6px;color:#f4fbff;white-space:nowrap;text-align:center;letter-spacing:-0.08px;">3 Risiko</div>
<svg style="left:423px;top:396px;width:8px;height:8px;" viewBox="423 396 8 8"><rect x="424.65" y="397.35" width="5" height="5" fill="rgba(0,0,0,.62)" rx="2.5"/></svg>
<div style="left:453.73px;top:395px;width:7.34px;height:8px;line-height:8px;font-size:6px;color:#24487c;white-space:nowrap;text-align:center;opacity:.85;">4</div>
<svg style="left:455px;top:398px;width:5px;height:5px;" viewBox="455 398 5 5"><rect x="456.2" y="399.45" width="2.4" height="2.4" fill="rgba(0,0,0,.6)" rx="1.2"/></svg>
<div style="left:478.58px;top:395px;width:7.34px;height:8px;line-height:8px;font-size:6px;color:#6d0d1b;white-space:nowrap;text-align:center;opacity:.85;">5</div>
<svg style="left:480px;top:398px;width:5px;height:5px;" viewBox="480 398 5 5"><rect x="481.05" y="399.45" width="2.4" height="2.4" fill="rgba(0,0,0,.6)" rx="1.2"/></svg>
<div style="left:324px;top:296px;width:12.4px;height:8px;line-height:8px;font-size:5.4px;color:#5c5c5c;white-space:nowrap;text-align:left;">asti</div>
<div style="left:324px;top:327px;width:6.7px;height:8px;line-height:8px;font-size:5.4px;color:#5c5c5c;white-space:nowrap;text-align:left;">s</div>
<div style="left:324px;top:391px;width:9.1px;height:8px;line-height:8px;font-size:5.4px;color:#5c5c5c;white-space:nowrap;text-align:left;">cil</div>
<svg style="left:104px;top:267px;width:368px;height:285px;" viewBox="104 267 368 285"><path d="M175.8 269.2L175.8 351.6" stroke="#ecd868" stroke-width="2.2" stroke-linecap="square" fill="none"/><path d="M175.8 269.2L175.8 351.6" stroke="#ffffff" stroke-width="2.2" stroke-dasharray="2.7 1.6" fill="none"/><path d="M175.8 351.6L211.9 351.6" stroke="#ecd868" stroke-width="2.2" stroke-linecap="square" fill="none"/><path d="M175.8 351.6L211.9 351.6" stroke="#ffffff" stroke-width="2.2" stroke-dasharray="2.7 1.6" fill="none"/><path d="M211.9 351.6L211.9 383.7" stroke="#ecd868" stroke-width="2.2" stroke-linecap="square" fill="none"/><path d="M211.9 351.6L211.9 383.7" stroke="#ffffff" stroke-width="2.2" stroke-dasharray="2.7 1.6" fill="none"/><path d="M211.9 383.7L288.9 383.7" stroke="#ecd868" stroke-width="2.2" stroke-linecap="square" fill="none"/><path d="M211.9 383.7L288.9 383.7" stroke="#ffffff" stroke-width="2.2" stroke-dasharray="2.7 1.6" fill="none"/><path d="M288.9 383.7L288.9 415" stroke="#ecd868" stroke-width="2.2" stroke-linecap="square" fill="none"/><path d="M288.9 383.7L288.9 415" stroke="#ffffff" stroke-width="2.2" stroke-dasharray="2.7 1.6" fill="none"/><path d="M368.2 269.2L368.2 351.6" stroke="#ecd868" stroke-width="2.2" stroke-linecap="square" fill="none"/><path d="M368.2 269.2L368.2 351.6" stroke="#ffffff" stroke-width="2.2" stroke-dasharray="2.7 1.6" fill="none"/><path d="M368.2 351.6L409 351.6" stroke="#ecd868" stroke-width="2.2" stroke-linecap="square" fill="none"/><path d="M368.2 351.6L409 351.6" stroke="#ffffff" stroke-width="2.2" stroke-dasharray="2.7 1.6" fill="none"/><path d="M409 351.6L409 383.7" stroke="#ecd868" stroke-width="2.2" stroke-linecap="square" fill="none"/><path d="M409 351.6L409 383.7" stroke="#ffffff" stroke-width="2.2" stroke-dasharray="2.7 1.6" fill="none"/><path d="M409 383.7L469.5 383.7" stroke="#ecd868" stroke-width="2.2" stroke-linecap="square" fill="none"/><path d="M409 383.7L469.5 383.7" stroke="#ffffff" stroke-width="2.2" stroke-dasharray="2.7 1.6" fill="none"/><path d="M469.5 383.7L469.5 415" stroke="#ecd868" stroke-width="2.2" stroke-linecap="square" fill="none"/><path d="M469.5 383.7L469.5 415" stroke="#ffffff" stroke-width="2.2" stroke-dasharray="2.7 1.6" fill="none"/><rect x="105.6" y="423.4" width="182.2" height="127.6" fill="#bdbdbd"/><rect x="106.1" y="423.9" width="181.2" height="126.6" fill="#fff"/><rect x="106.1" y="423.9" width="181.2" height="42.1" fill="#cacaca"/><rect x="157.8" y="423.9" width="0.6" height="42.1" fill="#b9b9b9"/><rect x="157.85" y="466" width="0.5" height="84.5" fill="#e4e4e4"/><rect x="183.6" y="423.9" width="0.6" height="42.1" fill="#b9b9b9"/><rect x="183.65" y="466" width="0.5" height="84.5" fill="#e4e4e4"/><rect x="209.2" y="423.9" width="0.6" height="42.1" fill="#b9b9b9"/><rect x="209.25" y="466" width="0.5" height="84.5" fill="#e4e4e4"/></svg>
<div style="left:122.21px;top:441px;width:19.8px;height:8px;line-height:8px;font-size:5.4px;color:#5c5c5c;white-space:nowrap;text-align:center;letter-spacing:0.02px;">Warna</div>
<div style="left:162.67px;top:441px;width:16.6px;height:8px;line-height:8px;font-size:5.4px;color:#5c5c5c;white-space:nowrap;text-align:center;letter-spacing:-0.06px;">Level</div>
<div style="left:188.25px;top:424px;width:16.91px;height:8px;line-height:8px;font-size:5.4px;color:#5c5c5c;white-space:nowrap;text-align:center;">Level</div>
<div style="left:186.15px;top:432px;width:21.11px;height:8px;line-height:8px;font-size:5.4px;color:#5c5c5c;white-space:nowrap;text-align:center;">dimulai</div>
<div style="left:190.2px;top:441px;width:13px;height:8px;line-height:8px;font-size:5.4px;color:#5c5c5c;white-space:nowrap;text-align:center;">dari</div>
<div style="left:187.05px;top:449px;width:19.31px;height:8px;line-height:8px;font-size:5.4px;color:#5c5c5c;white-space:nowrap;text-align:center;">Status</div>
<div style="left:187.35px;top:457px;width:18.7px;height:8px;line-height:8px;font-size:5.4px;color:#5c5c5c;white-space:nowrap;text-align:center;">Risiko</div>
<div style="left:218.23px;top:441px;width:60.4px;height:8px;line-height:8px;font-size:5.4px;color:#5c5c5c;white-space:nowrap;text-align:center;letter-spacing:0.05px;">Deskripsi Status Risiko</div>
<svg style="left:105px;top:465px;width:55px;height:19px;" viewBox="105 465 55 19"><rect x="106.1" y="466" width="52" height="16.9" fill="#dd3349"/></svg>
<div style="left:122.59px;top:471px;width:19.02px;height:7px;line-height:7px;font-size:5.3px;color:#8c1c2a;white-space:nowrap;text-align:center;">Merah</div>
<div style="left:167.55px;top:471px;width:6.89px;height:7px;line-height:7px;font-size:5.2px;color:#8a8a8a;white-space:nowrap;text-align:center;">5</div>
<div style="left:191.81px;top:471px;width:9.78px;height:7px;line-height:7px;font-size:5.2px;color:#8a8a8a;white-space:nowrap;text-align:center;">21</div>
<svg style="left:208px;top:465px;width:42px;height:19px;" viewBox="208 465 42 19"><rect x="209.5" y="466" width="38.6" height="16.9" fill="#e15b45"/></svg>
<div style="left:213.09px;top:469px;width:31.4px;height:9px;line-height:9px;font-size:6.7px;color:#fff3ea;white-space:nowrap;text-align:center;letter-spacing:-0.02px;">01 Risiko</div>
<svg style="left:105px;top:481px;width:184px;height:20px;" viewBox="105 481 184 20"><rect x="106.1" y="482.7" width="52" height="16.9" fill="#fdb03c"/><rect x="158.1" y="482.45" width="129.2" height="0.5" fill="#e4e4e4"/></svg>
<div style="left:121.26px;top:488px;width:21.68px;height:7px;line-height:7px;font-size:5.3px;color:#8a5a0c;white-space:nowrap;text-align:center;">Orange</div>
<div style="left:167.55px;top:488px;width:6.89px;height:7px;line-height:7px;font-size:5.2px;color:#8a8a8a;white-space:nowrap;text-align:center;">4</div>
<div style="left:191.81px;top:488px;width:9.78px;height:7px;line-height:7px;font-size:5.2px;color:#8a8a8a;white-space:nowrap;text-align:center;">16</div>
<svg style="left:208px;top:481px;width:42px;height:20px;" viewBox="208 481 42 20"><rect x="209.5" y="482.7" width="38.6" height="16.9" fill="#f7a73e"/></svg>
<div style="left:213.09px;top:486px;width:31.4px;height:9px;line-height:9px;font-size:6.7px;color:#5d3b06;white-space:nowrap;text-align:center;letter-spacing:-0.02px;">01 Risiko</div>
<svg style="left:105px;top:498px;width:184px;height:20px;" viewBox="105 498 184 20"><rect x="106.1" y="499.4" width="52" height="16.8" fill="#ffe14c"/><rect x="158.1" y="499.15" width="129.2" height="0.5" fill="#e4e4e4"/></svg>
<div style="left:121.85px;top:504px;width:20.5px;height:7px;line-height:7px;font-size:5.3px;color:#7a6a12;white-space:nowrap;text-align:center;">Kuning</div>
<div style="left:167.55px;top:505px;width:6.89px;height:7px;line-height:7px;font-size:5.2px;color:#8a8a8a;white-space:nowrap;text-align:center;">3</div>
<div style="left:192px;top:505px;width:9.4px;height:7px;line-height:7px;font-size:5.2px;color:#8a8a8a;white-space:nowrap;text-align:center;">11</div>
<svg style="left:208px;top:498px;width:42px;height:20px;" viewBox="208 498 42 20"><rect x="209.5" y="499.4" width="38.6" height="16.8" fill="#ffff52"/></svg>
<div style="left:213.09px;top:503px;width:31.4px;height:9px;line-height:9px;font-size:6.7px;color:#4a4a0a;white-space:nowrap;text-align:center;letter-spacing:-0.02px;">14 Risiko</div>
<svg style="left:105px;top:514px;width:184px;height:21px;" viewBox="105 514 184 21"><rect x="106.1" y="516" width="52" height="17.9" fill="#489b5f"/><rect x="158.1" y="515.75" width="129.2" height="0.5" fill="#e4e4e4"/></svg>
<div style="left:124.06px;top:521px;width:16.08px;height:7px;line-height:7px;font-size:5.3px;color:#235c34;white-space:nowrap;text-align:center;">Hijau</div>
<div style="left:167.55px;top:522px;width:6.89px;height:7px;line-height:7px;font-size:5.2px;color:#8a8a8a;white-space:nowrap;text-align:center;">2</div>
<div style="left:193.25px;top:522px;width:6.89px;height:7px;line-height:7px;font-size:5.2px;color:#8a8a8a;white-space:nowrap;text-align:center;">6</div>
<svg style="left:208px;top:515px;width:42px;height:20px;" viewBox="208 515 42 20"><rect x="209.5" y="516" width="38.6" height="17.9" fill="#2f8b2e"/></svg>
<div style="left:213.09px;top:520px;width:31.4px;height:9px;line-height:9px;font-size:6.7px;color:#eaffea;white-space:nowrap;text-align:center;letter-spacing:-0.02px;">39 Risiko</div>
<svg style="left:105px;top:532px;width:184px;height:20px;" viewBox="105 532 184 20"><rect x="106.1" y="533.7" width="52" height="17" fill="#5b8fc8"/><rect x="158.1" y="533.45" width="129.2" height="0.5" fill="#e4e4e4"/></svg>
<div style="left:125.39px;top:539px;width:13.43px;height:7px;line-height:7px;font-size:5.3px;color:#2f5a92;white-space:nowrap;text-align:center;">Biru</div>
<div style="left:167.55px;top:539px;width:6.89px;height:7px;line-height:7px;font-size:5.2px;color:#8a8a8a;white-space:nowrap;text-align:center;">1</div>
<div style="left:193.25px;top:539px;width:6.89px;height:7px;line-height:7px;font-size:5.2px;color:#8a8a8a;white-space:nowrap;text-align:center;">1</div>
<svg style="left:208px;top:532px;width:42px;height:20px;" viewBox="208 532 42 20"><rect x="209.5" y="533.7" width="38.6" height="17" fill="#2f79c9"/></svg>
<div style="left:213.09px;top:537px;width:31.4px;height:9px;line-height:9px;font-size:6.7px;color:#f0f7ff;white-space:nowrap;text-align:center;letter-spacing:-0.02px;">15 Risiko</div>
<svg style="left:256px;top:423px;width:226px;height:147px;" viewBox="256 423 226 147"><rect x="257.3" y="508.2" width="29.8" height="29.8" fill="rgba(0,0,0,.58)" rx="14.9"/><rect x="257.3" y="500.4" width="11.4" height="11.4" fill="rgba(0,0,0,.58)" rx="5.7"/><rect x="257.7" y="534.4" width="11.4" height="11.4" fill="rgba(0,0,0,.58)" rx="5.7"/><rect x="257.3" y="472" width="2" height="2" fill="rgba(0,0,0,.58)" rx="1"/><rect x="257.3" y="488.5" width="2" height="2" fill="rgba(0,0,0,.58)" rx="1"/><rect x="298.2" y="424.1" width="182.2" height="144.1" fill="#bdbdbd"/><rect x="298.7" y="424.6" width="181.2" height="143.1" fill="#fff"/><rect x="298.7" y="424.6" width="181.2" height="42.1" fill="#cacaca"/><rect x="350.2" y="424.6" width="0.6" height="42.1" fill="#b9b9b9"/><rect x="350.25" y="466.7" width="0.5" height="101" fill="#e4e4e4"/><rect x="376.4" y="424.6" width="0.6" height="42.1" fill="#b9b9b9"/><rect x="376.45" y="466.7" width="0.5" height="101" fill="#e4e4e4"/><rect x="402" y="424.6" width="0.6" height="42.1" fill="#b9b9b9"/><rect x="402.05" y="466.7" width="0.5" height="101" fill="#e4e4e4"/></svg>
<div style="left:314.71px;top:441px;width:19.8px;height:8px;line-height:8px;font-size:5.4px;color:#5c5c5c;white-space:nowrap;text-align:center;letter-spacing:0.02px;">Warna</div>
<div style="left:355.27px;top:441px;width:16.6px;height:8px;line-height:8px;font-size:5.4px;color:#5c5c5c;white-space:nowrap;text-align:center;letter-spacing:-0.06px;">Level</div>
<div style="left:381.05px;top:425px;width:16.91px;height:8px;line-height:8px;font-size:5.4px;color:#5c5c5c;white-space:nowrap;text-align:center;">Level</div>
<div style="left:378.95px;top:433px;width:21.11px;height:8px;line-height:8px;font-size:5.4px;color:#5c5c5c;white-space:nowrap;text-align:center;">dimulai</div>
<div style="left:383px;top:441px;width:13px;height:8px;line-height:8px;font-size:5.4px;color:#5c5c5c;white-space:nowrap;text-align:center;">dari</div>
<div style="left:379.85px;top:450px;width:19.31px;height:8px;line-height:8px;font-size:5.4px;color:#5c5c5c;white-space:nowrap;text-align:center;">Status</div>
<div style="left:380.15px;top:458px;width:18.7px;height:8px;line-height:8px;font-size:5.4px;color:#5c5c5c;white-space:nowrap;text-align:center;">Risiko</div>
<div style="left:410.93px;top:441px;width:60.4px;height:8px;line-height:8px;font-size:5.4px;color:#5c5c5c;white-space:nowrap;text-align:center;letter-spacing:0.05px;">Deskripsi Status Risiko</div>
<svg style="left:297px;top:465px;width:55px;height:20px;" viewBox="297 465 55 20"><rect x="298.7" y="466.7" width="51.8" height="17" fill="#dd3349"/></svg>
<div style="left:315.09px;top:472px;width:19.02px;height:7px;line-height:7px;font-size:5.3px;color:#8c1c2a;white-space:nowrap;text-align:center;">Merah</div>
<div style="left:360.15px;top:472px;width:6.89px;height:7px;line-height:7px;font-size:5.2px;color:#8a8a8a;white-space:nowrap;text-align:center;">5</div>
<div style="left:384.61px;top:472px;width:9.78px;height:7px;line-height:7px;font-size:5.2px;color:#8a8a8a;white-space:nowrap;text-align:center;">21</div>
<svg style="left:401px;top:465px;width:41px;height:20px;" viewBox="401 465 41 20"><rect x="402.3" y="466.7" width="38.6" height="17" fill="#e15b45"/></svg>
<div style="left:405.89px;top:470px;width:31.4px;height:9px;line-height:9px;font-size:6.7px;color:#fff3ea;white-space:nowrap;text-align:center;letter-spacing:-0.02px;">00 Risiko</div>
<svg style="left:297px;top:482px;width:184px;height:20px;" viewBox="297 482 184 20"><rect x="298.7" y="483.5" width="51.8" height="16.9" fill="#fdb03c"/><rect x="350.5" y="483.25" width="129.4" height="0.5" fill="#e4e4e4"/></svg>
<div style="left:313.76px;top:488px;width:21.68px;height:7px;line-height:7px;font-size:5.3px;color:#8a5a0c;white-space:nowrap;text-align:center;">Orange</div>
<div style="left:360.15px;top:489px;width:6.89px;height:7px;line-height:7px;font-size:5.2px;color:#8a8a8a;white-space:nowrap;text-align:center;">4</div>
<div style="left:384.61px;top:489px;width:9.78px;height:7px;line-height:7px;font-size:5.2px;color:#8a8a8a;white-space:nowrap;text-align:center;">16</div>
<svg style="left:401px;top:482px;width:41px;height:20px;" viewBox="401 482 41 20"><rect x="402.3" y="483.5" width="38.6" height="16.9" fill="#f7a73e"/></svg>
<div style="left:405.89px;top:487px;width:31.4px;height:9px;line-height:9px;font-size:6.7px;color:#5d3b06;white-space:nowrap;text-align:center;letter-spacing:-0.02px;">00 Risiko</div>
<svg style="left:297px;top:498px;width:184px;height:20px;" viewBox="297 498 184 20"><rect x="298.7" y="500.2" width="51.8" height="16.6" fill="#ffe14c"/><rect x="350.5" y="499.95" width="129.4" height="0.5" fill="#e4e4e4"/></svg>
<div style="left:314.35px;top:505px;width:20.5px;height:7px;line-height:7px;font-size:5.3px;color:#7a6a12;white-space:nowrap;text-align:center;">Kuning</div>
<div style="left:360.15px;top:505px;width:6.89px;height:7px;line-height:7px;font-size:5.2px;color:#8a8a8a;white-space:nowrap;text-align:center;">3</div>
<div style="left:384.8px;top:505px;width:9.4px;height:7px;line-height:7px;font-size:5.2px;color:#8a8a8a;white-space:nowrap;text-align:center;">11</div>
<svg style="left:401px;top:499px;width:41px;height:19px;" viewBox="401 499 41 19"><rect x="402.3" y="500.2" width="38.6" height="16.6" fill="#ffff52"/></svg>
<div style="left:405.89px;top:503px;width:31.4px;height:9px;line-height:9px;font-size:6.7px;color:#4a4a0a;white-space:nowrap;text-align:center;letter-spacing:-0.02px;">01 Risiko</div>
<svg style="left:297px;top:515px;width:184px;height:20px;" viewBox="297 515 184 20"><rect x="298.7" y="516.6" width="51.8" height="17.3" fill="#489b5f"/><rect x="350.5" y="516.35" width="129.4" height="0.5" fill="#e4e4e4"/></svg>
<div style="left:316.56px;top:522px;width:16.08px;height:7px;line-height:7px;font-size:5.3px;color:#235c34;white-space:nowrap;text-align:center;">Hijau</div>
<div style="left:360.15px;top:522px;width:6.89px;height:7px;line-height:7px;font-size:5.2px;color:#8a8a8a;white-space:nowrap;text-align:center;">2</div>
<div style="left:386.05px;top:522px;width:6.89px;height:7px;line-height:7px;font-size:5.2px;color:#8a8a8a;white-space:nowrap;text-align:center;">6</div>
<svg style="left:401px;top:515px;width:41px;height:20px;" viewBox="401 515 41 20"><rect x="402.3" y="516.6" width="38.6" height="17.3" fill="#2f8b2e"/></svg>
<div style="left:405.89px;top:520px;width:31.4px;height:9px;line-height:9px;font-size:6.7px;color:#eaffea;white-space:nowrap;text-align:center;letter-spacing:-0.02px;">14 Risiko</div>
<svg style="left:297px;top:532px;width:184px;height:21px;" viewBox="297 532 184 21"><rect x="298.7" y="533.7" width="51.8" height="17.4" fill="#5b8fc8"/><rect x="350.5" y="533.45" width="129.4" height="0.5" fill="#e4e4e4"/></svg>
<div style="left:317.89px;top:539px;width:13.43px;height:7px;line-height:7px;font-size:5.3px;color:#2f5a92;white-space:nowrap;text-align:center;">Biru</div>
<div style="left:360.15px;top:539px;width:6.89px;height:7px;line-height:7px;font-size:5.2px;color:#8a8a8a;white-space:nowrap;text-align:center;">1</div>
<div style="left:386.05px;top:539px;width:6.89px;height:7px;line-height:7px;font-size:5.2px;color:#8a8a8a;white-space:nowrap;text-align:center;">1</div>
<svg style="left:401px;top:532px;width:41px;height:21px;" viewBox="401 532 41 21"><rect x="402.3" y="533.7" width="38.6" height="17.4" fill="#2f79c9"/></svg>
<div style="left:405.89px;top:537px;width:31.4px;height:9px;line-height:9px;font-size:6.7px;color:#f0f7ff;white-space:nowrap;text-align:center;letter-spacing:-0.02px;">54 Risiko</div>
<svg style="left:297px;top:549px;width:184px;height:20px;" viewBox="297 549 184 20"><rect x="298.7" y="550.9" width="51.8" height="17" fill="#000"/><rect x="350.5" y="550.65" width="129.4" height="0.5" fill="#e4e4e4"/></svg>
<div style="left:360.15px;top:556px;width:6.89px;height:7px;line-height:7px;font-size:5.2px;color:#8a8a8a;white-space:nowrap;text-align:center;">0</div>
<div style="left:386.05px;top:556px;width:6.89px;height:7px;line-height:7px;font-size:5.2px;color:#8a8a8a;white-space:nowrap;text-align:center;">0</div>
<svg style="left:401px;top:549px;width:41px;height:20px;" viewBox="401 549 41 20"><rect x="402.3" y="550.9" width="38.6" height="17" fill="#141414"/></svg>
<div style="left:405.89px;top:554px;width:31.4px;height:9px;line-height:9px;font-size:6.7px;color:#f2f2f2;white-space:nowrap;text-align:center;letter-spacing:-0.02px;">01 Risiko</div>
<svg style="left:102px;top:471px;width:388px;height:124px;" viewBox="102 471 388 124"><rect x="449.2" y="520.8" width="39" height="39" fill="rgba(0,0,0,.58)" rx="19.5"/><rect x="449.7" y="517.6" width="12" height="12" fill="rgba(0,0,0,.58)" rx="6"/><rect x="449.8" y="472.4" width="1.6" height="1.6" fill="rgba(0,0,0,.58)" rx="0.8"/><rect x="449.8" y="489.2" width="1.6" height="1.6" fill="rgba(0,0,0,.58)" rx="0.8"/><rect x="449.3" y="505.9" width="2.6" height="2.6" fill="rgba(0,0,0,.58)" rx="1.3"/><rect x="449.6" y="557" width="2" height="2" fill="rgba(0,0,0,.58)" rx="1"/><rect x="103.28" y="572.48" width="378.34" height="21.04" fill="rgba(0,0,0,.15)" rx="2.92" opacity="0.7"/><rect x="103.7" y="572.3" width="377.5" height="20.2" fill="#ffcb45" rx="2.5"/></svg>
<div style="left:182.9px;top:577px;width:224.2px;height:10px;line-height:10px;font-size:7px;color:#5b4a12;white-space:nowrap;text-align:left;font-weight:bold;letter-spacing:-0.21px;">REALISASI PENANGANAN RISIKO PADA PD INSPEKTORAT DAERAH</div>
<svg style="left:99px;top:595px;width:388px;height:19px;" viewBox="99 595 388 19"><rect x="100.6" y="596.7" width="384.6" height="16.3" fill="#3b7cc4"/><rect x="111.2" y="596.7" width="0.6" height="16.3" fill="#6aa3df"/><rect x="151.3" y="596.7" width="0.6" height="16.3" fill="#6aa3df"/><rect x="214.1" y="596.7" width="0.6" height="16.3" fill="#6aa3df"/><rect x="234.1" y="596.7" width="0.6" height="16.3" fill="#6aa3df"/><rect x="265.6" y="596.7" width="0.6" height="16.3" fill="#6aa3df"/><rect x="304.2" y="596.7" width="0.6" height="16.3" fill="#6aa3df"/><rect x="338.2" y="596.7" width="0.6" height="16.3" fill="#6aa3df"/><rect x="360.3" y="596.7" width="0.6" height="16.3" fill="#6aa3df"/><rect x="381.1" y="596.7" width="0.6" height="16.3" fill="#6aa3df"/><rect x="413.3" y="596.7" width="0.6" height="16.3" fill="#6aa3df"/><rect x="440.2" y="596.7" width="0.6" height="16.3" fill="#6aa3df"/><rect x="457" y="596.7" width="0.6" height="16.3" fill="#6aa3df"/></svg>
<div style="left:102.8px;top:601px;width:8.67px;height:5px;line-height:5px;font-size:3.5px;color:#f4f9ff;white-space:nowrap;text-align:left;font-weight:bold;">No</div>
<div style="left:113.7px;top:601px;width:14.5px;height:5px;line-height:5px;font-size:3.5px;color:#f4f9ff;white-space:nowrap;text-align:left;font-weight:bold;">Risiko</div>
<div style="left:153.8px;top:601px;width:40.37px;height:5px;line-height:5px;font-size:3.5px;color:#f4f9ff;white-space:nowrap;text-align:left;font-weight:bold;">Rencana Penanganan</div>
<div style="left:216.6px;top:601px;width:18.59px;height:5px;line-height:5px;font-size:3.5px;color:#f4f9ff;white-space:nowrap;text-align:left;font-weight:bold;">Rencana</div>
<div style="left:216.6px;top:606px;width:17.16px;height:5px;line-height:5px;font-size:3.5px;color:#f4f9ff;white-space:nowrap;text-align:left;font-weight:bold;">Tanggal</div>
<div style="left:236.6px;top:601px;width:26.17px;height:5px;line-height:5px;font-size:3.5px;color:#f4f9ff;white-space:nowrap;text-align:left;font-weight:bold;">Inherent Risk</div>
<div style="left:268.1px;top:601px;width:15.47px;height:5px;line-height:5px;font-size:3.5px;color:#f4f9ff;white-space:nowrap;text-align:left;font-weight:bold;">Output</div>
<div style="left:306.7px;top:601px;width:9.83px;height:5px;line-height:5px;font-size:3.5px;color:#f4f9ff;white-space:nowrap;text-align:left;font-weight:bold;">PIC</div>
<div style="left:340.7px;top:601px;width:20.33px;height:5px;line-height:5px;font-size:3.5px;color:#f4f9ff;white-space:nowrap;text-align:left;font-weight:bold;">Anggaran</div>
<div style="left:362.8px;top:601px;width:19.18px;height:5px;line-height:5px;font-size:3.5px;color:#f4f9ff;white-space:nowrap;text-align:left;font-weight:bold;">Realisasi</div>
<div style="left:362.8px;top:606px;width:17.16px;height:5px;line-height:5px;font-size:3.5px;color:#f4f9ff;white-space:nowrap;text-align:left;font-weight:bold;">Tanggal</div>
<div style="left:383.6px;top:601px;width:26.95px;height:5px;line-height:5px;font-size:3.5px;color:#f4f9ff;white-space:nowrap;text-align:left;font-weight:bold;">Residual Risk</div>
<div style="left:415.8px;top:601px;width:20.92px;height:5px;line-height:5px;font-size:3.5px;color:#f4f9ff;white-space:nowrap;text-align:left;font-weight:bold;">Hambatan</div>
<div style="left:442.7px;top:601px;width:11.39px;height:5px;line-height:5px;font-size:3.5px;color:#f4f9ff;white-space:nowrap;text-align:left;font-weight:bold;">Plan</div>
<div style="left:459.5px;top:601px;width:10.03px;height:5px;line-height:5px;font-size:3.5px;color:#f4f9ff;white-space:nowrap;text-align:left;font-weight:bold;">File</div>
<svg style="left:100px;top:612px;width:392px;height:46px;" viewBox="100 612 392 46"><rect x="101.4" y="613" width="389.6" height="43.4" fill="#fdebee"/></svg>
<div style="left:103.2px;top:617px;width:5.95px;height:5px;line-height:5px;font-size:3.5px;color:#8b8b8b;white-space:nowrap;text-align:left;">1</div>
<div style="left:113.9px;top:617px;width:28.91px;height:5px;line-height:5px;font-size:3.5px;color:#8b8b8b;white-space:nowrap;text-align:left;">Ketidakefektifan</div>
<div style="left:113.9px;top:622px;width:35.13px;height:5px;line-height:5px;font-size:3.5px;color:#8b8b8b;white-space:nowrap;text-align:left;">dalam penyelesaian</div>
<div style="left:113.9px;top:627px;width:14.51px;height:5px;line-height:5px;font-size:3.5px;color:#8b8b8b;white-space:nowrap;text-align:left;">proyek</div>
<div style="left:216.8px;top:617px;width:13.34px;height:5px;line-height:5px;font-size:3.5px;color:#8b8b8b;white-space:nowrap;text-align:left;">Mulai:</div>
<div style="left:216.8px;top:622px;width:14.9px;height:5px;line-height:5px;font-size:3.5px;color:#8b8b8b;white-space:nowrap;text-align:left;">01 Feb</div>
<div style="left:216.8px;top:627px;width:11.79px;height:5px;line-height:5px;font-size:3.5px;color:#8b8b8b;white-space:nowrap;text-align:left;">2023</div>
<div style="left:216.8px;top:638px;width:16.45px;height:5px;line-height:5px;font-size:3.5px;color:#8b8b8b;white-space:nowrap;text-align:left;">Selesai:</div>
<div style="left:216.8px;top:643px;width:15.09px;height:5px;line-height:5px;font-size:3.5px;color:#8b8b8b;white-space:nowrap;text-align:left;">31 Des</div>
<div style="left:216.8px;top:648px;width:11.79px;height:5px;line-height:5px;font-size:3.5px;color:#8b8b8b;white-space:nowrap;text-align:left;">2023</div>
<div style="left:306.9px;top:617px;width:30.39px;height:5px;line-height:5px;font-size:3.5px;color:#8b8b8b;white-space:nowrap;text-align:left;">SUSANTO, S.E.,</div>
<div style="left:306.9px;top:622px;width:25.78px;height:5px;line-height:5px;font-size:3.5px;color:#8b8b8b;white-space:nowrap;text-align:left;">M.Si.Ak, M.M.</div>
<div style="left:341.5px;top:617px;width:10.81px;height:5px;line-height:5px;font-size:3.5px;color:#8b8b8b;white-space:nowrap;text-align:left;">0.00</div>
<div style="left:364.82px;top:617px;width:12.36px;height:5px;line-height:5px;font-size:3.5px;color:#4a4a4a;white-space:nowrap;text-align:center;font-weight:bold;">TW 4</div>
<div style="left:363.75px;top:627px;width:14.51px;height:5px;line-height:5px;font-size:3.5px;color:#8b8b8b;white-space:nowrap;text-align:center;">Jan 17</div>
<div style="left:362.29px;top:632px;width:17.43px;height:5px;line-height:5px;font-size:3.5px;color:#8b8b8b;white-space:nowrap;text-align:center;">2023 s.d</div>
<div style="left:363.75px;top:638px;width:14.51px;height:5px;line-height:5px;font-size:3.5px;color:#8b8b8b;white-space:nowrap;text-align:center;">31 Jan</div>
<div style="left:236.8px;top:617px;width:29px;height:5px;line-height:5px;font-size:3.5px;color:#3a3a3a;white-space:nowrap;text-align:left;font-weight:bold;letter-spacing:0.06px;">Risiko Inheren</div>
<div style="left:236.8px;top:622px;width:8.96px;height:5px;line-height:5px;font-size:3.5px;color:#8b8b8b;white-space:nowrap;text-align:left;">= 6</div>
<svg style="left:242px;top:620px;width:19px;height:8px;" viewBox="242 620 19 8"><rect x="243.4" y="621.45" width="16.6" height="4.8" fill="#4ea560" rx="0.8"/></svg>
<div style="left:242.66px;top:622px;width:18px;height:4px;line-height:4px;font-size:2.9px;color:#fff;white-space:nowrap;text-align:center;font-weight:bold;letter-spacing:-0.08px;">2 - Rendah</div>
<div style="left:236.8px;top:627px;width:14.6px;height:5px;line-height:5px;font-size:3.5px;color:#8b8b8b;white-space:nowrap;text-align:left;">(K = 3)</div>
<div style="left:236.8px;top:633px;width:14.79px;height:5px;line-height:5px;font-size:3.5px;color:#8b8b8b;white-space:nowrap;text-align:left;">(D = 2)</div>
<div style="left:384.8px;top:617px;width:28.6px;height:5px;line-height:5px;font-size:3.5px;color:#3a3a3a;white-space:nowrap;text-align:left;font-weight:bold;">Sisa Risiko = 0</div>
<svg style="left:383px;top:620px;width:24px;height:8px;" viewBox="383 620 24 8"><rect x="384.8" y="621.45" width="21" height="4.8" fill="#e6dde4" rx="0.8"/></svg>
<div style="left:384px;top:622px;width:22.4px;height:4px;line-height:4px;font-size:2.9px;color:#444;white-space:nowrap;text-align:center;font-weight:bold;letter-spacing:-0.2px;">Tidak Diketahui</div>
<div style="left:384.8px;top:627px;width:14.6px;height:5px;line-height:5px;font-size:3.5px;color:#8b8b8b;white-space:nowrap;text-align:left;">(K = 0)</div>
<div style="left:384.8px;top:633px;width:14.79px;height:5px;line-height:5px;font-size:3.5px;color:#8b8b8b;white-space:nowrap;text-align:left;">(D = 0)</div>
<svg style="left:443px;top:615px;width:13px;height:8px;" viewBox="443 615 13 8"><rect x="444" y="616.5" width="11" height="5.2" fill="#4ea560" rx="0.8"/></svg>
<div style="left:444.44px;top:617px;width:10.12px;height:4px;line-height:4px;font-size:2.9px;color:#eaffea;white-space:nowrap;text-align:center;font-weight:bold;">Plan</div>
<svg style="left:100px;top:654px;width:392px;height:46px;" viewBox="100 654 392 46"><rect x="101.4" y="655.6" width="389.6" height="42.9" fill="#fdebee"/></svg>
<div style="left:103.2px;top:659px;width:5.95px;height:5px;line-height:5px;font-size:3.5px;color:#8b8b8b;white-space:nowrap;text-align:left;">2</div>
<div style="left:113.9px;top:659px;width:25.01px;height:5px;line-height:5px;font-size:3.5px;color:#8b8b8b;white-space:nowrap;text-align:left;">Terlambatnya</div>
<div style="left:113.9px;top:665px;width:25.4px;height:5px;line-height:5px;font-size:3.5px;color:#8b8b8b;white-space:nowrap;text-align:left;">Penyampaian</div>
<div style="left:113.9px;top:670px;width:25.6px;height:5px;line-height:5px;font-size:3.5px;color:#8b8b8b;white-space:nowrap;text-align:left;">Laporan Hasil</div>
<div style="left:113.9px;top:675px;width:24.43px;height:5px;line-height:5px;font-size:3.5px;color:#8b8b8b;white-space:nowrap;text-align:left;">Pemeriksaan</div>
<div style="left:154px;top:659px;width:50.5px;height:5px;line-height:5px;font-size:3.5px;color:#8b8b8b;white-space:nowrap;text-align:left;">Melakukan koordinasi dengan</div>
<div style="left:154px;top:665px;width:51.48px;height:5px;line-height:5px;font-size:3.5px;color:#8b8b8b;white-space:nowrap;text-align:left;">pihak eksternal dan obrik yang</div>
<div style="left:154px;top:670px;width:54.59px;height:5px;line-height:5px;font-size:3.5px;color:#8b8b8b;white-space:nowrap;text-align:left;">menjadi objek pemeriksaan agar</div>
<div style="left:154px;top:675px;width:45.45px;height:5px;line-height:5px;font-size:3.5px;color:#8b8b8b;white-space:nowrap;text-align:left;">penyelesaian laporan hasil</div>
<div style="left:154px;top:680px;width:42.91px;height:5px;line-height:5px;font-size:3.5px;color:#8b8b8b;white-space:nowrap;text-align:left;">pemeriksaan tepat waktu</div>
<div style="left:216.8px;top:659px;width:13.34px;height:5px;line-height:5px;font-size:3.5px;color:#8b8b8b;white-space:nowrap;text-align:left;">Mulai:</div>
<div style="left:216.8px;top:665px;width:14.9px;height:5px;line-height:5px;font-size:3.5px;color:#8b8b8b;white-space:nowrap;text-align:left;">01 Feb</div>
<div style="left:216.8px;top:670px;width:11.79px;height:5px;line-height:5px;font-size:3.5px;color:#8b8b8b;white-space:nowrap;text-align:left;">2023</div>
<div style="left:216.8px;top:680px;width:16.45px;height:5px;line-height:5px;font-size:3.5px;color:#8b8b8b;white-space:nowrap;text-align:left;">Selesai:</div>
<div style="left:216.8px;top:686px;width:14.64px;height:5px;line-height:5px;font-size:3.5px;color:#8b8b8b;white-space:nowrap;text-align:left;">11 Feb</div>
<div style="left:216.8px;top:691px;width:11.79px;height:5px;line-height:5px;font-size:3.5px;color:#8b8b8b;white-space:nowrap;text-align:left;">2023</div>
<div style="left:268.3px;top:659px;width:25.41px;height:5px;line-height:5px;font-size:3.5px;color:#8b8b8b;white-space:nowrap;text-align:left;">Laporan yang</div>
<div style="left:268.3px;top:665px;width:30.66px;height:5px;line-height:5px;font-size:3.5px;color:#8b8b8b;white-space:nowrap;text-align:left;">dihasilkan sesuai</div>
<div style="left:268.3px;top:670px;width:33.19px;height:5px;line-height:5px;font-size:3.5px;color:#8b8b8b;white-space:nowrap;text-align:left;">rencana dan dapat</div>
<div style="left:268.3px;top:675px;width:27.74px;height:5px;line-height:5px;font-size:3.5px;color:#8b8b8b;white-space:nowrap;text-align:left;">digunakan oleh</div>
<div style="left:268.3px;top:680px;width:20.93px;height:5px;line-height:5px;font-size:3.5px;color:#8b8b8b;white-space:nowrap;text-align:left;">pihak yang</div>
<div style="left:268.3px;top:686px;width:28.13px;height:5px;line-height:5px;font-size:3.5px;color:#8b8b8b;white-space:nowrap;text-align:left;">berkepentingan</div>
<div style="left:306.9px;top:659px;width:16.25px;height:5px;line-height:5px;font-size:3.5px;color:#8b8b8b;white-space:nowrap;text-align:left;">RADEN</div>
<div style="left:306.9px;top:665px;width:19.17px;height:5px;line-height:5px;font-size:3.5px;color:#8b8b8b;white-space:nowrap;text-align:left;">JULIANTI</div>
<div style="left:306.9px;top:670px;width:32.2px;height:5px;line-height:5px;font-size:3.5px;color:#8b8b8b;white-space:nowrap;text-align:left;">FEBRIANINGSIH,</div>
<div style="left:306.9px;top:675px;width:18.72px;height:5px;line-height:5px;font-size:3.5px;color:#8b8b8b;white-space:nowrap;text-align:left;">S.IP, M.T.</div>
<div style="left:341.5px;top:659px;width:10.81px;height:5px;line-height:5px;font-size:3.5px;color:#8b8b8b;white-space:nowrap;text-align:left;">0.00</div>
<div style="left:364.82px;top:659px;width:12.36px;height:5px;line-height:5px;font-size:3.5px;color:#4a4a4a;white-space:nowrap;text-align:center;font-weight:bold;">TW 1</div>
<div style="left:363.75px;top:670px;width:14.51px;height:5px;line-height:5px;font-size:3.5px;color:#8b8b8b;white-space:nowrap;text-align:center;">Jan 10</div>
<div style="left:365.98px;top:675px;width:10.03px;height:5px;line-height:5px;font-size:3.5px;color:#8b8b8b;white-space:nowrap;text-align:center;">Feb</div>
<div style="left:362.29px;top:680px;width:17.43px;height:5px;line-height:5px;font-size:3.5px;color:#8b8b8b;white-space:nowrap;text-align:center;">2023 s.d</div>
<div style="left:363.55px;top:686px;width:14.89px;height:5px;line-height:5px;font-size:3.5px;color:#8b8b8b;white-space:nowrap;text-align:center;">17 Mar</div>
<div style="left:365.11px;top:691px;width:11.79px;height:5px;line-height:5px;font-size:3.5px;color:#8b8b8b;white-space:nowrap;text-align:center;">2023</div>
<div style="left:236.8px;top:659px;width:29px;height:5px;line-height:5px;font-size:3.5px;color:#3a3a3a;white-space:nowrap;text-align:left;font-weight:bold;letter-spacing:0.06px;">Risiko Inheren</div>
<div style="left:236.8px;top:665px;width:10.91px;height:5px;line-height:5px;font-size:3.5px;color:#8b8b8b;white-space:nowrap;text-align:left;">= 12</div>
<svg style="left:244px;top:663px;width:19px;height:7px;" viewBox="244 663 19 7"><rect x="245.4" y="664.05" width="16.4" height="4.8" fill="#f6a843" rx="0.8"/></svg>
<div style="left:244.66px;top:664px;width:17.8px;height:4px;line-height:4px;font-size:2.9px;color:#fff;white-space:nowrap;text-align:center;font-weight:bold;letter-spacing:-0.09px;">3 - Sedang</div>
<div style="left:236.8px;top:670px;width:14.6px;height:5px;line-height:5px;font-size:3.5px;color:#8b8b8b;white-space:nowrap;text-align:left;">(K = 4)</div>
<div style="left:236.8px;top:675px;width:14.79px;height:5px;line-height:5px;font-size:3.5px;color:#8b8b8b;white-space:nowrap;text-align:left;">(D = 3)</div>
<div style="left:384.8px;top:659px;width:28.6px;height:5px;line-height:5px;font-size:3.5px;color:#3a3a3a;white-space:nowrap;text-align:left;font-weight:bold;">Sisa Risiko = 2</div>
<svg style="left:383px;top:663px;width:29px;height:7px;" viewBox="383 663 29 7"><rect x="384.8" y="664.05" width="26" height="4.8" fill="#3b7cc4" rx="0.8"/></svg>
<div style="left:384.04px;top:664px;width:27.4px;height:4px;line-height:4px;font-size:2.9px;color:#fff;white-space:nowrap;text-align:center;font-weight:bold;letter-spacing:-0.11px;">1 - Sangat Rendah</div>
<div style="left:384.8px;top:670px;width:14.6px;height:5px;line-height:5px;font-size:3.5px;color:#8b8b8b;white-space:nowrap;text-align:left;">(K = 1)</div>
<div style="left:384.8px;top:675px;width:14.79px;height:5px;line-height:5px;font-size:3.5px;color:#8b8b8b;white-space:nowrap;text-align:left;">(D = 2)</div>
<svg style="left:443px;top:658px;width:13px;height:8px;" viewBox="443 658 13 8"><rect x="444" y="659.1" width="11" height="5.2" fill="#4ea560" rx="0.8"/></svg>
<div style="left:444.44px;top:660px;width:10.12px;height:4px;line-height:4px;font-size:2.9px;color:#eaffea;white-space:nowrap;text-align:center;font-weight:bold;">Plan</div>
<svg style="left:100px;top:696px;width:392px;height:51px;" viewBox="100 696 392 51"><rect x="101.4" y="697.7" width="389.6" height="47.9" fill="#fdebee"/></svg>
<div style="left:103.2px;top:702px;width:5.95px;height:5px;line-height:5px;font-size:3.5px;color:#8b8b8b;white-space:nowrap;text-align:left;">3</div>
<div style="left:113.9px;top:701px;width:32.22px;height:5px;line-height:5px;font-size:3.5px;color:#8b8b8b;white-space:nowrap;text-align:left;">Laporan Penilaian</div>
<div style="left:113.9px;top:707px;width:32.4px;height:5px;line-height:5px;font-size:3.5px;color:#8b8b8b;white-space:nowrap;text-align:left;">Mandiri Reformasi</div>
<div style="left:113.9px;top:712px;width:31.03px;height:5px;line-height:5px;font-size:3.5px;color:#8b8b8b;white-space:nowrap;text-align:left;">Birokrasi (PMRB)</div>
<div style="left:113.9px;top:717px;width:18.59px;height:5px;line-height:5px;font-size:3.5px;color:#8b8b8b;white-space:nowrap;text-align:left;">terlambat</div>
<div style="left:113.9px;top:722px;width:31.24px;height:5px;line-height:5px;font-size:3.5px;color:#8b8b8b;white-space:nowrap;text-align:left;">disampaikan oleh</div>
<div style="left:113.9px;top:728px;width:25.46px;height:5px;line-height:5px;font-size:3.5px;color:#8b8b8b;white-space:nowrap;text-align:left;">Tim Evaluator</div>
<div style="left:154px;top:701px;width:62.37px;height:5px;line-height:5px;font-size:3.5px;color:#8b8b8b;white-space:nowrap;text-align:left;">Bimtek Sosialisasi bagi pegawai yang</div>
<div style="left:154px;top:707px;width:48.95px;height:5px;line-height:5px;font-size:3.5px;color:#8b8b8b;white-space:nowrap;text-align:left;">melakukan penginputan data</div>
<div style="left:154px;top:712px;width:55.75px;height:5px;line-height:5px;font-size:3.5px;color:#8b8b8b;white-space:nowrap;text-align:left;">pada di aplikasi di Aplikasi PMRB</div>
<div style="left:216.8px;top:701px;width:13.34px;height:5px;line-height:5px;font-size:3.5px;color:#8b8b8b;white-space:nowrap;text-align:left;">Mulai:</div>
<div style="left:216.8px;top:707px;width:14.89px;height:5px;line-height:5px;font-size:3.5px;color:#8b8b8b;white-space:nowrap;text-align:left;">08 Mar</div>
<div style="left:216.8px;top:712px;width:11.79px;height:5px;line-height:5px;font-size:3.5px;color:#8b8b8b;white-space:nowrap;text-align:left;">2023</div>
<div style="left:216.8px;top:722px;width:16.45px;height:5px;line-height:5px;font-size:3.5px;color:#8b8b8b;white-space:nowrap;text-align:left;">Selesai:</div>
<div style="left:216.8px;top:728px;width:14.51px;height:5px;line-height:5px;font-size:3.5px;color:#8b8b8b;white-space:nowrap;text-align:left;">12 Mei</div>
<div style="left:216.8px;top:733px;width:11.79px;height:5px;line-height:5px;font-size:3.5px;color:#8b8b8b;white-space:nowrap;text-align:left;">2023</div>
<div style="left:268.3px;top:701px;width:30.66px;height:5px;line-height:5px;font-size:3.5px;color:#8b8b8b;white-space:nowrap;text-align:left;">Pemahaman dan</div>
<div style="left:268.3px;top:707px;width:33.18px;height:5px;line-height:5px;font-size:3.5px;color:#8b8b8b;white-space:nowrap;text-align:left;">tindak lanjut ke OT</div>
<div style="left:268.3px;top:712px;width:33.19px;height:5px;line-height:5px;font-size:3.5px;color:#8b8b8b;white-space:nowrap;text-align:left;">bagi pegawai OPD</div>
<div style="left:306.9px;top:702px;width:16.25px;height:5px;line-height:5px;font-size:3.5px;color:#8b8b8b;white-space:nowrap;text-align:left;">RADEN</div>
<div style="left:306.9px;top:707px;width:19.17px;height:5px;line-height:5px;font-size:3.5px;color:#8b8b8b;white-space:nowrap;text-align:left;">JULIANTI</div>
<div style="left:306.9px;top:712px;width:32.2px;height:5px;line-height:5px;font-size:3.5px;color:#8b8b8b;white-space:nowrap;text-align:left;">FEBRIANINGSIH,</div>
<div style="left:306.9px;top:717px;width:18.72px;height:5px;line-height:5px;font-size:3.5px;color:#8b8b8b;white-space:nowrap;text-align:left;">S.IP, M.T.</div>
<div style="left:341.5px;top:702px;width:10.81px;height:5px;line-height:5px;font-size:3.5px;color:#8b8b8b;white-space:nowrap;text-align:left;">0.00</div>
<div style="left:361.81px;top:701px;width:18.39px;height:5px;line-height:5px;font-size:3.5px;color:#4a4a4a;white-space:nowrap;text-align:center;font-weight:bold;">TW 4 s.d</div>
<div style="left:364.82px;top:707px;width:12.36px;height:5px;line-height:5px;font-size:3.5px;color:#4a4a4a;white-space:nowrap;text-align:center;font-weight:bold;">TW 4</div>
<div style="left:363.75px;top:717px;width:14.51px;height:5px;line-height:5px;font-size:3.5px;color:#8b8b8b;white-space:nowrap;text-align:center;">Jan 27</div>
<div style="left:361.9px;top:722px;width:18.21px;height:5px;line-height:5px;font-size:3.5px;color:#8b8b8b;white-space:nowrap;text-align:center;">Apr 2023</div>
<div style="left:364.23px;top:728px;width:13.53px;height:5px;line-height:5px;font-size:3.5px;color:#8b8b8b;white-space:nowrap;text-align:center;">s.d 28</div>
<div style="left:365.89px;top:733px;width:10.22px;height:5px;line-height:5px;font-size:3.5px;color:#8b8b8b;white-space:nowrap;text-align:center;">Nov</div>
<div style="left:365.11px;top:738px;width:11.79px;height:5px;line-height:5px;font-size:3.5px;color:#8b8b8b;white-space:nowrap;text-align:center;">2023</div>
<div style="left:236.8px;top:701px;width:29px;height:5px;line-height:5px;font-size:3.5px;color:#3a3a3a;white-space:nowrap;text-align:left;font-weight:bold;letter-spacing:0.06px;">Risiko Inheren</div>
<div style="left:236.8px;top:707px;width:8.96px;height:5px;line-height:5px;font-size:3.5px;color:#8b8b8b;white-space:nowrap;text-align:left;">= 9</div>
<svg style="left:242px;top:705px;width:19px;height:7px;" viewBox="242 705 19 7"><rect x="243.4" y="706.15" width="16.6" height="4.8" fill="#4ea560" rx="0.8"/></svg>
<div style="left:242.66px;top:707px;width:18px;height:4px;line-height:4px;font-size:2.9px;color:#fff;white-space:nowrap;text-align:center;font-weight:bold;letter-spacing:-0.08px;">2 - Rendah</div>
<div style="left:236.8px;top:712px;width:14.6px;height:5px;line-height:5px;font-size:3.5px;color:#8b8b8b;white-space:nowrap;text-align:left;">(K = 3)</div>
<div style="left:236.8px;top:717px;width:14.79px;height:5px;line-height:5px;font-size:3.5px;color:#8b8b8b;white-space:nowrap;text-align:left;">(D = 3)</div>
<div style="left:384.8px;top:701px;width:28.6px;height:5px;line-height:5px;font-size:3.5px;color:#3a3a3a;white-space:nowrap;text-align:left;font-weight:bold;">Sisa Risiko = 3</div>
<svg style="left:383px;top:705px;width:29px;height:7px;" viewBox="383 705 29 7"><rect x="384.8" y="706.15" width="26" height="4.8" fill="#3b7cc4" rx="0.8"/></svg>
<div style="left:384.04px;top:707px;width:27.4px;height:4px;line-height:4px;font-size:2.9px;color:#fff;white-space:nowrap;text-align:center;font-weight:bold;letter-spacing:-0.11px;">1 - Sangat Rendah</div>
<div style="left:384.8px;top:712px;width:14.6px;height:5px;line-height:5px;font-size:3.5px;color:#8b8b8b;white-space:nowrap;text-align:left;">(K = 1)</div>
<div style="left:384.8px;top:717px;width:14.79px;height:5px;line-height:5px;font-size:3.5px;color:#8b8b8b;white-space:nowrap;text-align:left;">(D = 3)</div>
<svg style="left:443px;top:700px;width:13px;height:8px;" viewBox="443 700 13 8"><rect x="444" y="701.2" width="11" height="5.2" fill="#4ea560" rx="0.8"/></svg>
<div style="left:444.44px;top:702px;width:10.12px;height:4px;line-height:4px;font-size:2.9px;color:#eaffea;white-space:nowrap;text-align:center;font-weight:bold;">Plan</div>
<svg style="left:100px;top:744px;width:392px;height:51px;" viewBox="100 744 392 51"><rect x="101.4" y="745.6" width="389.6" height="47.7" fill="#dffbd9"/></svg>
<div style="left:103.2px;top:749px;width:5.95px;height:5px;line-height:5px;font-size:3.5px;color:#8b8b8b;white-space:nowrap;text-align:left;">4</div>
<div style="left:113.9px;top:749px;width:34.93px;height:5px;line-height:5px;font-size:3.5px;color:#8b8b8b;white-space:nowrap;text-align:left;">Kegiatan SMH tidak</div>
<div style="left:113.9px;top:755px;width:27.93px;height:5px;line-height:5px;font-size:3.5px;color:#8b8b8b;white-space:nowrap;text-align:left;">berjalan secara</div>
<div style="left:113.9px;top:760px;width:15.28px;height:5px;line-height:5px;font-size:3.5px;color:#8b8b8b;white-space:nowrap;text-align:left;">optimal</div>
<div style="left:154px;top:749px;width:54.19px;height:5px;line-height:5px;font-size:3.5px;color:#8b8b8b;white-space:nowrap;text-align:left;">Sosialisasi SMH kepada seluruh</div>
<div style="left:154px;top:755px;width:43.69px;height:5px;line-height:5px;font-size:3.5px;color:#8b8b8b;white-space:nowrap;text-align:left;">OPD Pengelola 902 SMH</div>
<div style="left:216.8px;top:749px;width:13.34px;height:5px;line-height:5px;font-size:3.5px;color:#8b8b8b;white-space:nowrap;text-align:left;">Mulai:</div>
<div style="left:216.8px;top:755px;width:14.51px;height:5px;line-height:5px;font-size:3.5px;color:#8b8b8b;white-space:nowrap;text-align:left;">05 Jan</div>
<div style="left:216.8px;top:760px;width:11.79px;height:5px;line-height:5px;font-size:3.5px;color:#8b8b8b;white-space:nowrap;text-align:left;">2023</div>
<div style="left:216.8px;top:770px;width:16.45px;height:5px;line-height:5px;font-size:3.5px;color:#8b8b8b;white-space:nowrap;text-align:left;">Selesai:</div>
<div style="left:216.8px;top:776px;width:14.51px;height:5px;line-height:5px;font-size:3.5px;color:#8b8b8b;white-space:nowrap;text-align:left;">31 Mei</div>
<div style="left:216.8px;top:781px;width:11.79px;height:5px;line-height:5px;font-size:3.5px;color:#8b8b8b;white-space:nowrap;text-align:left;">2023</div>
<div style="left:268.3px;top:749px;width:34.35px;height:5px;line-height:5px;font-size:3.5px;color:#8b8b8b;white-space:nowrap;text-align:left;">Laporan Sosialisasi</div>
<div style="left:268.3px;top:755px;width:11.78px;height:5px;line-height:5px;font-size:3.5px;color:#8b8b8b;white-space:nowrap;text-align:left;">SMH</div>
<div style="left:306.9px;top:749px;width:31.81px;height:5px;line-height:5px;font-size:3.5px;color:#8b8b8b;white-space:nowrap;text-align:left;">SUPRIADI, S.Sos</div>
<div style="left:306.9px;top:755px;width:18.78px;height:5px;line-height:5px;font-size:3.5px;color:#8b8b8b;white-space:nowrap;text-align:left;">S.T, M.M.</div>
<div style="left:341.5px;top:749px;width:10.81px;height:5px;line-height:5px;font-size:3.5px;color:#8b8b8b;white-space:nowrap;text-align:left;">0.00</div>
<div style="left:361.81px;top:749px;width:18.39px;height:5px;line-height:5px;font-size:3.5px;color:#4a4a4a;white-space:nowrap;text-align:center;font-weight:bold;">TW 4 s.d</div>
<div style="left:364.82px;top:755px;width:12.36px;height:5px;line-height:5px;font-size:3.5px;color:#4a4a4a;white-space:nowrap;text-align:center;font-weight:bold;">TW 4</div>
<div style="left:363.75px;top:765px;width:14.51px;height:5px;line-height:5px;font-size:3.5px;color:#8b8b8b;white-space:nowrap;text-align:center;">Jan 02</div>
<div style="left:366.18px;top:770px;width:9.64px;height:5px;line-height:5px;font-size:3.5px;color:#8b8b8b;white-space:nowrap;text-align:center;">Jan</div>
<div style="left:362.29px;top:776px;width:17.43px;height:5px;line-height:5px;font-size:3.5px;color:#8b8b8b;white-space:nowrap;text-align:center;">2023 s.d</div>
<div style="left:363.46px;top:781px;width:15.09px;height:5px;line-height:5px;font-size:3.5px;color:#8b8b8b;white-space:nowrap;text-align:center;">30 Nov</div>
<div style="left:365.11px;top:786px;width:11.79px;height:5px;line-height:5px;font-size:3.5px;color:#8b8b8b;white-space:nowrap;text-align:center;">2023</div>
<div style="left:236.8px;top:749px;width:29px;height:5px;line-height:5px;font-size:3.5px;color:#3a3a3a;white-space:nowrap;text-align:left;font-weight:bold;letter-spacing:0.06px;">Risiko Inheren</div>
<div style="left:236.8px;top:755px;width:10.91px;height:5px;line-height:5px;font-size:3.5px;color:#8b8b8b;white-space:nowrap;text-align:left;">= 12</div>
<svg style="left:244px;top:753px;width:19px;height:7px;" viewBox="244 753 19 7"><rect x="245.4" y="754.05" width="16.4" height="4.8" fill="#f6a843" rx="0.8"/></svg>
<div style="left:244.66px;top:754px;width:17.8px;height:4px;line-height:4px;font-size:2.9px;color:#fff;white-space:nowrap;text-align:center;font-weight:bold;letter-spacing:-0.09px;">3 - Sedang</div>
<div style="left:236.8px;top:760px;width:14.6px;height:5px;line-height:5px;font-size:3.5px;color:#8b8b8b;white-space:nowrap;text-align:left;">(K = 4)</div>
<div style="left:236.8px;top:765px;width:14.79px;height:5px;line-height:5px;font-size:3.5px;color:#8b8b8b;white-space:nowrap;text-align:left;">(D = 3)</div>
<div style="left:384.8px;top:749px;width:28.6px;height:5px;line-height:5px;font-size:3.5px;color:#3a3a3a;white-space:nowrap;text-align:left;font-weight:bold;">Sisa Risiko = 2</div>
<svg style="left:383px;top:753px;width:29px;height:7px;" viewBox="383 753 29 7"><rect x="384.8" y="754.05" width="26" height="4.8" fill="#3b7cc4" rx="0.8"/></svg>
<div style="left:384.04px;top:754px;width:27.4px;height:4px;line-height:4px;font-size:2.9px;color:#fff;white-space:nowrap;text-align:center;font-weight:bold;letter-spacing:-0.11px;">1 - Sangat Rendah</div>
<div style="left:384.8px;top:760px;width:14.6px;height:5px;line-height:5px;font-size:3.5px;color:#8b8b8b;white-space:nowrap;text-align:left;">(K = 1)</div>
<div style="left:384.8px;top:765px;width:14.79px;height:5px;line-height:5px;font-size:3.5px;color:#8b8b8b;white-space:nowrap;text-align:left;">(D = 2)</div>
<svg style="left:443px;top:748px;width:13px;height:8px;" viewBox="443 748 13 8"><rect x="444" y="749.1" width="11" height="5.2" fill="#4ea560" rx="0.8"/></svg>
<div style="left:444.44px;top:750px;width:10.12px;height:4px;line-height:4px;font-size:2.9px;color:#eaffea;white-space:nowrap;text-align:center;font-weight:bold;">Plan</div>
<svg style="left:459px;top:747px;width:30px;height:14px;" viewBox="459 747 30 14"><rect x="460.9" y="748.8" width="27.1" height="10.5" fill="#dc4c3f" rx="1"/></svg>
<div style="left:464.6px;top:751px;width:25.02px;height:6px;line-height:6px;font-size:4.4px;color:#ffe5df;white-space:nowrap;text-align:left;font-weight:bold;">Download</div>
<svg style="left:459px;top:763px;width:30px;height:14px;" viewBox="459 763 30 14"><rect x="460.9" y="764.7" width="27.1" height="10.7" fill="#f1aa3f" rx="1"/></svg>
<div style="left:464.6px;top:767px;width:22.99px;height:6px;line-height:6px;font-size:4.4px;color:#ffe9b0;white-space:nowrap;text-align:left;font-weight:bold;">Tarik File</div>
<svg style="left:100px;top:792px;width:392px;height:50px;" viewBox="100 792 392 50"><rect x="101.4" y="793.3" width="389.6" height="47.5" fill="#fdebee"/></svg>
<div style="left:103.2px;top:797px;width:5.95px;height:5px;line-height:5px;font-size:3.5px;color:#8b8b8b;white-space:nowrap;text-align:left;">5</div>
<div style="left:113.9px;top:797px;width:26.18px;height:5px;line-height:5px;font-size:3.5px;color:#8b8b8b;white-space:nowrap;text-align:left;">keterlambatan</div>
<div style="left:113.9px;top:802px;width:29.1px;height:5px;line-height:5px;font-size:3.5px;color:#8b8b8b;white-space:nowrap;text-align:left;">dalam membuat</div>
<div style="left:113.9px;top:807px;width:29.88px;height:5px;line-height:5px;font-size:3.5px;color:#8b8b8b;white-space:nowrap;text-align:left;">rancangan Surat</div>
<div style="left:113.9px;top:813px;width:36.5px;height:5px;line-height:5px;font-size:3.5px;color:#8b8b8b;white-space:nowrap;text-align:left;">Keputusan Gubernur</div>
<div style="left:113.9px;top:818px;width:25.98px;height:5px;line-height:5px;font-size:3.5px;color:#8b8b8b;white-space:nowrap;text-align:left;">tentang RKPT</div>
<div style="left:154px;top:797px;width:57.89px;height:5px;line-height:5px;font-size:3.5px;color:#8b8b8b;white-space:nowrap;text-align:left;">Melakukan koordinasi ke OPD dan</div>
<div style="left:154px;top:802px;width:46.22px;height:5px;line-height:5px;font-size:3.5px;color:#8b8b8b;white-space:nowrap;text-align:left;">Inspektorat kabupaten/kota</div>
<div style="left:154px;top:807px;width:22.29px;height:5px;line-height:5px;font-size:3.5px;color:#8b8b8b;white-space:nowrap;text-align:left;">secara rutin</div>
<div style="left:216.8px;top:797px;width:13.34px;height:5px;line-height:5px;font-size:3.5px;color:#8b8b8b;white-space:nowrap;text-align:left;">Mulai:</div>
<div style="left:216.8px;top:802px;width:14.9px;height:5px;line-height:5px;font-size:3.5px;color:#8b8b8b;white-space:nowrap;text-align:left;">01 Feb</div>
<div style="left:216.8px;top:808px;width:11.79px;height:5px;line-height:5px;font-size:3.5px;color:#8b8b8b;white-space:nowrap;text-align:left;">2023</div>
<div style="left:216.8px;top:818px;width:16.45px;height:5px;line-height:5px;font-size:3.5px;color:#8b8b8b;white-space:nowrap;text-align:left;">Selesai:</div>
<div style="left:216.8px;top:823px;width:14.51px;height:5px;line-height:5px;font-size:3.5px;color:#8b8b8b;white-space:nowrap;text-align:left;">01 Jun</div>
<div style="left:216.8px;top:829px;width:11.79px;height:5px;line-height:5px;font-size:3.5px;color:#8b8b8b;white-space:nowrap;text-align:left;">2023</div>
<div style="left:268.3px;top:797px;width:24.43px;height:5px;line-height:5px;font-size:3.5px;color:#8b8b8b;white-space:nowrap;text-align:left;">SK Gubernur</div>
<div style="left:268.3px;top:802px;width:25.98px;height:5px;line-height:5px;font-size:3.5px;color:#8b8b8b;white-space:nowrap;text-align:left;">tentang RKPT</div>
<div style="left:268.3px;top:807px;width:28.52px;height:5px;line-height:5px;font-size:3.5px;color:#8b8b8b;white-space:nowrap;text-align:left;">dilengkapi tepat</div>
<div style="left:268.3px;top:813px;width:13.14px;height:5px;line-height:5px;font-size:3.5px;color:#8b8b8b;white-space:nowrap;text-align:left;">waktu</div>
<div style="left:306.9px;top:797px;width:36.54px;height:5px;line-height:5px;font-size:3.5px;color:#8b8b8b;white-space:nowrap;text-align:left;">IRWAN INDRAJAYA,</div>
<div style="left:306.9px;top:802px;width:31.61px;height:5px;line-height:5px;font-size:3.5px;color:#8b8b8b;white-space:nowrap;text-align:left;">S.E., M.Ak, CFrA,</div>
<div style="left:306.9px;top:808px;width:14.31px;height:5px;line-height:5px;font-size:3.5px;color:#8b8b8b;white-space:nowrap;text-align:left;">CRMP</div>
<div style="left:341.5px;top:797px;width:10.81px;height:5px;line-height:5px;font-size:3.5px;color:#8b8b8b;white-space:nowrap;text-align:left;">0.00</div>
<div style="left:361.81px;top:797px;width:18.39px;height:5px;line-height:5px;font-size:3.5px;color:#4a4a4a;white-space:nowrap;text-align:center;font-weight:bold;">TW 4 s.d</div>
<div style="left:364.82px;top:802px;width:12.36px;height:5px;line-height:5px;font-size:3.5px;color:#4a4a4a;white-space:nowrap;text-align:center;font-weight:bold;">TW 4</div>
<div style="left:363.75px;top:813px;width:14.51px;height:5px;line-height:5px;font-size:3.5px;color:#8b8b8b;white-space:nowrap;text-align:center;">Jan 02</div>
<div style="left:366.18px;top:818px;width:9.64px;height:5px;line-height:5px;font-size:3.5px;color:#8b8b8b;white-space:nowrap;text-align:center;">Jan</div>
<div style="left:362.29px;top:823px;width:17.43px;height:5px;line-height:5px;font-size:3.5px;color:#8b8b8b;white-space:nowrap;text-align:center;">2023 s.d</div>
<div style="left:363.46px;top:828px;width:15.09px;height:5px;line-height:5px;font-size:3.5px;color:#8b8b8b;white-space:nowrap;text-align:center;">30 Nov</div>
<div style="left:365.11px;top:834px;width:11.79px;height:5px;line-height:5px;font-size:3.5px;color:#8b8b8b;white-space:nowrap;text-align:center;">2023</div>
<div style="left:236.8px;top:797px;width:29px;height:5px;line-height:5px;font-size:3.5px;color:#3a3a3a;white-space:nowrap;text-align:left;font-weight:bold;letter-spacing:0.06px;">Risiko Inheren</div>
<div style="left:236.8px;top:802px;width:10.91px;height:5px;line-height:5px;font-size:3.5px;color:#8b8b8b;white-space:nowrap;text-align:left;">= 12</div>
<svg style="left:244px;top:800px;width:19px;height:8px;" viewBox="244 800 19 8"><rect x="245.4" y="801.75" width="16.4" height="4.8" fill="#f6a843" rx="0.8"/></svg>
<div style="left:244.66px;top:802px;width:17.8px;height:4px;line-height:4px;font-size:2.9px;color:#fff;white-space:nowrap;text-align:center;font-weight:bold;letter-spacing:-0.09px;">3 - Sedang</div>
<div style="left:236.8px;top:808px;width:14.6px;height:5px;line-height:5px;font-size:3.5px;color:#8b8b8b;white-space:nowrap;text-align:left;">(K = 4)</div>
<div style="left:236.8px;top:813px;width:14.79px;height:5px;line-height:5px;font-size:3.5px;color:#8b8b8b;white-space:nowrap;text-align:left;">(D = 3)</div>
<div style="left:384.8px;top:797px;width:28.6px;height:5px;line-height:5px;font-size:3.5px;color:#3a3a3a;white-space:nowrap;text-align:left;font-weight:bold;">Sisa Risiko = 4</div>
<svg style="left:383px;top:800px;width:20px;height:8px;" viewBox="383 800 20 8"><rect x="384.8" y="801.75" width="16.6" height="4.8" fill="#4ea560" rx="0.8"/></svg>
<div style="left:384.06px;top:802px;width:18px;height:4px;line-height:4px;font-size:2.9px;color:#fff;white-space:nowrap;text-align:center;font-weight:bold;letter-spacing:-0.08px;">2 - Rendah</div>
<div style="left:384.8px;top:808px;width:14.6px;height:5px;line-height:5px;font-size:3.5px;color:#8b8b8b;white-space:nowrap;text-align:left;">(K = 2)</div>
<div style="left:384.8px;top:813px;width:14.79px;height:5px;line-height:5px;font-size:3.5px;color:#8b8b8b;white-space:nowrap;text-align:left;">(D = 2)</div>
<svg style="left:443px;top:795px;width:13px;height:8px;" viewBox="443 795 13 8"><rect x="444" y="796.8" width="11" height="5.2" fill="#4ea560" rx="0.8"/></svg>
<div style="left:444.44px;top:797px;width:10.12px;height:4px;line-height:4px;font-size:2.9px;color:#eaffea;white-space:nowrap;text-align:center;font-weight:bold;">Plan</div>
<svg style="left:100px;top:839px;width:392px;height:51px;" viewBox="100 839 392 51"><rect x="101.4" y="840.8" width="389.6" height="48.2" fill="#dffbd9"/></svg>
<div style="left:103.2px;top:845px;width:5.95px;height:5px;line-height:5px;font-size:3.5px;color:#8b8b8b;white-space:nowrap;text-align:left;">6</div>
<div style="left:113.9px;top:844px;width:16.85px;height:5px;line-height:5px;font-size:3.5px;color:#8b8b8b;white-space:nowrap;text-align:left;">Laporan</div>
<div style="left:113.9px;top:850px;width:30.65px;height:5px;line-height:5px;font-size:3.5px;color:#8b8b8b;white-space:nowrap;text-align:left;">LHKPN/LHKASN</div>
<div style="left:113.9px;top:855px;width:18.59px;height:5px;line-height:5px;font-size:3.5px;color:#8b8b8b;white-space:nowrap;text-align:left;">terlambat</div>
<div style="left:154px;top:844px;width:49.13px;height:5px;line-height:5px;font-size:3.5px;color:#8b8b8b;white-space:nowrap;text-align:left;">Sosialisasi LHKPN/LHKASN,</div>
<div style="left:154px;top:850px;width:51.48px;height:5px;line-height:5px;font-size:3.5px;color:#8b8b8b;white-space:nowrap;text-align:left;">Pendampingan tahun sebelum</div>
<div style="left:154px;top:855px;width:41.94px;height:5px;line-height:5px;font-size:3.5px;color:#8b8b8b;white-space:nowrap;text-align:left;">batas terakhir lapor KPK</div>
<div style="left:216.8px;top:844px;width:13.34px;height:5px;line-height:5px;font-size:3.5px;color:#8b8b8b;white-space:nowrap;text-align:left;">Mulai:</div>
<div style="left:216.8px;top:850px;width:14.51px;height:5px;line-height:5px;font-size:3.5px;color:#8b8b8b;white-space:nowrap;text-align:left;">05 Jan</div>
<div style="left:216.8px;top:855px;width:11.79px;height:5px;line-height:5px;font-size:3.5px;color:#8b8b8b;white-space:nowrap;text-align:left;">2023</div>
<div style="left:268.3px;top:844px;width:16.85px;height:5px;line-height:5px;font-size:3.5px;color:#8b8b8b;white-space:nowrap;text-align:left;">Laporan</div>
<div style="left:268.3px;top:850px;width:30.65px;height:5px;line-height:5px;font-size:3.5px;color:#8b8b8b;white-space:nowrap;text-align:left;">LHKPN/LHKASN</div>
<div style="left:306.9px;top:844px;width:31.81px;height:5px;line-height:5px;font-size:3.5px;color:#8b8b8b;white-space:nowrap;text-align:left;">SUPRIADI, S.Sos</div>
<div style="left:306.9px;top:850px;width:18.78px;height:5px;line-height:5px;font-size:3.5px;color:#8b8b8b;white-space:nowrap;text-align:left;">S.T, M.M.</div>
<div style="left:341.5px;top:845px;width:10.81px;height:5px;line-height:5px;font-size:3.5px;color:#8b8b8b;white-space:nowrap;text-align:left;">0.00</div>
<div style="left:361.81px;top:844px;width:18.39px;height:5px;line-height:5px;font-size:3.5px;color:#4a4a4a;white-space:nowrap;text-align:center;font-weight:bold;">TW 4 s.d</div>
<div style="left:364.82px;top:850px;width:12.36px;height:5px;line-height:5px;font-size:3.5px;color:#4a4a4a;white-space:nowrap;text-align:center;font-weight:bold;">TW 4</div>
<div style="left:236.8px;top:844px;width:29px;height:5px;line-height:5px;font-size:3.5px;color:#3a3a3a;white-space:nowrap;text-align:left;font-weight:bold;letter-spacing:0.06px;">Risiko Inheren</div>
<div style="left:236.8px;top:850px;width:8.96px;height:5px;line-height:5px;font-size:3.5px;color:#8b8b8b;white-space:nowrap;text-align:left;">= 9</div>
<svg style="left:242px;top:848px;width:19px;height:8px;" viewBox="242 848 19 8"><rect x="243.4" y="849.25" width="16.6" height="4.8" fill="#4ea560" rx="0.8"/></svg>
<div style="left:242.66px;top:850px;width:18px;height:4px;line-height:4px;font-size:2.9px;color:#fff;white-space:nowrap;text-align:center;font-weight:bold;letter-spacing:-0.08px;">2 - Rendah</div>
<div style="left:236.8px;top:855px;width:14.6px;height:5px;line-height:5px;font-size:3.5px;color:#8b8b8b;white-space:nowrap;text-align:left;">(K = 3)</div>
<div style="left:384.8px;top:844px;width:28.6px;height:5px;line-height:5px;font-size:3.5px;color:#3a3a3a;white-space:nowrap;text-align:left;font-weight:bold;">Sisa Risiko = 2</div>
<svg style="left:383px;top:848px;width:29px;height:8px;" viewBox="383 848 29 8"><rect x="384.8" y="849.25" width="26" height="4.8" fill="#3b7cc4" rx="0.8"/></svg>
<div style="left:384.04px;top:850px;width:27.4px;height:4px;line-height:4px;font-size:2.9px;color:#fff;white-space:nowrap;text-align:center;font-weight:bold;letter-spacing:-0.11px;">1 - Sangat Rendah</div>
<div style="left:384.8px;top:855px;width:14.6px;height:5px;line-height:5px;font-size:3.5px;color:#8b8b8b;white-space:nowrap;text-align:left;">(K = 1)</div>
<svg style="left:443px;top:843px;width:13px;height:8px;" viewBox="443 843 13 8"><rect x="444" y="844.3" width="11" height="5.2" fill="#4ea560" rx="0.8"/></svg>
<div style="left:444.44px;top:845px;width:10.12px;height:4px;line-height:4px;font-size:2.9px;color:#eaffea;white-space:nowrap;text-align:center;font-weight:bold;">Plan</div>
<svg style="left:459px;top:843px;width:30px;height:13px;" viewBox="459 843 30 13"><rect x="460.9" y="844" width="27.1" height="10.5" fill="#dc4c3f" rx="1"/></svg>
<div style="left:464.6px;top:847px;width:25.02px;height:6px;line-height:6px;font-size:4.4px;color:#ffe5df;white-space:nowrap;text-align:left;font-weight:bold;">Download</div></div><div style="left:0;top:859.4px;width:488px;height:77.6px;background:#fff;"></div><svg style="left:25px;top:3.6px;width:27.8px;height:27.8px;" viewBox="0 0 27.8 27.8" preserveAspectRatio="none"><path d="M12.53 4.23 Q13.90 1.80 15.27 4.23 L17.21 7.66 Q17.93 8.95 19.38 9.24 L23.24 10.02 Q25.98 10.58 24.09 12.63 L21.42 15.53 Q20.42 16.62 20.59 18.09 L21.04 22.00 Q21.36 24.77 18.83 23.61 L15.24 21.97 Q13.90 21.36 12.56 21.97 L8.97 23.61 Q6.44 24.77 6.76 22.00 L7.21 18.09 Q7.38 16.62 6.38 15.53 L3.71 12.63 Q1.82 10.58 4.56 10.02 L8.42 9.24 Q9.87 8.95 10.59 7.66 Z" fill="none" stroke="#ababab" stroke-width="1.7" stroke-linejoin="round"/></svg>
<svg style="left:77px;top:8.8px;width:12.1px;height:16.3px;" viewBox="0 0 12.1 16.3" preserveAspectRatio="none"><path d="M3.1 7.6 V4.6 a2.95 2.95 0 0 1 5.9 0 V7.6" fill="none" stroke="#b9b9b9" stroke-width="1.9"/><rect x="0.3" y="6.8" width="11.5" height="9.3" rx="1.6" fill="#b9b9b9"/><rect x="5.3" y="9.6" width="1.5" height="3.6" rx="0.7" fill="#fff"/></svg>
<div style="left:137.3px;top:5px;width:256px;height:26px;line-height:26px;font-size:20.6px;color:#2a2a2a;white-space:nowrap;text-align:left;font-weight:bold;letter-spacing:-0.61px;">inspektorat.babelprov.go.id</div>
<svg style="left:436.3px;top:5.5px;width:23.9px;height:23.1px;" viewBox="0 0 23.9 23.1" preserveAspectRatio="none"><path d="M8.7 1.3 A10.8 10.8 0 1 0 14.5 1.25" fill="none" stroke="#707070" stroke-width="1.75" stroke-linecap="round"/><path d="M22.3 1.05 H14.5 V8.1" fill="none" stroke="#707070" stroke-width="1.75" stroke-linecap="round" stroke-linejoin="miter"/></svg>
<svg style="left:-1px;top:48px;width:490px;height:3px;" viewBox="-1 48 490 3"><rect x="0" y="49.4" width="488" height="0.6" fill="#f6f6f6"/></svg><svg style="left:27.2px;top:878.6px;width:15.3px;height:26.4px;" viewBox="0 0 15.3 26.4" preserveAspectRatio="none"><path d="M13.6 1.6 L2 13.2 L13.6 24.8" fill="none" stroke="#3d3d3d" stroke-width="1.9" stroke-linejoin="miter"/></svg>
<svg style="left:112.9px;top:878.6px;width:15.3px;height:26.4px;" viewBox="0 0 15.3 26.4" preserveAspectRatio="none"><path d="M1.7 1.6 L13.3 13.2 L1.7 24.8" fill="none" stroke="#b3b3b3" stroke-width="1.5"/></svg>
<svg style="left:189.5px;top:879.6px;width:25px;height:24.6px;" viewBox="0 0 25 24.6" preserveAspectRatio="none"><path d="M1.8 11.2 Q1.8 10.2 2.7 9.5 L11.3 2.3 Q12.5 1.4 13.7 2.3 L22.3 9.5 Q23.2 10.2 23.2 11.2 V20.4 a2.6 2.6 0 0 1 -2.6 2.6 H4.4 a2.6 2.6 0 0 1 -2.6 -2.6 Z" fill="none" stroke="#474747" stroke-width="1.9" stroke-linejoin="round"/><path d="M9.2 23 V14.6 a1.2 1.2 0 0 1 1.2 -1.2 H14.6 a1.2 1.2 0 0 1 1.2 1.2 V23" fill="none" stroke="#474747" stroke-width="1.8"/></svg>
<svg style="left:271px;top:878.4px;width:28.4px;height:26.8px;" viewBox="0 0 28.4 26.8" preserveAspectRatio="none"><path d="M16.6 21.9 L13.4 20.3 Q8.4 23.2 7.6 23.4 Q6.0 24.0 6.3 22.2 L7.5 16.4 L2.6 12.0 Q1.3 10.6 3.2 10.1 L9.6 9.2 L12.3 3.2 Q13.4 1.5 14.5 3.2 L17.2 9.2 L23.6 10.1 Q25.6 10.5 24.3 12.0 L23.2 13.0" fill="none" stroke="#474747" stroke-width="1.9" stroke-linejoin="round" stroke-linecap="round"/><path d="M17.2 16.9 H26.9 M17.2 21.1 H25.6 M17.2 25.3 H23.0" fill="none" stroke="#474747" stroke-width="1.7" stroke-linecap="round"/></svg>
<svg style="left:353.6px;top:880px;width:28.8px;height:23.8px;" viewBox="0 0 28.8 23.8" preserveAspectRatio="none"><rect x="1" y="5.6" width="21.6" height="17.2" rx="3" fill="none" stroke="#474747" stroke-width="1.8"/><path d="M8.4 1.2 H23.6 a4 4 0 0 1 4 4 V16" fill="none" stroke="#474747" stroke-width="1.7" stroke-linecap="round"/><text x="11.8" y="19.4" font-size="13.2" font-weight="bold" fill="#474747" text-anchor="middle" font-family="Liberation Sans, sans-serif">2</text></svg>
<svg style="left:438px;top:879.8px;width:25.4px;height:24px;" viewBox="0 0 25.4 24" preserveAspectRatio="none"><path d="M2.6 3.2 H22.8 M2.6 12 H22.8 M2.6 20.8 H22.8" fill="none" stroke="#474747" stroke-width="1.7" stroke-linecap="round"/></svg></div></div>
<svg style="left:795.3px;top:51px;width:506.7px;height:955.6px;" viewBox="795.3 51 506.7 955.6"><defs><linearGradient id="fg2" gradientUnits="userSpaceOnUse" x1="0" y1="53" x2="0" y2="1004.6"><stop offset="0" stop-color="#1b1f23"/><stop offset="0.0014" stop-color="#2a2d30"/><stop offset="0.0030" stop-color="#59595b"/><stop offset="0.0078" stop-color="#5d5c5d"/><stop offset="0.015" stop-color="#3a3a3c"/><stop offset="0.026" stop-color="#2c2c2e"/><stop offset="1" stop-color="#2a2a2b"/></linearGradient></defs><path d="M819.3 53H1278A22 22 0 0 1 1300 75V982.6A22 22 0 0 1 1278 1004.6H819.3A22 22 0 0 1 797.3 982.6V75A22 22 0 0 1 819.3 53Z M820.2 61H1277.2A15 15 0 0 1 1292.2 76V982.1A15 15 0 0 1 1277.2 997.1H820.2A15 15 0 0 1 805.2 982.1V76A15 15 0 0 1 820.2 61Z" fill="url(#fg2)" fill-rule="evenodd"/></svg>
</body></html>
